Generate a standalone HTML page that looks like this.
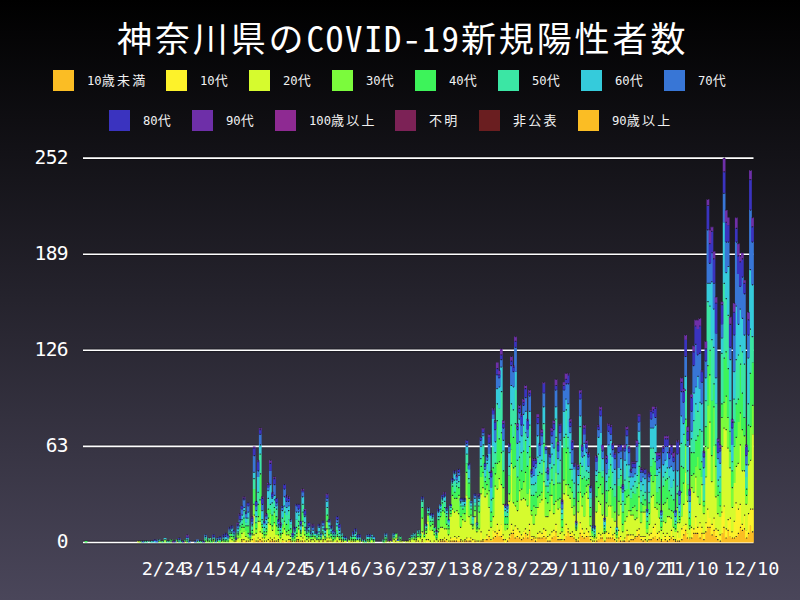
<!DOCTYPE html>
<html><head><meta charset="utf-8">
<style>
html,body{margin:0;padding:0}
body{width:800px;height:600px;overflow:hidden;position:relative;background:linear-gradient(to bottom,#000 0%,#4a465a 100%);color:#fff;font-family:"DejaVu Sans Mono","Noto Sans Mono CJK JP","Noto Sans CJK JP",monospace}
.t{position:absolute;white-space:nowrap;line-height:1}
#title{left:117px;top:19px;font-size:35px;font-family:"Noto Sans Mono CJK JP","Noto Sans CJK JP",monospace}
#title .c{letter-spacing:2.9px}
#title .l{letter-spacing:1.8px}
.lg{position:absolute;white-space:nowrap;line-height:1;font-size:12.2px;letter-spacing:0px;font-family:"DejaVu Sans Mono","Noto Sans Mono CJK JP",monospace;color:#f2f2f2}
.lg .c{letter-spacing:2.3px;font-size:13px;font-family:"Noto Sans Mono CJK JP","Noto Sans CJK JP",monospace}
.bx{position:absolute;width:21px;height:21px}
.yl{position:absolute;right:732px;font-size:19.5px;letter-spacing:-0.6px;line-height:1;font-family:"DejaVu Sans Mono",monospace;color:#fff}
.xl{position:absolute;top:560px;font-size:18.5px;transform:translateX(calc(-50% - 1px));line-height:1;font-family:"DejaVu Sans Mono",monospace;color:#fff;white-space:nowrap}
svg{position:absolute;left:0;top:0}
</style></head><body>
<div class="t" id="title"><span class="c">神奈川県の</span><span class="l">COVID-19</span><span class="c">新規陽性者数</span></div>

<div class="bx" style="left:53px;top:70px;background:#fbbd24"></div><div class="lg" style="left:87px;top:73px">10<span class="c">歳未満</span></div>
<div class="bx" style="left:166px;top:70px;background:#fdf22a"></div><div class="lg" style="left:200px;top:73px">10<span class="c">代</span></div>
<div class="bx" style="left:249px;top:70px;background:#d6fb2e"></div><div class="lg" style="left:283px;top:73px">20<span class="c">代</span></div>
<div class="bx" style="left:332px;top:70px;background:#7bfb3c"></div><div class="lg" style="left:366px;top:73px">30<span class="c">代</span></div>
<div class="bx" style="left:415px;top:70px;background:#3df35a"></div><div class="lg" style="left:449px;top:73px">40<span class="c">代</span></div>
<div class="bx" style="left:498px;top:70px;background:#3be6a4"></div><div class="lg" style="left:532px;top:73px">50<span class="c">代</span></div>
<div class="bx" style="left:581px;top:70px;background:#35cbdb"></div><div class="lg" style="left:615px;top:73px">60<span class="c">代</span></div>
<div class="bx" style="left:664px;top:70px;background:#3876d6"></div><div class="lg" style="left:698px;top:73px">70<span class="c">代</span></div>

<div class="bx" style="left:109px;top:110px;background:#3a33bf"></div><div class="lg" style="left:143px;top:113px">80<span class="c">代</span></div>
<div class="bx" style="left:192px;top:110px;background:#6e2fa8"></div><div class="lg" style="left:226px;top:113px">90<span class="c">代</span></div>
<div class="bx" style="left:275px;top:110px;background:#8e2a92"></div><div class="lg" style="left:309px;top:113px">100<span class="c">歳以上</span></div>
<div class="bx" style="left:395px;top:110px;background:#7c2256"></div><div class="lg" style="left:429px;top:113px"><span class="c">不明</span></div>
<div class="bx" style="left:479px;top:110px;background:#6a1e20"></div><div class="lg" style="left:513px;top:113px"><span class="c">非公表</span></div>
<div class="bx" style="left:578px;top:110px;background:#fbbd24"></div><div class="lg" style="left:612px;top:113px">90<span class="c">歳以上</span></div>

<div class="yl" style="top:148px">252</div>
<div class="yl" style="top:244px">189</div>
<div class="yl" style="top:340px">126</div>
<div class="yl" style="top:436px">63</div>
<div class="yl" style="top:532px">0</div>

<svg width="800" height="600" viewBox="0 0 800 600">
<g stroke="#000" stroke-width="3.8" opacity="0.28"><line x1="83" y1="158.1" x2="753.5" y2="158.1"/><line x1="83" y1="254.2" x2="753.5" y2="254.2"/><line x1="83" y1="350.3" x2="753.5" y2="350.3"/><line x1="83" y1="446.4" x2="753.5" y2="446.4"/><line x1="83" y1="542.5" x2="753.5" y2="542.5"/></g>
<g stroke="#fff" stroke-width="1.6"><line x1="83" y1="158.1" x2="753.5" y2="158.1"/><line x1="83" y1="254.2" x2="753.5" y2="254.2"/><line x1="83" y1="350.3" x2="753.5" y2="350.3"/><line x1="83" y1="446.4" x2="753.5" y2="446.4"/><line x1="83" y1="542.5" x2="753.5" y2="542.5"/></g>
<!--BARS-->
<path fill="#fbbd24" d="M240.65 540.97h2.73v1.53h-2.73zM244.70 540.97h2.73v1.53h-2.73zM252.81 537.92h2.73v4.58h-2.73zM256.86 540.97h2.73v1.53h-2.73zM258.88 539.45h2.73v3.05h-2.73zM260.91 540.97h2.73v1.53h-2.73zM269.01 540.97h2.73v1.53h-2.73zM271.04 540.97h2.73v1.53h-2.73zM273.06 540.97h2.73v1.53h-2.73zM277.12 540.97h2.73v1.53h-2.73zM281.17 540.97h2.73v1.53h-2.73zM287.24 540.97h2.73v1.53h-2.73zM289.27 540.97h2.73v1.53h-2.73zM295.35 540.97h2.73v1.53h-2.73zM297.37 540.97h2.73v1.53h-2.73zM301.42 540.97h2.73v1.53h-2.73zM317.63 540.97h2.73v1.53h-2.73zM321.68 540.97h2.73v1.53h-2.73zM325.73 540.97h2.73v1.53h-2.73zM335.86 540.97h2.73v1.53h-2.73zM339.91 540.97h2.73v1.53h-2.73zM420.94 540.97h2.73v1.53h-2.73zM439.17 540.97h2.73v1.53h-2.73zM441.20 540.97h2.73v1.53h-2.73zM443.22 540.97h2.73v1.53h-2.73zM445.25 540.97h2.73v1.53h-2.73zM449.30 540.97h2.73v1.53h-2.73zM451.32 540.97h2.73v1.53h-2.73zM453.35 540.97h2.73v1.53h-2.73zM455.38 540.97h2.73v1.53h-2.73zM457.40 540.97h2.73v1.53h-2.73zM459.43 540.97h2.73v1.53h-2.73zM463.48 540.97h2.73v1.53h-2.73zM465.50 540.97h2.73v1.53h-2.73zM467.53 540.97h2.73v1.53h-2.73zM469.55 540.97h2.73v1.53h-2.73zM473.61 540.97h2.73v1.53h-2.73zM479.68 540.97h2.73v1.53h-2.73zM481.71 540.97h2.73v1.53h-2.73zM483.73 539.45h2.73v3.05h-2.73zM485.76 539.45h2.73v3.05h-2.73zM487.79 536.40h2.73v6.10h-2.73zM489.81 540.97h2.73v1.53h-2.73zM491.84 537.92h2.73v4.58h-2.73zM493.86 536.40h2.73v6.10h-2.73zM495.89 533.35h2.73v9.15h-2.73zM497.91 536.40h2.73v6.10h-2.73zM499.94 536.40h2.73v6.10h-2.73zM501.97 539.45h2.73v3.05h-2.73zM506.02 540.97h2.73v1.53h-2.73zM508.04 537.92h2.73v4.58h-2.73zM510.07 533.35h2.73v9.15h-2.73zM512.09 533.35h2.73v9.15h-2.73zM514.12 537.92h2.73v4.58h-2.73zM516.15 536.40h2.73v6.10h-2.73zM518.17 537.92h2.73v4.58h-2.73zM520.20 539.45h2.73v3.05h-2.73zM522.22 537.92h2.73v4.58h-2.73zM524.25 533.35h2.73v9.15h-2.73zM526.27 537.92h2.73v4.58h-2.73zM528.30 530.30h2.73v12.20h-2.73zM530.33 539.45h2.73v3.05h-2.73zM532.35 537.92h2.73v4.58h-2.73zM534.38 540.97h2.73v1.53h-2.73zM536.40 537.92h2.73v4.58h-2.73zM538.43 537.92h2.73v4.58h-2.73zM540.45 537.92h2.73v4.58h-2.73zM542.48 536.40h2.73v6.10h-2.73zM544.50 537.92h2.73v4.58h-2.73zM546.53 540.97h2.73v1.53h-2.73zM548.56 540.97h2.73v1.53h-2.73zM550.58 537.92h2.73v4.58h-2.73zM552.61 536.40h2.73v6.10h-2.73zM554.63 531.82h2.73v10.68h-2.73zM556.66 539.45h2.73v3.05h-2.73zM558.68 539.45h2.73v3.05h-2.73zM560.71 540.97h2.73v1.53h-2.73zM562.74 539.45h2.73v3.05h-2.73zM564.76 536.40h2.73v6.10h-2.73zM566.79 531.82h2.73v10.68h-2.73zM568.81 536.40h2.73v6.10h-2.73zM570.84 536.40h2.73v6.10h-2.73zM572.86 537.92h2.73v4.58h-2.73zM574.89 540.97h2.73v1.53h-2.73zM576.92 540.97h2.73v1.53h-2.73zM578.94 533.35h2.73v9.15h-2.73zM580.97 536.40h2.73v6.10h-2.73zM582.99 537.92h2.73v4.58h-2.73zM585.02 536.40h2.73v6.10h-2.73zM587.04 536.40h2.73v6.10h-2.73zM589.07 539.45h2.73v3.05h-2.73zM595.15 540.97h2.73v1.53h-2.73zM597.17 539.45h2.73v3.05h-2.73zM599.20 537.92h2.73v4.58h-2.73zM601.22 537.92h2.73v4.58h-2.73zM603.25 540.97h2.73v1.53h-2.73zM605.28 537.92h2.73v4.58h-2.73zM607.30 537.92h2.73v4.58h-2.73zM609.33 537.92h2.73v4.58h-2.73zM611.35 537.92h2.73v4.58h-2.73zM613.38 539.45h2.73v3.05h-2.73zM617.43 537.92h2.73v4.58h-2.73zM619.46 540.97h2.73v1.53h-2.73zM621.48 540.97h2.73v1.53h-2.73zM623.51 540.97h2.73v1.53h-2.73zM625.53 534.87h2.73v7.63h-2.73zM627.56 540.97h2.73v1.53h-2.73zM629.58 539.45h2.73v3.05h-2.73zM631.61 539.45h2.73v3.05h-2.73zM633.63 537.92h2.73v4.58h-2.73zM635.66 536.40h2.73v6.10h-2.73zM637.69 534.87h2.73v7.63h-2.73zM639.71 539.45h2.73v3.05h-2.73zM641.74 540.97h2.73v1.53h-2.73zM643.76 539.45h2.73v3.05h-2.73zM647.81 539.45h2.73v3.05h-2.73zM649.84 539.45h2.73v3.05h-2.73zM651.87 537.92h2.73v4.58h-2.73zM653.89 536.40h2.73v6.10h-2.73zM655.92 539.45h2.73v3.05h-2.73zM657.94 537.92h2.73v4.58h-2.73zM659.97 540.97h2.73v1.53h-2.73zM661.99 540.97h2.73v1.53h-2.73zM664.02 539.45h2.73v3.05h-2.73zM666.05 540.97h2.73v1.53h-2.73zM668.07 539.45h2.73v3.05h-2.73zM670.10 537.92h2.73v4.58h-2.73zM672.12 539.45h2.73v3.05h-2.73zM674.15 540.97h2.73v1.53h-2.73zM676.17 540.97h2.73v1.53h-2.73zM678.20 540.97h2.73v1.53h-2.73zM680.23 539.45h2.73v3.05h-2.73zM682.25 534.87h2.73v7.63h-2.73zM684.28 530.30h2.73v12.20h-2.73zM686.30 537.92h2.73v4.58h-2.73zM688.33 539.45h2.73v3.05h-2.73zM690.35 537.92h2.73v4.58h-2.73zM692.38 533.35h2.73v9.15h-2.73zM694.41 533.35h2.73v9.15h-2.73zM696.43 533.35h2.73v9.15h-2.73zM698.46 537.92h2.73v4.58h-2.73zM700.48 533.35h2.73v9.15h-2.73zM702.51 539.45h2.73v3.05h-2.73zM704.53 531.82h2.73v10.68h-2.73zM706.56 527.25h2.73v15.25h-2.73zM708.59 527.25h2.73v15.25h-2.73zM710.61 534.87h2.73v7.63h-2.73zM712.64 530.30h2.73v12.20h-2.73zM714.66 536.40h2.73v6.10h-2.73zM716.69 539.45h2.73v3.05h-2.73zM718.71 540.97h2.73v1.53h-2.73zM720.74 533.35h2.73v9.15h-2.73zM722.76 527.25h2.73v15.25h-2.73zM724.79 537.92h2.73v4.58h-2.73zM726.82 530.30h2.73v12.20h-2.73zM728.84 536.40h2.73v6.10h-2.73zM730.87 537.92h2.73v4.58h-2.73zM732.89 537.92h2.73v4.58h-2.73zM734.92 536.40h2.73v6.10h-2.73zM736.94 533.35h2.73v9.15h-2.73zM738.97 527.25h2.73v15.25h-2.73zM741.00 530.30h2.73v12.20h-2.73zM743.02 528.77h2.73v13.73h-2.73zM745.05 537.92h2.73v4.58h-2.73zM747.07 533.35h2.73v9.15h-2.73zM749.10 525.72h2.73v16.78h-2.73zM751.12 531.82h2.73v10.68h-2.73z"/>
<path fill="#fdf22a" d="M183.93 540.97h2.73v1.53h-2.73zM234.58 540.97h2.73v1.53h-2.73zM236.60 540.97h2.73v1.53h-2.73zM240.65 539.45h2.73v1.53h-2.73zM242.68 539.45h2.73v3.05h-2.73zM246.73 540.97h2.73v1.53h-2.73zM248.76 540.97h2.73v1.53h-2.73zM250.78 539.45h2.73v3.05h-2.73zM252.81 534.87h2.73v3.05h-2.73zM254.83 540.97h2.73v1.53h-2.73zM256.86 537.92h2.73v3.05h-2.73zM258.88 531.82h2.73v7.63h-2.73zM260.91 537.92h2.73v3.05h-2.73zM262.94 540.97h2.73v1.53h-2.73zM264.96 540.97h2.73v1.53h-2.73zM266.99 539.45h2.73v3.05h-2.73zM269.01 537.92h2.73v3.05h-2.73zM271.04 539.45h2.73v1.53h-2.73zM273.06 537.92h2.73v3.05h-2.73zM275.09 540.97h2.73v1.53h-2.73zM277.12 539.45h2.73v1.53h-2.73zM281.17 539.45h2.73v1.53h-2.73zM283.19 540.97h2.73v1.53h-2.73zM285.22 540.97h2.73v1.53h-2.73zM287.24 539.45h2.73v1.53h-2.73zM289.27 539.45h2.73v1.53h-2.73zM295.35 539.45h2.73v1.53h-2.73zM297.37 539.45h2.73v1.53h-2.73zM299.40 540.97h2.73v1.53h-2.73zM301.42 537.92h2.73v3.05h-2.73zM303.45 540.97h2.73v1.53h-2.73zM307.50 540.97h2.73v1.53h-2.73zM309.53 540.97h2.73v1.53h-2.73zM313.58 540.97h2.73v1.53h-2.73zM321.68 539.45h2.73v1.53h-2.73zM325.73 537.92h2.73v3.05h-2.73zM327.76 540.97h2.73v1.53h-2.73zM329.78 540.97h2.73v1.53h-2.73zM350.04 540.97h2.73v1.53h-2.73zM394.60 540.97h2.73v1.53h-2.73zM408.78 540.97h2.73v1.53h-2.73zM414.86 540.97h2.73v1.53h-2.73zM416.89 540.97h2.73v1.53h-2.73zM420.94 539.45h2.73v1.53h-2.73zM424.99 539.45h2.73v3.05h-2.73zM427.02 539.45h2.73v3.05h-2.73zM429.04 540.97h2.73v1.53h-2.73zM433.09 540.97h2.73v1.53h-2.73zM437.14 540.97h2.73v1.53h-2.73zM439.17 539.45h2.73v1.53h-2.73zM441.20 539.45h2.73v1.53h-2.73zM443.22 537.92h2.73v3.05h-2.73zM445.25 539.45h2.73v1.53h-2.73zM447.27 540.97h2.73v1.53h-2.73zM449.30 537.92h2.73v3.05h-2.73zM451.32 537.92h2.73v3.05h-2.73zM453.35 536.40h2.73v4.58h-2.73zM455.38 537.92h2.73v3.05h-2.73zM457.40 536.40h2.73v4.58h-2.73zM459.43 539.45h2.73v1.53h-2.73zM461.45 540.97h2.73v1.53h-2.73zM463.48 539.45h2.73v1.53h-2.73zM465.50 537.92h2.73v3.05h-2.73zM467.53 537.92h2.73v3.05h-2.73zM469.55 537.92h2.73v3.05h-2.73zM471.58 539.45h2.73v3.05h-2.73zM473.61 539.45h2.73v1.53h-2.73zM475.63 540.97h2.73v1.53h-2.73zM477.66 540.97h2.73v1.53h-2.73zM479.68 531.82h2.73v9.15h-2.73zM481.71 539.45h2.73v1.53h-2.73zM483.73 537.92h2.73v1.53h-2.73zM485.76 534.87h2.73v4.58h-2.73zM487.79 530.30h2.73v6.10h-2.73zM489.81 539.45h2.73v1.53h-2.73zM491.84 530.30h2.73v7.63h-2.73zM493.86 531.82h2.73v4.58h-2.73zM495.89 524.20h2.73v9.15h-2.73zM497.91 530.30h2.73v6.10h-2.73zM499.94 524.20h2.73v12.20h-2.73zM501.97 534.87h2.73v4.58h-2.73zM503.99 539.45h2.73v3.05h-2.73zM506.02 537.92h2.73v3.05h-2.73zM508.04 534.87h2.73v3.05h-2.73zM510.07 524.20h2.73v9.15h-2.73zM512.09 530.30h2.73v3.05h-2.73zM514.12 525.72h2.73v12.20h-2.73zM516.15 528.77h2.73v7.63h-2.73zM518.17 531.82h2.73v6.10h-2.73zM520.20 534.87h2.73v4.58h-2.73zM522.22 531.82h2.73v6.10h-2.73zM524.25 528.77h2.73v4.58h-2.73zM526.27 534.87h2.73v3.05h-2.73zM528.30 524.20h2.73v6.10h-2.73zM530.33 536.40h2.73v3.05h-2.73zM532.35 536.40h2.73v1.53h-2.73zM534.38 537.92h2.73v3.05h-2.73zM536.40 533.35h2.73v4.58h-2.73zM538.43 531.82h2.73v6.10h-2.73zM540.45 533.35h2.73v4.58h-2.73zM542.48 528.77h2.73v7.63h-2.73zM544.50 530.30h2.73v7.63h-2.73zM546.53 536.40h2.73v4.58h-2.73zM548.56 534.87h2.73v6.10h-2.73zM550.58 531.82h2.73v6.10h-2.73zM552.61 530.30h2.73v6.10h-2.73zM554.63 524.20h2.73v7.63h-2.73zM556.66 536.40h2.73v3.05h-2.73zM558.68 533.35h2.73v6.10h-2.73zM560.71 539.45h2.73v1.53h-2.73zM562.74 534.87h2.73v4.58h-2.73zM564.76 524.20h2.73v12.20h-2.73zM566.79 528.77h2.73v3.05h-2.73zM568.81 533.35h2.73v3.05h-2.73zM570.84 531.82h2.73v4.58h-2.73zM572.86 534.87h2.73v3.05h-2.73zM574.89 539.45h2.73v1.53h-2.73zM576.92 537.92h2.73v3.05h-2.73zM578.94 522.67h2.73v10.68h-2.73zM580.97 528.77h2.73v7.63h-2.73zM582.99 533.35h2.73v4.58h-2.73zM585.02 528.77h2.73v7.63h-2.73zM587.04 531.82h2.73v4.58h-2.73zM589.07 536.40h2.73v3.05h-2.73zM591.10 540.97h2.73v1.53h-2.73zM593.12 540.97h2.73v1.53h-2.73zM595.15 537.92h2.73v3.05h-2.73zM597.17 533.35h2.73v6.10h-2.73zM599.20 534.87h2.73v3.05h-2.73zM601.22 533.35h2.73v4.58h-2.73zM605.28 531.82h2.73v6.10h-2.73zM607.30 533.35h2.73v4.58h-2.73zM609.33 527.25h2.73v10.68h-2.73zM611.35 534.87h2.73v3.05h-2.73zM613.38 533.35h2.73v6.10h-2.73zM615.40 540.97h2.73v1.53h-2.73zM617.43 530.30h2.73v7.63h-2.73zM619.46 536.40h2.73v4.58h-2.73zM623.51 537.92h2.73v3.05h-2.73zM625.53 530.30h2.73v4.58h-2.73zM627.56 534.87h2.73v6.10h-2.73zM629.58 534.87h2.73v4.58h-2.73zM631.61 534.87h2.73v4.58h-2.73zM633.63 536.40h2.73v1.53h-2.73zM635.66 530.30h2.73v6.10h-2.73zM637.69 528.77h2.73v6.10h-2.73zM639.71 536.40h2.73v3.05h-2.73zM641.74 536.40h2.73v4.58h-2.73zM643.76 536.40h2.73v3.05h-2.73zM645.79 540.97h2.73v1.53h-2.73zM647.81 534.87h2.73v4.58h-2.73zM649.84 533.35h2.73v6.10h-2.73zM651.87 527.25h2.73v10.68h-2.73zM653.89 524.20h2.73v12.20h-2.73zM655.92 533.35h2.73v6.10h-2.73zM657.94 531.82h2.73v6.10h-2.73zM659.97 539.45h2.73v1.53h-2.73zM661.99 533.35h2.73v7.63h-2.73zM664.02 536.40h2.73v3.05h-2.73zM666.05 533.35h2.73v7.63h-2.73zM668.07 536.40h2.73v3.05h-2.73zM670.10 530.30h2.73v7.63h-2.73zM672.12 536.40h2.73v3.05h-2.73zM674.15 539.45h2.73v1.53h-2.73zM676.17 531.82h2.73v9.15h-2.73zM678.20 537.92h2.73v3.05h-2.73zM680.23 528.77h2.73v10.68h-2.73zM682.25 525.72h2.73v9.15h-2.73zM684.28 524.20h2.73v6.10h-2.73zM686.30 533.35h2.73v4.58h-2.73zM688.33 537.92h2.73v1.53h-2.73zM690.35 527.25h2.73v10.68h-2.73zM692.38 528.77h2.73v4.58h-2.73zM694.41 516.57h2.73v16.78h-2.73zM696.43 527.25h2.73v6.10h-2.73zM698.46 522.67h2.73v15.25h-2.73zM700.48 527.25h2.73v6.10h-2.73zM702.51 533.35h2.73v6.10h-2.73zM704.53 522.67h2.73v9.15h-2.73zM706.56 508.94h2.73v18.30h-2.73zM708.59 518.09h2.73v9.15h-2.73zM710.61 524.20h2.73v10.68h-2.73zM712.64 518.09h2.73v12.20h-2.73zM714.66 528.77h2.73v7.63h-2.73zM716.69 530.30h2.73v9.15h-2.73zM718.71 534.87h2.73v6.10h-2.73zM720.74 511.99h2.73v21.36h-2.73zM722.76 505.89h2.73v21.36h-2.73zM724.79 528.77h2.73v9.15h-2.73zM726.82 519.62h2.73v10.68h-2.73zM728.84 518.09h2.73v18.30h-2.73zM730.87 531.82h2.73v6.10h-2.73zM732.89 521.14h2.73v16.78h-2.73zM734.92 502.84h2.73v33.56h-2.73zM736.94 508.94h2.73v24.41h-2.73zM738.97 504.37h2.73v22.88h-2.73zM741.00 524.20h2.73v6.10h-2.73zM743.02 515.04h2.73v13.73h-2.73zM745.05 530.30h2.73v7.63h-2.73zM747.07 513.52h2.73v19.83h-2.73zM749.10 508.94h2.73v16.78h-2.73zM751.12 508.94h2.73v22.88h-2.73z"/>
<path fill="#d6fb2e" d="M137.34 540.97h2.73v1.53h-2.73zM163.68 540.97h2.73v1.53h-2.73zM175.83 540.97h2.73v1.53h-2.73zM212.29 540.97h2.73v1.53h-2.73zM216.34 540.97h2.73v1.53h-2.73zM220.40 540.97h2.73v1.53h-2.73zM228.50 537.92h2.73v4.58h-2.73zM230.52 539.45h2.73v3.05h-2.73zM232.55 540.97h2.73v1.53h-2.73zM234.58 539.45h2.73v1.53h-2.73zM236.60 537.92h2.73v3.05h-2.73zM238.63 537.92h2.73v4.58h-2.73zM240.65 533.35h2.73v6.10h-2.73zM242.68 531.82h2.73v7.63h-2.73zM244.70 536.40h2.73v4.58h-2.73zM246.73 537.92h2.73v3.05h-2.73zM248.76 539.45h2.73v1.53h-2.73zM250.78 534.87h2.73v4.58h-2.73zM252.81 515.04h2.73v19.83h-2.73zM254.83 533.35h2.73v7.63h-2.73zM256.86 521.14h2.73v16.78h-2.73zM258.88 521.14h2.73v10.68h-2.73zM260.91 533.35h2.73v4.58h-2.73zM262.94 537.92h2.73v3.05h-2.73zM264.96 534.87h2.73v6.10h-2.73zM266.99 522.67h2.73v16.78h-2.73zM269.01 524.20h2.73v13.73h-2.73zM271.04 530.30h2.73v9.15h-2.73zM273.06 522.67h2.73v15.25h-2.73zM275.09 534.87h2.73v6.10h-2.73zM277.12 534.87h2.73v4.58h-2.73zM279.14 537.92h2.73v4.58h-2.73zM281.17 533.35h2.73v6.10h-2.73zM283.19 528.77h2.73v12.20h-2.73zM285.22 534.87h2.73v6.10h-2.73zM287.24 534.87h2.73v4.58h-2.73zM289.27 536.40h2.73v3.05h-2.73zM291.30 540.97h2.73v1.53h-2.73zM293.32 540.97h2.73v1.53h-2.73zM295.35 536.40h2.73v3.05h-2.73zM297.37 528.77h2.73v10.68h-2.73zM299.40 536.40h2.73v4.58h-2.73zM301.42 525.72h2.73v12.20h-2.73zM303.45 534.87h2.73v6.10h-2.73zM305.47 539.45h2.73v3.05h-2.73zM307.50 537.92h2.73v3.05h-2.73zM309.53 539.45h2.73v1.53h-2.73zM311.55 539.45h2.73v3.05h-2.73zM313.58 537.92h2.73v3.05h-2.73zM315.60 539.45h2.73v3.05h-2.73zM317.63 539.45h2.73v1.53h-2.73zM319.65 539.45h2.73v3.05h-2.73zM321.68 534.87h2.73v4.58h-2.73zM323.71 539.45h2.73v3.05h-2.73zM325.73 528.77h2.73v9.15h-2.73zM327.76 537.92h2.73v3.05h-2.73zM329.78 537.92h2.73v3.05h-2.73zM331.81 540.97h2.73v1.53h-2.73zM333.83 539.45h2.73v3.05h-2.73zM335.86 536.40h2.73v4.58h-2.73zM337.89 539.45h2.73v3.05h-2.73zM339.91 539.45h2.73v1.53h-2.73zM341.94 540.97h2.73v1.53h-2.73zM343.96 540.97h2.73v1.53h-2.73zM348.01 540.97h2.73v1.53h-2.73zM350.04 539.45h2.73v1.53h-2.73zM352.07 540.97h2.73v1.53h-2.73zM354.09 540.97h2.73v1.53h-2.73zM356.12 539.45h2.73v3.05h-2.73zM358.14 540.97h2.73v1.53h-2.73zM366.25 540.97h2.73v1.53h-2.73zM370.30 539.45h2.73v3.05h-2.73zM384.48 540.97h2.73v1.53h-2.73zM388.53 540.97h2.73v1.53h-2.73zM392.58 539.45h2.73v3.05h-2.73zM394.60 537.92h2.73v3.05h-2.73zM396.63 540.97h2.73v1.53h-2.73zM398.66 540.97h2.73v1.53h-2.73zM400.68 540.97h2.73v1.53h-2.73zM404.73 540.97h2.73v1.53h-2.73zM406.76 540.97h2.73v1.53h-2.73zM408.78 539.45h2.73v1.53h-2.73zM410.81 539.45h2.73v3.05h-2.73zM412.84 539.45h2.73v3.05h-2.73zM414.86 539.45h2.73v1.53h-2.73zM416.89 537.92h2.73v3.05h-2.73zM418.91 537.92h2.73v4.58h-2.73zM420.94 531.82h2.73v7.63h-2.73zM422.96 537.92h2.73v4.58h-2.73zM424.99 533.35h2.73v6.10h-2.73zM427.02 521.14h2.73v18.30h-2.73zM429.04 530.30h2.73v10.68h-2.73zM431.07 530.30h2.73v12.20h-2.73zM433.09 534.87h2.73v6.10h-2.73zM435.12 539.45h2.73v3.05h-2.73zM437.14 531.82h2.73v9.15h-2.73zM439.17 527.25h2.73v12.20h-2.73zM441.20 527.25h2.73v12.20h-2.73zM443.22 528.77h2.73v9.15h-2.73zM445.25 528.77h2.73v10.68h-2.73zM447.27 534.87h2.73v6.10h-2.73zM449.30 516.57h2.73v21.36h-2.73zM451.32 508.94h2.73v28.98h-2.73zM453.35 511.99h2.73v24.41h-2.73zM455.38 510.47h2.73v27.46h-2.73zM457.40 513.52h2.73v22.88h-2.73zM459.43 527.25h2.73v12.20h-2.73zM461.45 519.62h2.73v21.36h-2.73zM463.48 521.14h2.73v18.30h-2.73zM465.50 495.21h2.73v42.71h-2.73zM467.53 516.57h2.73v21.36h-2.73zM469.55 524.20h2.73v13.73h-2.73zM471.58 528.77h2.73v10.68h-2.73zM473.61 516.57h2.73v22.88h-2.73zM475.63 531.82h2.73v9.15h-2.73zM477.66 528.77h2.73v12.20h-2.73zM479.68 493.69h2.73v38.13h-2.73zM481.71 487.59h2.73v51.86h-2.73zM483.73 496.74h2.73v41.19h-2.73zM485.76 493.69h2.73v41.19h-2.73zM487.79 507.42h2.73v22.88h-2.73zM489.81 527.25h2.73v12.20h-2.73zM491.84 516.57h2.73v13.73h-2.73zM493.86 486.06h2.73v45.76h-2.73zM495.89 489.11h2.73v35.08h-2.73zM497.91 478.43h2.73v51.86h-2.73zM499.94 484.53h2.73v39.66h-2.73zM501.97 504.37h2.73v30.51h-2.73zM503.99 530.30h2.73v9.15h-2.73zM506.02 528.77h2.73v9.15h-2.73zM508.04 501.31h2.73v33.56h-2.73zM510.07 463.18h2.73v61.02h-2.73zM512.09 502.84h2.73v27.46h-2.73zM514.12 505.89h2.73v19.83h-2.73zM516.15 510.47h2.73v18.30h-2.73zM518.17 490.64h2.73v41.19h-2.73zM520.20 499.79h2.73v35.08h-2.73zM522.22 498.26h2.73v33.56h-2.73zM524.25 499.79h2.73v28.98h-2.73zM526.27 505.89h2.73v28.98h-2.73zM528.30 489.11h2.73v35.08h-2.73zM530.33 515.04h2.73v21.36h-2.73zM532.35 524.20h2.73v12.20h-2.73zM534.38 515.04h2.73v22.88h-2.73zM536.40 507.42h2.73v25.93h-2.73zM538.43 502.84h2.73v28.98h-2.73zM540.45 499.79h2.73v33.56h-2.73zM542.48 481.48h2.73v47.29h-2.73zM544.50 516.57h2.73v13.73h-2.73zM546.53 516.57h2.73v19.83h-2.73zM548.56 510.47h2.73v24.41h-2.73zM550.58 495.21h2.73v36.61h-2.73zM552.61 513.52h2.73v16.78h-2.73zM554.63 501.31h2.73v22.88h-2.73zM556.66 508.94h2.73v27.46h-2.73zM558.68 507.42h2.73v25.93h-2.73zM560.71 531.82h2.73v7.63h-2.73zM562.74 493.69h2.73v41.19h-2.73zM564.76 484.53h2.73v39.66h-2.73zM566.79 495.21h2.73v33.56h-2.73zM568.81 498.26h2.73v35.08h-2.73zM570.84 507.42h2.73v24.41h-2.73zM572.86 515.04h2.73v19.83h-2.73zM574.89 530.30h2.73v9.15h-2.73zM576.92 511.99h2.73v25.93h-2.73zM578.94 492.16h2.73v30.51h-2.73zM580.97 505.89h2.73v22.88h-2.73zM582.99 516.57h2.73v16.78h-2.73zM585.02 492.16h2.73v36.61h-2.73zM587.04 498.26h2.73v33.56h-2.73zM589.07 525.72h2.73v10.68h-2.73zM591.10 536.40h2.73v4.58h-2.73zM593.12 537.92h2.73v3.05h-2.73zM595.15 511.99h2.73v25.93h-2.73zM597.17 501.31h2.73v32.03h-2.73zM599.20 504.37h2.73v30.51h-2.73zM601.22 515.04h2.73v18.30h-2.73zM603.25 533.35h2.73v7.63h-2.73zM605.28 516.57h2.73v15.25h-2.73zM607.30 505.89h2.73v27.46h-2.73zM609.33 505.89h2.73v21.36h-2.73zM611.35 518.09h2.73v16.78h-2.73zM613.38 521.14h2.73v12.20h-2.73zM615.40 537.92h2.73v3.05h-2.73zM617.43 515.04h2.73v15.25h-2.73zM619.46 504.37h2.73v32.03h-2.73zM621.48 531.82h2.73v9.15h-2.73zM623.51 521.14h2.73v16.78h-2.73zM625.53 516.57h2.73v13.73h-2.73zM627.56 510.47h2.73v24.41h-2.73zM629.58 515.04h2.73v19.83h-2.73zM631.61 515.04h2.73v19.83h-2.73zM633.63 519.62h2.73v16.78h-2.73zM635.66 518.09h2.73v12.20h-2.73zM637.69 496.74h2.73v32.03h-2.73zM639.71 522.67h2.73v13.73h-2.73zM641.74 511.99h2.73v24.41h-2.73zM643.76 511.99h2.73v24.41h-2.73zM645.79 533.35h2.73v7.63h-2.73zM647.81 524.20h2.73v10.68h-2.73zM649.84 496.74h2.73v36.61h-2.73zM651.87 495.21h2.73v32.03h-2.73zM653.89 507.42h2.73v16.78h-2.73zM655.92 508.94h2.73v24.41h-2.73zM657.94 518.09h2.73v13.73h-2.73zM659.97 530.30h2.73v9.15h-2.73zM661.99 521.14h2.73v12.20h-2.73zM664.02 522.67h2.73v13.73h-2.73zM666.05 516.57h2.73v16.78h-2.73zM668.07 516.57h2.73v19.83h-2.73zM670.10 518.09h2.73v12.20h-2.73zM672.12 527.25h2.73v9.15h-2.73zM674.15 531.82h2.73v7.63h-2.73zM676.17 522.67h2.73v9.15h-2.73zM678.20 522.67h2.73v15.25h-2.73zM680.23 516.57h2.73v12.20h-2.73zM682.25 504.37h2.73v21.36h-2.73zM684.28 472.33h2.73v51.86h-2.73zM686.30 501.31h2.73v32.03h-2.73zM688.33 528.77h2.73v9.15h-2.73zM690.35 487.59h2.73v39.66h-2.73zM692.38 492.16h2.73v36.61h-2.73zM694.41 476.91h2.73v39.66h-2.73zM696.43 496.74h2.73v30.51h-2.73zM698.46 504.37h2.73v18.30h-2.73zM700.48 484.53h2.73v42.71h-2.73zM702.51 513.52h2.73v19.83h-2.73zM704.53 476.91h2.73v45.76h-2.73zM706.56 447.93h2.73v61.02h-2.73zM708.59 421.99h2.73v96.10h-2.73zM710.61 481.48h2.73v42.71h-2.73zM712.64 446.40h2.73v71.69h-2.73zM714.66 496.74h2.73v32.03h-2.73zM716.69 513.52h2.73v16.78h-2.73zM718.71 516.57h2.73v18.30h-2.73zM720.74 446.40h2.73v65.59h-2.73zM722.76 428.10h2.73v77.80h-2.73zM724.79 429.62h2.73v99.15h-2.73zM726.82 447.93h2.73v71.69h-2.73zM728.84 467.76h2.73v50.34h-2.73zM730.87 507.42h2.73v24.41h-2.73zM732.89 483.01h2.73v38.13h-2.73zM734.92 466.23h2.73v36.61h-2.73zM736.94 463.18h2.73v45.76h-2.73zM738.97 444.87h2.73v59.49h-2.73zM741.00 470.81h2.73v53.39h-2.73zM743.02 470.81h2.73v44.24h-2.73zM745.05 504.37h2.73v25.93h-2.73zM747.07 464.70h2.73v48.81h-2.73zM749.10 460.13h2.73v48.81h-2.73zM751.12 434.20h2.73v74.74h-2.73z"/>
<path fill="#7bfb3c" d="M139.37 540.97h2.73v1.53h-2.73zM157.60 540.97h2.73v1.53h-2.73zM159.63 540.97h2.73v1.53h-2.73zM163.68 539.45h2.73v1.53h-2.73zM169.75 540.97h2.73v1.53h-2.73zM196.09 540.97h2.73v1.53h-2.73zM204.19 540.97h2.73v1.53h-2.73zM206.22 540.97h2.73v1.53h-2.73zM208.24 540.97h2.73v1.53h-2.73zM212.29 539.45h2.73v1.53h-2.73zM222.42 540.97h2.73v1.53h-2.73zM224.45 540.97h2.73v1.53h-2.73zM226.47 540.97h2.73v1.53h-2.73zM228.50 536.40h2.73v1.53h-2.73zM230.52 536.40h2.73v3.05h-2.73zM232.55 537.92h2.73v3.05h-2.73zM236.60 534.87h2.73v3.05h-2.73zM238.63 530.30h2.73v7.63h-2.73zM240.65 527.25h2.73v6.10h-2.73zM242.68 527.25h2.73v4.58h-2.73zM244.70 530.30h2.73v6.10h-2.73zM246.73 533.35h2.73v4.58h-2.73zM248.76 537.92h2.73v1.53h-2.73zM250.78 533.35h2.73v1.53h-2.73zM252.81 504.37h2.73v10.68h-2.73zM254.83 528.77h2.73v4.58h-2.73zM256.86 516.57h2.73v4.58h-2.73zM258.88 499.79h2.73v21.36h-2.73zM260.91 527.25h2.73v6.10h-2.73zM262.94 534.87h2.73v3.05h-2.73zM264.96 531.82h2.73v3.05h-2.73zM266.99 518.09h2.73v4.58h-2.73zM269.01 513.52h2.73v10.68h-2.73zM271.04 525.72h2.73v4.58h-2.73zM273.06 511.99h2.73v10.68h-2.73zM275.09 525.72h2.73v9.15h-2.73zM277.12 530.30h2.73v4.58h-2.73zM279.14 534.87h2.73v3.05h-2.73zM281.17 527.25h2.73v6.10h-2.73zM283.19 521.14h2.73v7.63h-2.73zM285.22 531.82h2.73v3.05h-2.73zM287.24 530.30h2.73v4.58h-2.73zM289.27 533.35h2.73v3.05h-2.73zM291.30 539.45h2.73v1.53h-2.73zM293.32 537.92h2.73v3.05h-2.73zM295.35 533.35h2.73v3.05h-2.73zM297.37 525.72h2.73v3.05h-2.73zM299.40 533.35h2.73v3.05h-2.73zM301.42 521.14h2.73v4.58h-2.73zM303.45 530.30h2.73v4.58h-2.73zM305.47 536.40h2.73v3.05h-2.73zM307.50 536.40h2.73v1.53h-2.73zM309.53 537.92h2.73v1.53h-2.73zM311.55 536.40h2.73v3.05h-2.73zM313.58 536.40h2.73v1.53h-2.73zM317.63 536.40h2.73v3.05h-2.73zM321.68 533.35h2.73v1.53h-2.73zM323.71 537.92h2.73v1.53h-2.73zM325.73 521.14h2.73v7.63h-2.73zM327.76 534.87h2.73v3.05h-2.73zM329.78 536.40h2.73v1.53h-2.73zM331.81 539.45h2.73v1.53h-2.73zM333.83 537.92h2.73v1.53h-2.73zM335.86 534.87h2.73v1.53h-2.73zM337.89 537.92h2.73v1.53h-2.73zM339.91 537.92h2.73v1.53h-2.73zM341.94 539.45h2.73v1.53h-2.73zM348.01 539.45h2.73v1.53h-2.73zM352.07 539.45h2.73v1.53h-2.73zM354.09 539.45h2.73v1.53h-2.73zM358.14 539.45h2.73v1.53h-2.73zM362.19 540.97h2.73v1.53h-2.73zM366.25 539.45h2.73v1.53h-2.73zM368.27 540.97h2.73v1.53h-2.73zM372.32 540.97h2.73v1.53h-2.73zM384.48 539.45h2.73v1.53h-2.73zM392.58 537.92h2.73v1.53h-2.73zM394.60 534.87h2.73v3.05h-2.73zM398.66 539.45h2.73v1.53h-2.73zM410.81 537.92h2.73v1.53h-2.73zM412.84 537.92h2.73v1.53h-2.73zM414.86 537.92h2.73v1.53h-2.73zM416.89 536.40h2.73v1.53h-2.73zM418.91 536.40h2.73v1.53h-2.73zM420.94 518.09h2.73v13.73h-2.73zM422.96 536.40h2.73v1.53h-2.73zM424.99 530.30h2.73v3.05h-2.73zM427.02 515.04h2.73v6.10h-2.73zM429.04 525.72h2.73v4.58h-2.73zM431.07 524.20h2.73v6.10h-2.73zM433.09 531.82h2.73v3.05h-2.73zM435.12 537.92h2.73v1.53h-2.73zM437.14 528.77h2.73v3.05h-2.73zM439.17 516.57h2.73v10.68h-2.73zM441.20 510.47h2.73v16.78h-2.73zM443.22 511.99h2.73v16.78h-2.73zM445.25 524.20h2.73v4.58h-2.73zM447.27 528.77h2.73v6.10h-2.73zM449.30 513.52h2.73v3.05h-2.73zM451.32 495.21h2.73v13.73h-2.73zM453.35 498.26h2.73v13.73h-2.73zM455.38 498.26h2.73v12.20h-2.73zM457.40 495.21h2.73v18.30h-2.73zM459.43 516.57h2.73v10.68h-2.73zM461.45 513.52h2.73v6.10h-2.73zM463.48 513.52h2.73v7.63h-2.73zM465.50 472.33h2.73v22.88h-2.73zM467.53 498.26h2.73v18.30h-2.73zM469.55 515.04h2.73v9.15h-2.73zM471.58 525.72h2.73v3.05h-2.73zM473.61 510.47h2.73v6.10h-2.73zM475.63 528.77h2.73v3.05h-2.73zM477.66 511.99h2.73v16.78h-2.73zM479.68 476.91h2.73v16.78h-2.73zM481.71 472.33h2.73v15.25h-2.73zM483.73 489.11h2.73v7.63h-2.73zM485.76 484.53h2.73v9.15h-2.73zM487.79 490.64h2.73v16.78h-2.73zM489.81 521.14h2.73v6.10h-2.73zM491.84 498.26h2.73v18.30h-2.73zM493.86 473.86h2.73v12.20h-2.73zM495.89 463.18h2.73v25.93h-2.73zM497.91 461.65h2.73v16.78h-2.73zM499.94 452.50h2.73v32.03h-2.73zM501.97 487.59h2.73v16.78h-2.73zM503.99 524.20h2.73v6.10h-2.73zM506.02 524.20h2.73v4.58h-2.73zM508.04 493.69h2.73v7.63h-2.73zM510.07 449.45h2.73v13.73h-2.73zM512.09 467.76h2.73v35.08h-2.73zM514.12 466.23h2.73v39.66h-2.73zM516.15 501.31h2.73v9.15h-2.73zM518.17 479.96h2.73v10.68h-2.73zM520.20 489.11h2.73v10.68h-2.73zM522.22 481.48h2.73v16.78h-2.73zM524.25 472.33h2.73v27.46h-2.73zM526.27 493.69h2.73v12.20h-2.73zM528.30 457.08h2.73v32.03h-2.73zM530.33 510.47h2.73v4.58h-2.73zM532.35 505.89h2.73v18.30h-2.73zM534.38 507.42h2.73v7.63h-2.73zM536.40 496.74h2.73v10.68h-2.73zM538.43 495.21h2.73v7.63h-2.73zM540.45 492.16h2.73v7.63h-2.73zM542.48 461.65h2.73v19.83h-2.73zM544.50 498.26h2.73v18.30h-2.73zM546.53 502.84h2.73v13.73h-2.73zM548.56 495.21h2.73v15.25h-2.73zM550.58 479.96h2.73v15.25h-2.73zM552.61 504.37h2.73v9.15h-2.73zM554.63 472.33h2.73v28.98h-2.73zM556.66 499.79h2.73v9.15h-2.73zM558.68 498.26h2.73v9.15h-2.73zM560.71 527.25h2.73v4.58h-2.73zM562.74 479.96h2.73v13.73h-2.73zM564.76 452.50h2.73v32.03h-2.73zM566.79 484.53h2.73v10.68h-2.73zM568.81 487.59h2.73v10.68h-2.73zM570.84 492.16h2.73v15.25h-2.73zM572.86 505.89h2.73v9.15h-2.73zM574.89 528.77h2.73v1.53h-2.73zM576.92 501.31h2.73v10.68h-2.73zM578.94 475.38h2.73v16.78h-2.73zM580.97 496.74h2.73v9.15h-2.73zM582.99 493.69h2.73v22.88h-2.73zM585.02 486.06h2.73v6.10h-2.73zM587.04 484.53h2.73v13.73h-2.73zM589.07 516.57h2.73v9.15h-2.73zM591.10 533.35h2.73v3.05h-2.73zM593.12 536.40h2.73v1.53h-2.73zM595.15 496.74h2.73v15.25h-2.73zM597.17 487.59h2.73v13.73h-2.73zM599.20 484.53h2.73v19.83h-2.73zM601.22 493.69h2.73v21.36h-2.73zM603.25 531.82h2.73v1.53h-2.73zM605.28 502.84h2.73v13.73h-2.73zM607.30 490.64h2.73v15.25h-2.73zM609.33 487.59h2.73v18.30h-2.73zM611.35 505.89h2.73v12.20h-2.73zM613.38 511.99h2.73v9.15h-2.73zM615.40 534.87h2.73v3.05h-2.73zM617.43 501.31h2.73v13.73h-2.73zM619.46 487.59h2.73v16.78h-2.73zM621.48 524.20h2.73v7.63h-2.73zM623.51 504.37h2.73v16.78h-2.73zM625.53 496.74h2.73v19.83h-2.73zM627.56 495.21h2.73v15.25h-2.73zM629.58 510.47h2.73v4.58h-2.73zM631.61 507.42h2.73v7.63h-2.73zM633.63 505.89h2.73v13.73h-2.73zM635.66 510.47h2.73v7.63h-2.73zM637.69 483.01h2.73v13.73h-2.73zM639.71 511.99h2.73v10.68h-2.73zM641.74 504.37h2.73v7.63h-2.73zM643.76 505.89h2.73v6.10h-2.73zM645.79 528.77h2.73v4.58h-2.73zM647.81 513.52h2.73v10.68h-2.73zM649.84 475.38h2.73v21.36h-2.73zM651.87 481.48h2.73v13.73h-2.73zM653.89 475.38h2.73v32.03h-2.73zM655.92 502.84h2.73v6.10h-2.73zM657.94 504.37h2.73v13.73h-2.73zM659.97 527.25h2.73v3.05h-2.73zM661.99 504.37h2.73v16.78h-2.73zM664.02 502.84h2.73v19.83h-2.73zM666.05 498.26h2.73v18.30h-2.73zM668.07 508.94h2.73v7.63h-2.73zM670.10 510.47h2.73v7.63h-2.73zM672.12 511.99h2.73v15.25h-2.73zM674.15 528.77h2.73v3.05h-2.73zM676.17 507.42h2.73v15.25h-2.73zM678.20 519.62h2.73v3.05h-2.73zM680.23 492.16h2.73v24.41h-2.73zM682.25 483.01h2.73v21.36h-2.73zM684.28 444.87h2.73v27.46h-2.73zM686.30 495.21h2.73v6.10h-2.73zM688.33 525.72h2.73v3.05h-2.73zM690.35 475.38h2.73v12.20h-2.73zM692.38 473.86h2.73v18.30h-2.73zM694.41 466.23h2.73v10.68h-2.73zM696.43 457.08h2.73v39.66h-2.73zM698.46 469.28h2.73v35.08h-2.73zM700.48 476.91h2.73v7.63h-2.73zM702.51 505.89h2.73v7.63h-2.73zM704.53 446.40h2.73v30.51h-2.73zM706.56 405.21h2.73v42.71h-2.73zM708.59 374.71h2.73v47.29h-2.73zM710.61 455.55h2.73v25.93h-2.73zM712.64 406.74h2.73v39.66h-2.73zM714.66 466.23h2.73v30.51h-2.73zM716.69 495.21h2.73v18.30h-2.73zM718.71 505.89h2.73v10.68h-2.73zM720.74 417.42h2.73v28.98h-2.73zM722.76 402.16h2.73v25.93h-2.73zM724.79 396.06h2.73v33.56h-2.73zM726.82 417.42h2.73v30.51h-2.73zM728.84 450.98h2.73v16.78h-2.73zM730.87 487.59h2.73v19.83h-2.73zM732.89 446.40h2.73v36.61h-2.73zM734.92 437.25h2.73v28.98h-2.73zM736.94 421.99h2.73v41.19h-2.73zM738.97 412.84h2.73v32.03h-2.73zM741.00 429.62h2.73v41.19h-2.73zM743.02 435.72h2.73v35.08h-2.73zM745.05 495.21h2.73v9.15h-2.73zM747.07 450.98h2.73v13.73h-2.73zM749.10 426.57h2.73v33.56h-2.73zM751.12 405.21h2.73v28.98h-2.73z"/>
<path fill="#3df35a" d="M84.68 540.97h2.73v1.53h-2.73zM169.75 539.45h2.73v1.53h-2.73zM175.83 539.45h2.73v1.53h-2.73zM179.88 540.97h2.73v1.53h-2.73zM183.93 539.45h2.73v1.53h-2.73zM185.96 540.97h2.73v1.53h-2.73zM200.14 540.97h2.73v1.53h-2.73zM204.19 539.45h2.73v1.53h-2.73zM208.24 539.45h2.73v1.53h-2.73zM210.27 540.97h2.73v1.53h-2.73zM218.37 540.97h2.73v1.53h-2.73zM222.42 539.45h2.73v1.53h-2.73zM224.45 539.45h2.73v1.53h-2.73zM226.47 539.45h2.73v1.53h-2.73zM228.50 533.35h2.73v3.05h-2.73zM230.52 533.35h2.73v3.05h-2.73zM232.55 536.40h2.73v1.53h-2.73zM236.60 533.35h2.73v1.53h-2.73zM238.63 525.72h2.73v4.58h-2.73zM240.65 524.20h2.73v3.05h-2.73zM242.68 518.09h2.73v9.15h-2.73zM244.70 525.72h2.73v4.58h-2.73zM246.73 525.72h2.73v7.63h-2.73zM248.76 536.40h2.73v1.53h-2.73zM250.78 530.30h2.73v3.05h-2.73zM252.81 489.11h2.73v15.25h-2.73zM254.83 522.67h2.73v6.10h-2.73zM256.86 504.37h2.73v12.20h-2.73zM258.88 473.86h2.73v25.93h-2.73zM260.91 524.20h2.73v3.05h-2.73zM262.94 531.82h2.73v3.05h-2.73zM264.96 528.77h2.73v3.05h-2.73zM266.99 508.94h2.73v9.15h-2.73zM269.01 508.94h2.73v4.58h-2.73zM271.04 515.04h2.73v10.68h-2.73zM273.06 507.42h2.73v4.58h-2.73zM275.09 516.57h2.73v9.15h-2.73zM277.12 527.25h2.73v3.05h-2.73zM279.14 533.35h2.73v1.53h-2.73zM281.17 524.20h2.73v3.05h-2.73zM283.19 511.99h2.73v9.15h-2.73zM285.22 524.20h2.73v7.63h-2.73zM287.24 519.62h2.73v10.68h-2.73zM289.27 528.77h2.73v4.58h-2.73zM291.30 537.92h2.73v1.53h-2.73zM293.32 534.87h2.73v3.05h-2.73zM295.35 527.25h2.73v6.10h-2.73zM297.37 521.14h2.73v4.58h-2.73zM299.40 531.82h2.73v1.53h-2.73zM301.42 511.99h2.73v9.15h-2.73zM303.45 527.25h2.73v3.05h-2.73zM305.47 533.35h2.73v3.05h-2.73zM307.50 531.82h2.73v4.58h-2.73zM309.53 536.40h2.73v1.53h-2.73zM311.55 534.87h2.73v1.53h-2.73zM313.58 534.87h2.73v1.53h-2.73zM315.60 537.92h2.73v1.53h-2.73zM317.63 534.87h2.73v1.53h-2.73zM319.65 537.92h2.73v1.53h-2.73zM321.68 531.82h2.73v1.53h-2.73zM323.71 536.40h2.73v1.53h-2.73zM325.73 515.04h2.73v6.10h-2.73zM327.76 528.77h2.73v6.10h-2.73zM329.78 533.35h2.73v3.05h-2.73zM331.81 536.40h2.73v3.05h-2.73zM333.83 536.40h2.73v1.53h-2.73zM335.86 530.30h2.73v4.58h-2.73zM337.89 536.40h2.73v1.53h-2.73zM339.91 536.40h2.73v1.53h-2.73zM343.96 539.45h2.73v1.53h-2.73zM350.04 537.92h2.73v1.53h-2.73zM352.07 537.92h2.73v1.53h-2.73zM354.09 536.40h2.73v3.05h-2.73zM368.27 539.45h2.73v1.53h-2.73zM370.30 537.92h2.73v1.53h-2.73zM372.32 539.45h2.73v1.53h-2.73zM382.45 540.97h2.73v1.53h-2.73zM384.48 537.92h2.73v1.53h-2.73zM394.60 533.35h2.73v1.53h-2.73zM398.66 537.92h2.73v1.53h-2.73zM408.78 537.92h2.73v1.53h-2.73zM412.84 536.40h2.73v1.53h-2.73zM416.89 533.35h2.73v3.05h-2.73zM418.91 534.87h2.73v1.53h-2.73zM420.94 507.42h2.73v10.68h-2.73zM422.96 534.87h2.73v1.53h-2.73zM424.99 528.77h2.73v1.53h-2.73zM427.02 513.52h2.73v1.53h-2.73zM429.04 521.14h2.73v4.58h-2.73zM431.07 521.14h2.73v3.05h-2.73zM433.09 528.77h2.73v3.05h-2.73zM435.12 534.87h2.73v3.05h-2.73zM437.14 519.62h2.73v9.15h-2.73zM439.17 511.99h2.73v4.58h-2.73zM441.20 502.84h2.73v7.63h-2.73zM443.22 507.42h2.73v4.58h-2.73zM445.25 516.57h2.73v7.63h-2.73zM447.27 525.72h2.73v3.05h-2.73zM449.30 510.47h2.73v3.05h-2.73zM451.32 486.06h2.73v9.15h-2.73zM453.35 492.16h2.73v6.10h-2.73zM455.38 486.06h2.73v12.20h-2.73zM457.40 487.59h2.73v7.63h-2.73zM459.43 505.89h2.73v10.68h-2.73zM461.45 508.94h2.73v4.58h-2.73zM463.48 505.89h2.73v7.63h-2.73zM465.50 463.18h2.73v9.15h-2.73zM467.53 483.01h2.73v15.25h-2.73zM469.55 508.94h2.73v6.10h-2.73zM471.58 524.20h2.73v1.53h-2.73zM473.61 505.89h2.73v4.58h-2.73zM475.63 527.25h2.73v1.53h-2.73zM477.66 505.89h2.73v6.10h-2.73zM479.68 466.23h2.73v10.68h-2.73zM481.71 455.55h2.73v16.78h-2.73zM483.73 481.48h2.73v7.63h-2.73zM485.76 470.81h2.73v13.73h-2.73zM487.79 478.43h2.73v12.20h-2.73zM489.81 511.99h2.73v9.15h-2.73zM491.84 467.76h2.73v30.51h-2.73zM493.86 463.18h2.73v10.68h-2.73zM495.89 420.47h2.73v42.71h-2.73zM497.91 438.77h2.73v22.88h-2.73zM499.94 432.67h2.73v19.83h-2.73zM501.97 470.81h2.73v16.78h-2.73zM503.99 516.57h2.73v7.63h-2.73zM506.02 516.57h2.73v7.63h-2.73zM508.04 475.38h2.73v18.30h-2.73zM510.07 425.04h2.73v24.41h-2.73zM512.09 437.25h2.73v30.51h-2.73zM514.12 423.52h2.73v42.71h-2.73zM516.15 476.91h2.73v24.41h-2.73zM518.17 457.08h2.73v22.88h-2.73zM520.20 470.81h2.73v18.30h-2.73zM522.22 450.98h2.73v30.51h-2.73zM524.25 440.30h2.73v32.03h-2.73zM526.27 466.23h2.73v27.46h-2.73zM528.30 446.40h2.73v10.68h-2.73zM530.33 495.21h2.73v15.25h-2.73zM532.35 495.21h2.73v10.68h-2.73zM534.38 492.16h2.73v15.25h-2.73zM536.40 475.38h2.73v21.36h-2.73zM538.43 472.33h2.73v22.88h-2.73zM540.45 473.86h2.73v18.30h-2.73zM542.48 443.35h2.73v18.30h-2.73zM544.50 486.06h2.73v12.20h-2.73zM546.53 492.16h2.73v10.68h-2.73zM548.56 483.01h2.73v12.20h-2.73zM550.58 467.76h2.73v12.20h-2.73zM552.61 484.53h2.73v19.83h-2.73zM554.63 437.25h2.73v35.08h-2.73zM556.66 483.01h2.73v16.78h-2.73zM558.68 483.01h2.73v15.25h-2.73zM560.71 519.62h2.73v7.63h-2.73zM562.74 447.93h2.73v32.03h-2.73zM564.76 434.20h2.73v18.30h-2.73zM566.79 447.93h2.73v36.61h-2.73zM568.81 469.28h2.73v18.30h-2.73zM570.84 479.96h2.73v12.20h-2.73zM572.86 498.26h2.73v7.63h-2.73zM574.89 527.25h2.73v1.53h-2.73zM576.92 492.16h2.73v9.15h-2.73zM578.94 463.18h2.73v12.20h-2.73zM580.97 478.43h2.73v18.30h-2.73zM582.99 476.91h2.73v16.78h-2.73zM585.02 479.96h2.73v6.10h-2.73zM587.04 478.43h2.73v6.10h-2.73zM589.07 507.42h2.73v9.15h-2.73zM591.10 530.30h2.73v3.05h-2.73zM593.12 534.87h2.73v1.53h-2.73zM595.15 481.48h2.73v15.25h-2.73zM597.17 472.33h2.73v15.25h-2.73zM599.20 472.33h2.73v12.20h-2.73zM601.22 476.91h2.73v16.78h-2.73zM603.25 528.77h2.73v3.05h-2.73zM605.28 490.64h2.73v12.20h-2.73zM607.30 476.91h2.73v13.73h-2.73zM609.33 464.70h2.73v22.88h-2.73zM611.35 489.11h2.73v16.78h-2.73zM613.38 496.74h2.73v15.25h-2.73zM615.40 531.82h2.73v3.05h-2.73zM617.43 486.06h2.73v15.25h-2.73zM619.46 475.38h2.73v12.20h-2.73zM621.48 511.99h2.73v12.20h-2.73zM623.51 490.64h2.73v13.73h-2.73zM625.53 489.11h2.73v7.63h-2.73zM627.56 481.48h2.73v13.73h-2.73zM629.58 498.26h2.73v12.20h-2.73zM631.61 492.16h2.73v15.25h-2.73zM633.63 493.69h2.73v12.20h-2.73zM635.66 487.59h2.73v22.88h-2.73zM637.69 466.23h2.73v16.78h-2.73zM639.71 502.84h2.73v9.15h-2.73zM641.74 495.21h2.73v9.15h-2.73zM643.76 499.79h2.73v6.10h-2.73zM645.79 521.14h2.73v7.63h-2.73zM647.81 502.84h2.73v10.68h-2.73zM649.84 466.23h2.73v9.15h-2.73zM651.87 458.60h2.73v22.88h-2.73zM653.89 461.65h2.73v13.73h-2.73zM655.92 492.16h2.73v10.68h-2.73zM657.94 487.59h2.73v16.78h-2.73zM659.97 521.14h2.73v6.10h-2.73zM661.99 486.06h2.73v18.30h-2.73zM664.02 479.96h2.73v22.88h-2.73zM666.05 478.43h2.73v19.83h-2.73zM668.07 490.64h2.73v18.30h-2.73zM670.10 495.21h2.73v15.25h-2.73zM672.12 499.79h2.73v12.20h-2.73zM674.15 524.20h2.73v4.58h-2.73zM676.17 493.69h2.73v13.73h-2.73zM678.20 516.57h2.73v3.05h-2.73zM680.23 466.23h2.73v25.93h-2.73zM682.25 467.76h2.73v15.25h-2.73zM684.28 418.94h2.73v25.93h-2.73zM686.30 484.53h2.73v10.68h-2.73zM688.33 518.09h2.73v7.63h-2.73zM690.35 452.50h2.73v22.88h-2.73zM692.38 452.50h2.73v21.36h-2.73zM694.41 440.30h2.73v25.93h-2.73zM696.43 435.72h2.73v21.36h-2.73zM698.46 429.62h2.73v39.66h-2.73zM700.48 461.65h2.73v15.25h-2.73zM702.51 501.31h2.73v4.58h-2.73zM704.53 426.57h2.73v19.83h-2.73zM706.56 365.55h2.73v39.66h-2.73zM708.59 350.30h2.73v24.41h-2.73zM710.61 400.64h2.73v54.91h-2.73zM712.64 383.86h2.73v22.88h-2.73zM714.66 444.87h2.73v21.36h-2.73zM716.69 486.06h2.73v9.15h-2.73zM718.71 492.16h2.73v13.73h-2.73zM720.74 403.69h2.73v13.73h-2.73zM722.76 357.93h2.73v44.24h-2.73zM724.79 351.83h2.73v44.24h-2.73zM726.82 368.60h2.73v48.81h-2.73zM728.84 431.15h2.73v19.83h-2.73zM730.87 470.81h2.73v16.78h-2.73zM732.89 421.99h2.73v24.41h-2.73zM734.92 403.69h2.73v33.56h-2.73zM736.94 399.11h2.73v22.88h-2.73zM738.97 364.03h2.73v48.81h-2.73zM741.00 393.01h2.73v36.61h-2.73zM743.02 417.42h2.73v18.30h-2.73zM745.05 489.11h2.73v6.10h-2.73zM747.07 425.04h2.73v25.93h-2.73zM749.10 373.18h2.73v53.39h-2.73zM751.12 362.50h2.73v42.71h-2.73z"/>
<path fill="#3be6a4" d="M143.42 540.97h2.73v1.53h-2.73zM145.45 540.97h2.73v1.53h-2.73zM149.50 540.97h2.73v1.53h-2.73zM161.65 540.97h2.73v1.53h-2.73zM165.70 540.97h2.73v1.53h-2.73zM167.73 540.97h2.73v1.53h-2.73zM177.86 540.97h2.73v1.53h-2.73zM185.96 539.45h2.73v1.53h-2.73zM198.11 540.97h2.73v1.53h-2.73zM204.19 537.92h2.73v1.53h-2.73zM208.24 537.92h2.73v1.53h-2.73zM212.29 537.92h2.73v1.53h-2.73zM218.37 539.45h2.73v1.53h-2.73zM222.42 537.92h2.73v1.53h-2.73zM228.50 531.82h2.73v1.53h-2.73zM230.52 531.82h2.73v1.53h-2.73zM232.55 534.87h2.73v1.53h-2.73zM236.60 531.82h2.73v1.53h-2.73zM238.63 522.67h2.73v3.05h-2.73zM240.65 519.62h2.73v4.58h-2.73zM242.68 510.47h2.73v7.63h-2.73zM244.70 522.67h2.73v3.05h-2.73zM246.73 518.09h2.73v7.63h-2.73zM250.78 525.72h2.73v4.58h-2.73zM252.81 478.43h2.73v10.68h-2.73zM254.83 516.57h2.73v6.10h-2.73zM256.86 492.16h2.73v12.20h-2.73zM258.88 454.03h2.73v19.83h-2.73zM260.91 519.62h2.73v4.58h-2.73zM262.94 527.25h2.73v4.58h-2.73zM264.96 524.20h2.73v4.58h-2.73zM266.99 498.26h2.73v10.68h-2.73zM269.01 504.37h2.73v4.58h-2.73zM271.04 502.84h2.73v12.20h-2.73zM273.06 499.79h2.73v7.63h-2.73zM275.09 508.94h2.73v7.63h-2.73zM277.12 525.72h2.73v1.53h-2.73zM279.14 530.30h2.73v3.05h-2.73zM281.17 518.09h2.73v6.10h-2.73zM283.19 505.89h2.73v6.10h-2.73zM285.22 515.04h2.73v9.15h-2.73zM287.24 510.47h2.73v9.15h-2.73zM289.27 524.20h2.73v4.58h-2.73zM291.30 536.40h2.73v1.53h-2.73zM293.32 531.82h2.73v3.05h-2.73zM295.35 519.62h2.73v7.63h-2.73zM297.37 515.04h2.73v6.10h-2.73zM299.40 530.30h2.73v1.53h-2.73zM301.42 504.37h2.73v7.63h-2.73zM303.45 522.67h2.73v4.58h-2.73zM305.47 531.82h2.73v1.53h-2.73zM307.50 530.30h2.73v1.53h-2.73zM309.53 534.87h2.73v1.53h-2.73zM311.55 533.35h2.73v1.53h-2.73zM315.60 534.87h2.73v3.05h-2.73zM317.63 531.82h2.73v3.05h-2.73zM319.65 536.40h2.73v1.53h-2.73zM321.68 528.77h2.73v3.05h-2.73zM323.71 533.35h2.73v3.05h-2.73zM325.73 507.42h2.73v7.63h-2.73zM327.76 525.72h2.73v3.05h-2.73zM329.78 531.82h2.73v1.53h-2.73zM331.81 534.87h2.73v1.53h-2.73zM333.83 534.87h2.73v1.53h-2.73zM335.86 525.72h2.73v4.58h-2.73zM337.89 533.35h2.73v3.05h-2.73zM339.91 534.87h2.73v1.53h-2.73zM341.94 537.92h2.73v1.53h-2.73zM350.04 536.40h2.73v1.53h-2.73zM352.07 536.40h2.73v1.53h-2.73zM354.09 533.35h2.73v3.05h-2.73zM358.14 537.92h2.73v1.53h-2.73zM364.22 540.97h2.73v1.53h-2.73zM366.25 537.92h2.73v1.53h-2.73zM368.27 537.92h2.73v1.53h-2.73zM370.30 536.40h2.73v1.53h-2.73zM382.45 539.45h2.73v1.53h-2.73zM384.48 536.40h2.73v1.53h-2.73zM392.58 536.40h2.73v1.53h-2.73zM398.66 536.40h2.73v1.53h-2.73zM410.81 536.40h2.73v1.53h-2.73zM412.84 534.87h2.73v1.53h-2.73zM416.89 531.82h2.73v1.53h-2.73zM418.91 533.35h2.73v1.53h-2.73zM420.94 501.31h2.73v6.10h-2.73zM424.99 525.72h2.73v3.05h-2.73zM427.02 510.47h2.73v3.05h-2.73zM429.04 518.09h2.73v3.05h-2.73zM431.07 518.09h2.73v3.05h-2.73zM433.09 527.25h2.73v1.53h-2.73zM435.12 533.35h2.73v1.53h-2.73zM437.14 516.57h2.73v3.05h-2.73zM439.17 508.94h2.73v3.05h-2.73zM441.20 499.79h2.73v3.05h-2.73zM443.22 501.31h2.73v6.10h-2.73zM445.25 513.52h2.73v3.05h-2.73zM447.27 522.67h2.73v3.05h-2.73zM449.30 507.42h2.73v3.05h-2.73zM451.32 483.01h2.73v3.05h-2.73zM453.35 479.96h2.73v12.20h-2.73zM455.38 483.01h2.73v3.05h-2.73zM457.40 481.48h2.73v6.10h-2.73zM459.43 502.84h2.73v3.05h-2.73zM461.45 505.89h2.73v3.05h-2.73zM463.48 504.37h2.73v1.53h-2.73zM465.50 454.03h2.73v9.15h-2.73zM467.53 478.43h2.73v4.58h-2.73zM469.55 505.89h2.73v3.05h-2.73zM471.58 519.62h2.73v4.58h-2.73zM473.61 502.84h2.73v3.05h-2.73zM475.63 525.72h2.73v1.53h-2.73zM477.66 501.31h2.73v4.58h-2.73zM479.68 458.60h2.73v7.63h-2.73zM481.71 444.87h2.73v10.68h-2.73zM483.73 476.91h2.73v4.58h-2.73zM485.76 463.18h2.73v7.63h-2.73zM487.79 472.33h2.73v6.10h-2.73zM489.81 499.79h2.73v12.20h-2.73zM491.84 446.40h2.73v21.36h-2.73zM493.86 452.50h2.73v10.68h-2.73zM495.89 403.69h2.73v16.78h-2.73zM497.91 408.27h2.73v30.51h-2.73zM499.94 391.49h2.73v41.19h-2.73zM501.97 450.98h2.73v19.83h-2.73zM503.99 510.47h2.73v6.10h-2.73zM506.02 511.99h2.73v4.58h-2.73zM508.04 466.23h2.73v9.15h-2.73zM510.07 403.69h2.73v21.36h-2.73zM512.09 409.79h2.73v27.46h-2.73zM514.12 389.96h2.73v33.56h-2.73zM516.15 460.13h2.73v16.78h-2.73zM518.17 441.82h2.73v15.25h-2.73zM520.20 452.50h2.73v18.30h-2.73zM522.22 425.04h2.73v25.93h-2.73zM524.25 432.67h2.73v7.63h-2.73zM526.27 452.50h2.73v13.73h-2.73zM528.30 425.04h2.73v21.36h-2.73zM530.33 484.53h2.73v10.68h-2.73zM532.35 484.53h2.73v10.68h-2.73zM534.38 483.01h2.73v9.15h-2.73zM536.40 457.08h2.73v18.30h-2.73zM538.43 463.18h2.73v9.15h-2.73zM540.45 460.13h2.73v13.73h-2.73zM542.48 423.52h2.73v19.83h-2.73zM544.50 472.33h2.73v13.73h-2.73zM546.53 486.06h2.73v6.10h-2.73zM548.56 469.28h2.73v13.73h-2.73zM550.58 454.03h2.73v13.73h-2.73zM552.61 464.70h2.73v19.83h-2.73zM554.63 418.94h2.73v18.30h-2.73zM556.66 473.86h2.73v9.15h-2.73zM558.68 460.13h2.73v22.88h-2.73zM560.71 513.52h2.73v6.10h-2.73zM562.74 437.25h2.73v10.68h-2.73zM564.76 409.79h2.73v24.41h-2.73zM566.79 437.25h2.73v10.68h-2.73zM568.81 452.50h2.73v16.78h-2.73zM570.84 469.28h2.73v10.68h-2.73zM572.86 483.01h2.73v15.25h-2.73zM574.89 525.72h2.73v1.53h-2.73zM576.92 484.53h2.73v7.63h-2.73zM578.94 426.57h2.73v36.61h-2.73zM580.97 466.23h2.73v12.20h-2.73zM582.99 455.55h2.73v21.36h-2.73zM585.02 470.81h2.73v9.15h-2.73zM587.04 472.33h2.73v6.10h-2.73zM589.07 498.26h2.73v9.15h-2.73zM591.10 528.77h2.73v1.53h-2.73zM593.12 531.82h2.73v3.05h-2.73zM595.15 475.38h2.73v6.10h-2.73zM597.17 454.03h2.73v18.30h-2.73zM599.20 447.93h2.73v24.41h-2.73zM601.22 470.81h2.73v6.10h-2.73zM603.25 525.72h2.73v3.05h-2.73zM605.28 481.48h2.73v9.15h-2.73zM607.30 469.28h2.73v7.63h-2.73zM609.33 454.03h2.73v10.68h-2.73zM611.35 472.33h2.73v16.78h-2.73zM613.38 484.53h2.73v12.20h-2.73zM615.40 530.30h2.73v1.53h-2.73zM617.43 478.43h2.73v7.63h-2.73zM619.46 469.28h2.73v6.10h-2.73zM621.48 501.31h2.73v10.68h-2.73zM623.51 479.96h2.73v10.68h-2.73zM625.53 464.70h2.73v24.41h-2.73zM627.56 476.91h2.73v4.58h-2.73zM629.58 489.11h2.73v9.15h-2.73zM631.61 486.06h2.73v6.10h-2.73zM633.63 481.48h2.73v12.20h-2.73zM635.66 475.38h2.73v12.20h-2.73zM637.69 443.35h2.73v22.88h-2.73zM639.71 490.64h2.73v12.20h-2.73zM641.74 484.53h2.73v10.68h-2.73zM643.76 492.16h2.73v7.63h-2.73zM645.79 516.57h2.73v4.58h-2.73zM647.81 492.16h2.73v10.68h-2.73zM649.84 447.93h2.73v18.30h-2.73zM651.87 447.93h2.73v10.68h-2.73zM653.89 452.50h2.73v9.15h-2.73zM655.92 475.38h2.73v16.78h-2.73zM657.94 472.33h2.73v15.25h-2.73zM659.97 518.09h2.73v3.05h-2.73zM661.99 476.91h2.73v9.15h-2.73zM664.02 472.33h2.73v7.63h-2.73zM666.05 467.76h2.73v10.68h-2.73zM668.07 476.91h2.73v13.73h-2.73zM670.10 487.59h2.73v7.63h-2.73zM672.12 479.96h2.73v19.83h-2.73zM674.15 521.14h2.73v3.05h-2.73zM676.17 486.06h2.73v7.63h-2.73zM678.20 511.99h2.73v4.58h-2.73zM680.23 443.35h2.73v22.88h-2.73zM682.25 434.20h2.73v33.56h-2.73zM684.28 389.96h2.73v28.98h-2.73zM686.30 470.81h2.73v13.73h-2.73zM688.33 511.99h2.73v6.10h-2.73zM690.35 438.77h2.73v13.73h-2.73zM692.38 420.47h2.73v32.03h-2.73zM694.41 403.69h2.73v36.61h-2.73zM696.43 411.32h2.73v24.41h-2.73zM698.46 402.16h2.73v27.46h-2.73zM700.48 431.15h2.73v30.51h-2.73zM702.51 484.53h2.73v16.78h-2.73zM704.53 400.64h2.73v25.93h-2.73zM706.56 301.49h2.73v64.07h-2.73zM708.59 306.06h2.73v44.24h-2.73zM710.61 339.62h2.73v61.02h-2.73zM712.64 347.25h2.73v36.61h-2.73zM714.66 403.69h2.73v41.19h-2.73zM716.69 479.96h2.73v6.10h-2.73zM718.71 476.91h2.73v15.25h-2.73zM720.74 353.35h2.73v50.34h-2.73zM722.76 283.18h2.73v74.74h-2.73zM724.79 298.44h2.73v53.39h-2.73zM726.82 315.22h2.73v53.39h-2.73zM728.84 400.64h2.73v30.51h-2.73zM730.87 461.65h2.73v9.15h-2.73zM732.89 399.11h2.73v22.88h-2.73zM734.92 359.45h2.73v44.24h-2.73zM736.94 354.88h2.73v44.24h-2.73zM738.97 345.72h2.73v18.30h-2.73zM741.00 351.83h2.73v41.19h-2.73zM743.02 364.03h2.73v53.39h-2.73zM745.05 476.91h2.73v12.20h-2.73zM747.07 403.69h2.73v21.36h-2.73zM749.10 328.94h2.73v44.24h-2.73zM751.12 336.57h2.73v25.93h-2.73z"/>
<path fill="#35cbdb" d="M151.52 540.97h2.73v1.53h-2.73zM153.55 540.97h2.73v1.53h-2.73zM157.60 539.45h2.73v1.53h-2.73zM163.68 537.92h2.73v1.53h-2.73zM177.86 539.45h2.73v1.53h-2.73zM185.96 537.92h2.73v1.53h-2.73zM204.19 536.40h2.73v1.53h-2.73zM214.32 540.97h2.73v1.53h-2.73zM216.34 539.45h2.73v1.53h-2.73zM224.45 536.40h2.73v3.05h-2.73zM226.47 537.92h2.73v1.53h-2.73zM228.50 530.30h2.73v1.53h-2.73zM230.52 528.77h2.73v3.05h-2.73zM232.55 533.35h2.73v1.53h-2.73zM236.60 528.77h2.73v3.05h-2.73zM238.63 521.14h2.73v1.53h-2.73zM240.65 515.04h2.73v4.58h-2.73zM242.68 507.42h2.73v3.05h-2.73zM244.70 518.09h2.73v4.58h-2.73zM246.73 511.99h2.73v6.10h-2.73zM248.76 534.87h2.73v1.53h-2.73zM250.78 524.20h2.73v1.53h-2.73zM252.81 472.33h2.73v6.10h-2.73zM254.83 510.47h2.73v6.10h-2.73zM256.86 476.91h2.73v15.25h-2.73zM258.88 444.87h2.73v9.15h-2.73zM260.91 510.47h2.73v9.15h-2.73zM262.94 524.20h2.73v3.05h-2.73zM264.96 519.62h2.73v4.58h-2.73zM266.99 490.64h2.73v7.63h-2.73zM269.01 484.53h2.73v19.83h-2.73zM271.04 498.26h2.73v4.58h-2.73zM273.06 495.21h2.73v4.58h-2.73zM275.09 505.89h2.73v3.05h-2.73zM277.12 524.20h2.73v1.53h-2.73zM279.14 527.25h2.73v3.05h-2.73zM281.17 510.47h2.73v7.63h-2.73zM283.19 496.74h2.73v9.15h-2.73zM285.22 507.42h2.73v7.63h-2.73zM287.24 505.89h2.73v4.58h-2.73zM289.27 521.14h2.73v3.05h-2.73zM293.32 530.30h2.73v1.53h-2.73zM295.35 511.99h2.73v7.63h-2.73zM297.37 511.99h2.73v3.05h-2.73zM299.40 525.72h2.73v4.58h-2.73zM301.42 496.74h2.73v7.63h-2.73zM303.45 516.57h2.73v6.10h-2.73zM305.47 530.30h2.73v1.53h-2.73zM307.50 527.25h2.73v3.05h-2.73zM309.53 533.35h2.73v1.53h-2.73zM311.55 530.30h2.73v3.05h-2.73zM313.58 533.35h2.73v1.53h-2.73zM315.60 533.35h2.73v1.53h-2.73zM317.63 527.25h2.73v4.58h-2.73zM319.65 534.87h2.73v1.53h-2.73zM321.68 525.72h2.73v3.05h-2.73zM323.71 530.30h2.73v3.05h-2.73zM325.73 501.31h2.73v6.10h-2.73zM327.76 522.67h2.73v3.05h-2.73zM329.78 528.77h2.73v3.05h-2.73zM331.81 533.35h2.73v1.53h-2.73zM333.83 533.35h2.73v1.53h-2.73zM335.86 522.67h2.73v3.05h-2.73zM337.89 530.30h2.73v3.05h-2.73zM339.91 533.35h2.73v1.53h-2.73zM341.94 536.40h2.73v1.53h-2.73zM343.96 537.92h2.73v1.53h-2.73zM352.07 534.87h2.73v1.53h-2.73zM354.09 531.82h2.73v1.53h-2.73zM356.12 537.92h2.73v1.53h-2.73zM362.19 539.45h2.73v1.53h-2.73zM366.25 536.40h2.73v1.53h-2.73zM368.27 536.40h2.73v1.53h-2.73zM370.30 534.87h2.73v1.53h-2.73zM372.32 537.92h2.73v1.53h-2.73zM384.48 534.87h2.73v1.53h-2.73zM392.58 534.87h2.73v1.53h-2.73zM410.81 534.87h2.73v1.53h-2.73zM412.84 533.35h2.73v1.53h-2.73zM416.89 530.30h2.73v1.53h-2.73zM420.94 499.79h2.73v1.53h-2.73zM427.02 508.94h2.73v1.53h-2.73zM429.04 515.04h2.73v3.05h-2.73zM431.07 516.57h2.73v1.53h-2.73zM435.12 531.82h2.73v1.53h-2.73zM437.14 511.99h2.73v4.58h-2.73zM439.17 505.89h2.73v3.05h-2.73zM441.20 498.26h2.73v1.53h-2.73zM443.22 496.74h2.73v4.58h-2.73zM445.25 510.47h2.73v3.05h-2.73zM447.27 521.14h2.73v1.53h-2.73zM449.30 505.89h2.73v1.53h-2.73zM451.32 481.48h2.73v1.53h-2.73zM453.35 473.86h2.73v6.10h-2.73zM455.38 479.96h2.73v3.05h-2.73zM457.40 475.38h2.73v6.10h-2.73zM459.43 501.31h2.73v1.53h-2.73zM461.45 501.31h2.73v4.58h-2.73zM463.48 501.31h2.73v3.05h-2.73zM465.50 446.40h2.73v7.63h-2.73zM467.53 469.28h2.73v9.15h-2.73zM469.55 502.84h2.73v3.05h-2.73zM471.58 516.57h2.73v3.05h-2.73zM473.61 498.26h2.73v4.58h-2.73zM475.63 524.20h2.73v1.53h-2.73zM477.66 498.26h2.73v3.05h-2.73zM479.68 446.40h2.73v12.20h-2.73zM481.71 435.72h2.73v9.15h-2.73zM483.73 469.28h2.73v7.63h-2.73zM485.76 460.13h2.73v3.05h-2.73zM487.79 454.03h2.73v18.30h-2.73zM489.81 487.59h2.73v12.20h-2.73zM491.84 418.94h2.73v27.46h-2.73zM493.86 441.82h2.73v10.68h-2.73zM495.89 388.43h2.73v15.25h-2.73zM497.91 386.91h2.73v21.36h-2.73zM499.94 367.08h2.73v24.41h-2.73zM501.97 440.30h2.73v10.68h-2.73zM503.99 507.42h2.73v3.05h-2.73zM506.02 508.94h2.73v3.05h-2.73zM508.04 452.50h2.73v13.73h-2.73zM510.07 385.38h2.73v18.30h-2.73zM512.09 386.91h2.73v22.88h-2.73zM514.12 371.66h2.73v18.30h-2.73zM516.15 443.35h2.73v16.78h-2.73zM518.17 418.94h2.73v22.88h-2.73zM520.20 435.72h2.73v16.78h-2.73zM522.22 414.37h2.73v10.68h-2.73zM524.25 411.32h2.73v21.36h-2.73zM526.27 437.25h2.73v15.25h-2.73zM528.30 411.32h2.73v13.73h-2.73zM530.33 476.91h2.73v7.63h-2.73zM532.35 475.38h2.73v9.15h-2.73zM534.38 467.76h2.73v15.25h-2.73zM536.40 435.72h2.73v21.36h-2.73zM538.43 455.55h2.73v7.63h-2.73zM540.45 444.87h2.73v15.25h-2.73zM542.48 406.74h2.73v16.78h-2.73zM544.50 454.03h2.73v18.30h-2.73zM546.53 479.96h2.73v6.10h-2.73zM548.56 463.18h2.73v6.10h-2.73zM550.58 443.35h2.73v10.68h-2.73zM552.61 447.93h2.73v16.78h-2.73zM554.63 406.74h2.73v12.20h-2.73zM556.66 458.60h2.73v15.25h-2.73zM558.68 440.30h2.73v19.83h-2.73zM560.71 508.94h2.73v4.58h-2.73zM562.74 411.32h2.73v25.93h-2.73zM564.76 399.11h2.73v10.68h-2.73zM566.79 403.69h2.73v33.56h-2.73zM568.81 432.67h2.73v19.83h-2.73zM570.84 463.18h2.73v6.10h-2.73zM572.86 469.28h2.73v13.73h-2.73zM574.89 524.20h2.73v1.53h-2.73zM576.92 475.38h2.73v9.15h-2.73zM578.94 415.89h2.73v10.68h-2.73zM580.97 457.08h2.73v9.15h-2.73zM582.99 443.35h2.73v12.20h-2.73zM585.02 452.50h2.73v18.30h-2.73zM587.04 466.23h2.73v6.10h-2.73zM589.07 492.16h2.73v6.10h-2.73zM591.10 527.25h2.73v1.53h-2.73zM593.12 528.77h2.73v3.05h-2.73zM595.15 470.81h2.73v4.58h-2.73zM597.17 437.25h2.73v16.78h-2.73zM599.20 432.67h2.73v15.25h-2.73zM601.22 458.60h2.73v12.20h-2.73zM603.25 521.14h2.73v4.58h-2.73zM605.28 473.86h2.73v7.63h-2.73zM607.30 444.87h2.73v24.41h-2.73zM609.33 440.30h2.73v13.73h-2.73zM611.35 457.08h2.73v15.25h-2.73zM613.38 469.28h2.73v15.25h-2.73zM615.40 527.25h2.73v3.05h-2.73zM617.43 467.76h2.73v10.68h-2.73zM619.46 458.60h2.73v10.68h-2.73zM621.48 492.16h2.73v9.15h-2.73zM623.51 460.13h2.73v19.83h-2.73zM625.53 444.87h2.73v19.83h-2.73zM627.56 464.70h2.73v12.20h-2.73zM629.58 476.91h2.73v12.20h-2.73zM631.61 476.91h2.73v9.15h-2.73zM633.63 473.86h2.73v7.63h-2.73zM635.66 461.65h2.73v13.73h-2.73zM637.69 431.15h2.73v12.20h-2.73zM639.71 481.48h2.73v9.15h-2.73zM641.74 476.91h2.73v7.63h-2.73zM643.76 478.43h2.73v13.73h-2.73zM645.79 511.99h2.73v4.58h-2.73zM647.81 481.48h2.73v10.68h-2.73zM649.84 428.10h2.73v19.83h-2.73zM651.87 428.10h2.73v19.83h-2.73zM653.89 425.04h2.73v27.46h-2.73zM655.92 469.28h2.73v6.10h-2.73zM657.94 467.76h2.73v4.58h-2.73zM659.97 515.04h2.73v3.05h-2.73zM661.99 464.70h2.73v12.20h-2.73zM664.02 460.13h2.73v12.20h-2.73zM666.05 452.50h2.73v15.25h-2.73zM668.07 467.76h2.73v9.15h-2.73zM670.10 466.23h2.73v21.36h-2.73zM672.12 470.81h2.73v9.15h-2.73zM674.15 516.57h2.73v4.58h-2.73zM676.17 470.81h2.73v15.25h-2.73zM678.20 504.37h2.73v7.63h-2.73zM680.23 415.89h2.73v27.46h-2.73zM682.25 423.52h2.73v10.68h-2.73zM684.28 376.23h2.73v13.73h-2.73zM686.30 446.40h2.73v24.41h-2.73zM688.33 501.31h2.73v10.68h-2.73zM690.35 431.15h2.73v7.63h-2.73zM692.38 393.01h2.73v27.46h-2.73zM694.41 386.91h2.73v16.78h-2.73zM696.43 376.23h2.73v35.08h-2.73zM698.46 388.43h2.73v13.73h-2.73zM700.48 403.69h2.73v27.46h-2.73zM702.51 467.76h2.73v16.78h-2.73zM704.53 377.76h2.73v22.88h-2.73zM706.56 283.18h2.73v18.30h-2.73zM708.59 283.18h2.73v22.88h-2.73zM710.61 281.66h2.73v57.97h-2.73zM712.64 309.11h2.73v38.13h-2.73zM714.66 377.76h2.73v25.93h-2.73zM716.69 458.60h2.73v21.36h-2.73zM718.71 463.18h2.73v13.73h-2.73zM720.74 338.10h2.73v15.25h-2.73zM722.76 222.17h2.73v61.02h-2.73zM724.79 272.50h2.73v25.93h-2.73zM726.82 266.40h2.73v48.81h-2.73zM728.84 359.45h2.73v41.19h-2.73zM730.87 444.87h2.73v16.78h-2.73zM732.89 371.66h2.73v27.46h-2.73zM734.92 306.06h2.73v53.39h-2.73zM736.94 324.37h2.73v30.51h-2.73zM738.97 309.11h2.73v36.61h-2.73zM741.00 318.27h2.73v33.56h-2.73zM743.02 335.05h2.73v28.98h-2.73zM745.05 464.70h2.73v12.20h-2.73zM747.07 357.93h2.73v45.76h-2.73zM749.10 269.45h2.73v59.49h-2.73zM751.12 284.71h2.73v51.86h-2.73z"/>
<path fill="#3876d6" d="M141.39 540.97h2.73v1.53h-2.73zM155.57 540.97h2.73v1.53h-2.73zM173.81 540.97h2.73v1.53h-2.73zM187.99 540.97h2.73v1.53h-2.73zM194.06 540.97h2.73v1.53h-2.73zM196.09 539.45h2.73v1.53h-2.73zM204.19 534.87h2.73v1.53h-2.73zM212.29 536.40h2.73v1.53h-2.73zM216.34 537.92h2.73v1.53h-2.73zM218.37 537.92h2.73v1.53h-2.73zM222.42 536.40h2.73v1.53h-2.73zM224.45 534.87h2.73v1.53h-2.73zM226.47 536.40h2.73v1.53h-2.73zM228.50 528.77h2.73v1.53h-2.73zM230.52 527.25h2.73v1.53h-2.73zM232.55 531.82h2.73v1.53h-2.73zM236.60 525.72h2.73v3.05h-2.73zM238.63 519.62h2.73v1.53h-2.73zM240.65 508.94h2.73v6.10h-2.73zM242.68 499.79h2.73v7.63h-2.73zM244.70 513.52h2.73v4.58h-2.73zM246.73 505.89h2.73v6.10h-2.73zM248.76 533.35h2.73v1.53h-2.73zM250.78 521.14h2.73v3.05h-2.73zM252.81 455.55h2.73v16.78h-2.73zM254.83 505.89h2.73v4.58h-2.73zM256.86 470.81h2.73v6.10h-2.73zM258.88 434.20h2.73v10.68h-2.73zM260.91 504.37h2.73v6.10h-2.73zM262.94 522.67h2.73v1.53h-2.73zM264.96 516.57h2.73v3.05h-2.73zM266.99 487.59h2.73v3.05h-2.73zM269.01 470.81h2.73v13.73h-2.73zM271.04 496.74h2.73v1.53h-2.73zM273.06 484.53h2.73v10.68h-2.73zM275.09 502.84h2.73v3.05h-2.73zM277.12 521.14h2.73v3.05h-2.73zM279.14 525.72h2.73v1.53h-2.73zM281.17 507.42h2.73v3.05h-2.73zM283.19 489.11h2.73v7.63h-2.73zM285.22 501.31h2.73v6.10h-2.73zM287.24 501.31h2.73v4.58h-2.73zM289.27 519.62h2.73v1.53h-2.73zM291.30 534.87h2.73v1.53h-2.73zM293.32 528.77h2.73v1.53h-2.73zM295.35 505.89h2.73v6.10h-2.73zM297.37 508.94h2.73v3.05h-2.73zM299.40 524.20h2.73v1.53h-2.73zM301.42 492.16h2.73v4.58h-2.73zM303.45 515.04h2.73v1.53h-2.73zM305.47 528.77h2.73v1.53h-2.73zM307.50 525.72h2.73v1.53h-2.73zM309.53 531.82h2.73v1.53h-2.73zM311.55 527.25h2.73v3.05h-2.73zM317.63 525.72h2.73v1.53h-2.73zM319.65 533.35h2.73v1.53h-2.73zM321.68 522.67h2.73v3.05h-2.73zM325.73 498.26h2.73v3.05h-2.73zM327.76 521.14h2.73v1.53h-2.73zM329.78 527.25h2.73v1.53h-2.73zM331.81 531.82h2.73v1.53h-2.73zM333.83 531.82h2.73v1.53h-2.73zM335.86 519.62h2.73v3.05h-2.73zM337.89 527.25h2.73v3.05h-2.73zM352.07 533.35h2.73v1.53h-2.73zM354.09 530.30h2.73v1.53h-2.73zM356.12 536.40h2.73v1.53h-2.73zM358.14 536.40h2.73v1.53h-2.73zM366.25 534.87h2.73v1.53h-2.73zM372.32 536.40h2.73v1.53h-2.73zM384.48 533.35h2.73v1.53h-2.73zM392.58 533.35h2.73v1.53h-2.73zM396.63 539.45h2.73v1.53h-2.73zM420.94 498.26h2.73v1.53h-2.73zM424.99 524.20h2.73v1.53h-2.73zM427.02 507.42h2.73v1.53h-2.73zM431.07 515.04h2.73v1.53h-2.73zM437.14 510.47h2.73v1.53h-2.73zM439.17 504.37h2.73v1.53h-2.73zM441.20 496.74h2.73v1.53h-2.73zM443.22 495.21h2.73v1.53h-2.73zM445.25 508.94h2.73v1.53h-2.73zM447.27 519.62h2.73v1.53h-2.73zM451.32 479.96h2.73v1.53h-2.73zM453.35 472.33h2.73v1.53h-2.73zM455.38 476.91h2.73v3.05h-2.73zM457.40 472.33h2.73v3.05h-2.73zM459.43 499.79h2.73v1.53h-2.73zM461.45 499.79h2.73v1.53h-2.73zM463.48 499.79h2.73v1.53h-2.73zM465.50 443.35h2.73v3.05h-2.73zM467.53 464.70h2.73v4.58h-2.73zM469.55 501.31h2.73v1.53h-2.73zM473.61 495.21h2.73v3.05h-2.73zM475.63 522.67h2.73v1.53h-2.73zM477.66 496.74h2.73v1.53h-2.73zM479.68 440.30h2.73v6.10h-2.73zM481.71 432.67h2.73v3.05h-2.73zM483.73 466.23h2.73v3.05h-2.73zM485.76 457.08h2.73v3.05h-2.73zM487.79 443.35h2.73v10.68h-2.73zM489.81 476.91h2.73v10.68h-2.73zM491.84 414.37h2.73v4.58h-2.73zM493.86 429.62h2.73v12.20h-2.73zM495.89 374.71h2.73v13.73h-2.73zM497.91 377.76h2.73v9.15h-2.73zM499.94 359.45h2.73v7.63h-2.73zM501.97 428.10h2.73v12.20h-2.73zM503.99 505.89h2.73v1.53h-2.73zM506.02 505.89h2.73v3.05h-2.73zM508.04 446.40h2.73v6.10h-2.73zM510.07 365.55h2.73v19.83h-2.73zM512.09 371.66h2.73v15.25h-2.73zM514.12 347.25h2.73v24.41h-2.73zM516.15 429.62h2.73v13.73h-2.73zM518.17 412.84h2.73v6.10h-2.73zM520.20 425.04h2.73v10.68h-2.73zM522.22 405.21h2.73v9.15h-2.73zM524.25 397.59h2.73v13.73h-2.73zM526.27 429.62h2.73v7.63h-2.73zM528.30 396.06h2.73v15.25h-2.73zM530.33 473.86h2.73v3.05h-2.73zM532.35 466.23h2.73v9.15h-2.73zM534.38 463.18h2.73v4.58h-2.73zM536.40 423.52h2.73v12.20h-2.73zM538.43 446.40h2.73v9.15h-2.73zM540.45 435.72h2.73v9.15h-2.73zM542.48 393.01h2.73v13.73h-2.73zM544.50 449.45h2.73v4.58h-2.73zM546.53 473.86h2.73v6.10h-2.73zM548.56 457.08h2.73v6.10h-2.73zM550.58 435.72h2.73v7.63h-2.73zM552.61 429.62h2.73v18.30h-2.73zM554.63 389.96h2.73v16.78h-2.73zM556.66 450.98h2.73v7.63h-2.73zM558.68 432.67h2.73v7.63h-2.73zM560.71 504.37h2.73v4.58h-2.73zM562.74 389.96h2.73v21.36h-2.73zM564.76 383.86h2.73v15.25h-2.73zM566.79 383.86h2.73v19.83h-2.73zM568.81 426.57h2.73v6.10h-2.73zM570.84 449.45h2.73v13.73h-2.73zM572.86 466.23h2.73v3.05h-2.73zM574.89 522.67h2.73v1.53h-2.73zM576.92 469.28h2.73v6.10h-2.73zM578.94 399.11h2.73v16.78h-2.73zM580.97 450.98h2.73v6.10h-2.73zM582.99 434.20h2.73v9.15h-2.73zM585.02 447.93h2.73v4.58h-2.73zM587.04 457.08h2.73v9.15h-2.73zM589.07 487.59h2.73v4.58h-2.73zM591.10 525.72h2.73v1.53h-2.73zM593.12 527.25h2.73v1.53h-2.73zM595.15 461.65h2.73v9.15h-2.73zM597.17 429.62h2.73v7.63h-2.73zM599.20 415.89h2.73v16.78h-2.73zM601.22 450.98h2.73v7.63h-2.73zM603.25 519.62h2.73v1.53h-2.73zM605.28 463.18h2.73v10.68h-2.73zM607.30 431.15h2.73v13.73h-2.73zM609.33 434.20h2.73v6.10h-2.73zM611.35 449.45h2.73v7.63h-2.73zM613.38 458.60h2.73v10.68h-2.73zM617.43 452.50h2.73v15.25h-2.73zM619.46 450.98h2.73v7.63h-2.73zM621.48 489.11h2.73v3.05h-2.73zM623.51 450.98h2.73v9.15h-2.73zM625.53 435.72h2.73v9.15h-2.73zM627.56 452.50h2.73v12.20h-2.73zM629.58 472.33h2.73v4.58h-2.73zM631.61 467.76h2.73v9.15h-2.73zM633.63 467.76h2.73v6.10h-2.73zM635.66 446.40h2.73v15.25h-2.73zM637.69 421.99h2.73v9.15h-2.73zM639.71 472.33h2.73v9.15h-2.73zM641.74 472.33h2.73v4.58h-2.73zM643.76 473.86h2.73v4.58h-2.73zM645.79 510.47h2.73v1.53h-2.73zM647.81 476.91h2.73v4.58h-2.73zM649.84 418.94h2.73v9.15h-2.73zM651.87 412.84h2.73v15.25h-2.73zM653.89 417.42h2.73v7.63h-2.73zM655.92 460.13h2.73v9.15h-2.73zM657.94 458.60h2.73v9.15h-2.73zM659.97 511.99h2.73v3.05h-2.73zM661.99 452.50h2.73v12.20h-2.73zM664.02 446.40h2.73v13.73h-2.73zM666.05 446.40h2.73v6.10h-2.73zM668.07 458.60h2.73v9.15h-2.73zM670.10 454.03h2.73v12.20h-2.73zM672.12 461.65h2.73v9.15h-2.73zM674.15 511.99h2.73v4.58h-2.73zM676.17 454.03h2.73v16.78h-2.73zM678.20 495.21h2.73v9.15h-2.73zM680.23 391.49h2.73v24.41h-2.73zM682.25 402.16h2.73v21.36h-2.73zM684.28 356.40h2.73v19.83h-2.73zM686.30 440.30h2.73v6.10h-2.73zM688.33 495.21h2.73v6.10h-2.73zM690.35 411.32h2.73v19.83h-2.73zM692.38 365.55h2.73v27.46h-2.73zM694.41 344.20h2.73v42.71h-2.73zM696.43 354.88h2.73v21.36h-2.73zM698.46 353.35h2.73v35.08h-2.73zM700.48 382.33h2.73v21.36h-2.73zM702.51 457.08h2.73v10.68h-2.73zM704.53 360.98h2.73v16.78h-2.73zM706.56 229.79h2.73v53.39h-2.73zM708.59 263.35h2.73v19.83h-2.73zM710.61 252.67h2.73v28.98h-2.73zM712.64 283.18h2.73v25.93h-2.73zM714.66 333.52h2.73v44.24h-2.73zM716.69 452.50h2.73v6.10h-2.73zM718.71 450.98h2.73v12.20h-2.73zM720.74 324.37h2.73v13.73h-2.73zM722.76 193.18h2.73v28.98h-2.73zM724.79 242.00h2.73v30.51h-2.73zM726.82 242.00h2.73v24.41h-2.73zM728.84 347.25h2.73v12.20h-2.73zM730.87 428.10h2.73v16.78h-2.73zM732.89 335.05h2.73v36.61h-2.73zM734.92 242.00h2.73v64.07h-2.73zM736.94 274.03h2.73v50.34h-2.73zM738.97 286.23h2.73v22.88h-2.73zM741.00 277.08h2.73v41.19h-2.73zM743.02 293.86h2.73v41.19h-2.73zM745.05 455.55h2.73v9.15h-2.73zM747.07 335.05h2.73v22.88h-2.73zM749.10 209.96h2.73v59.49h-2.73zM751.12 242.00h2.73v42.71h-2.73z"/>
<path fill="#3a33bf" d="M153.55 539.45h2.73v1.53h-2.73zM177.86 537.92h2.73v1.53h-2.73zM181.91 540.97h2.73v1.53h-2.73zM185.96 536.40h2.73v1.53h-2.73zM202.17 540.97h2.73v1.53h-2.73zM212.29 534.87h2.73v1.53h-2.73zM218.37 536.40h2.73v1.53h-2.73zM222.42 534.87h2.73v1.53h-2.73zM224.45 533.35h2.73v1.53h-2.73zM226.47 534.87h2.73v1.53h-2.73zM228.50 527.25h2.73v1.53h-2.73zM230.52 525.72h2.73v1.53h-2.73zM232.55 530.30h2.73v1.53h-2.73zM234.58 537.92h2.73v1.53h-2.73zM236.60 524.20h2.73v1.53h-2.73zM238.63 515.04h2.73v4.58h-2.73zM240.65 505.89h2.73v3.05h-2.73zM242.68 498.26h2.73v1.53h-2.73zM244.70 511.99h2.73v1.53h-2.73zM246.73 502.84h2.73v3.05h-2.73zM250.78 518.09h2.73v3.05h-2.73zM252.81 447.93h2.73v7.63h-2.73zM254.83 501.31h2.73v4.58h-2.73zM256.86 461.65h2.73v9.15h-2.73zM258.88 429.62h2.73v4.58h-2.73zM260.91 498.26h2.73v6.10h-2.73zM262.94 521.14h2.73v1.53h-2.73zM264.96 515.04h2.73v1.53h-2.73zM266.99 484.53h2.73v3.05h-2.73zM269.01 463.18h2.73v7.63h-2.73zM271.04 493.69h2.73v3.05h-2.73zM273.06 478.43h2.73v6.10h-2.73zM275.09 498.26h2.73v4.58h-2.73zM277.12 519.62h2.73v1.53h-2.73zM279.14 524.20h2.73v1.53h-2.73zM281.17 505.89h2.73v1.53h-2.73zM283.19 484.53h2.73v4.58h-2.73zM285.22 496.74h2.73v4.58h-2.73zM287.24 498.26h2.73v3.05h-2.73zM291.30 533.35h2.73v1.53h-2.73zM293.32 527.25h2.73v1.53h-2.73zM295.35 504.37h2.73v1.53h-2.73zM297.37 504.37h2.73v4.58h-2.73zM299.40 521.14h2.73v3.05h-2.73zM301.42 490.64h2.73v1.53h-2.73zM303.45 510.47h2.73v4.58h-2.73zM305.47 527.25h2.73v1.53h-2.73zM307.50 522.67h2.73v3.05h-2.73zM311.55 525.72h2.73v1.53h-2.73zM315.60 531.82h2.73v1.53h-2.73zM317.63 524.20h2.73v1.53h-2.73zM321.68 521.14h2.73v1.53h-2.73zM323.71 528.77h2.73v1.53h-2.73zM325.73 495.21h2.73v3.05h-2.73zM327.76 519.62h2.73v1.53h-2.73zM329.78 525.72h2.73v1.53h-2.73zM331.81 530.30h2.73v1.53h-2.73zM335.86 516.57h2.73v3.05h-2.73zM337.89 524.20h2.73v3.05h-2.73zM343.96 536.40h2.73v1.53h-2.73zM352.07 531.82h2.73v1.53h-2.73zM354.09 528.77h2.73v1.53h-2.73zM356.12 534.87h2.73v1.53h-2.73zM358.14 534.87h2.73v1.53h-2.73zM368.27 534.87h2.73v1.53h-2.73zM420.94 496.74h2.73v1.53h-2.73zM429.04 513.52h2.73v1.53h-2.73zM431.07 513.52h2.73v1.53h-2.73zM437.14 508.94h2.73v1.53h-2.73zM441.20 495.21h2.73v1.53h-2.73zM443.22 493.69h2.73v1.53h-2.73zM445.25 507.42h2.73v1.53h-2.73zM449.30 504.37h2.73v1.53h-2.73zM451.32 478.43h2.73v1.53h-2.73zM453.35 470.81h2.73v1.53h-2.73zM457.40 469.28h2.73v3.05h-2.73zM459.43 498.26h2.73v1.53h-2.73zM461.45 498.26h2.73v1.53h-2.73zM463.48 498.26h2.73v1.53h-2.73zM465.50 440.30h2.73v3.05h-2.73zM467.53 463.18h2.73v1.53h-2.73zM473.61 493.69h2.73v1.53h-2.73zM477.66 495.21h2.73v1.53h-2.73zM479.68 437.25h2.73v3.05h-2.73zM481.71 429.62h2.73v3.05h-2.73zM483.73 463.18h2.73v3.05h-2.73zM485.76 455.55h2.73v1.53h-2.73zM487.79 437.25h2.73v6.10h-2.73zM489.81 472.33h2.73v4.58h-2.73zM491.84 409.79h2.73v4.58h-2.73zM493.86 421.99h2.73v7.63h-2.73zM495.89 368.60h2.73v6.10h-2.73zM497.91 374.71h2.73v3.05h-2.73zM499.94 354.88h2.73v4.58h-2.73zM501.97 423.52h2.73v4.58h-2.73zM506.02 504.37h2.73v1.53h-2.73zM508.04 444.87h2.73v1.53h-2.73zM510.07 360.98h2.73v4.58h-2.73zM512.09 367.08h2.73v4.58h-2.73zM514.12 341.15h2.73v6.10h-2.73zM516.15 426.57h2.73v3.05h-2.73zM518.17 408.27h2.73v4.58h-2.73zM520.20 415.89h2.73v9.15h-2.73zM522.22 402.16h2.73v3.05h-2.73zM524.25 388.43h2.73v9.15h-2.73zM526.27 420.47h2.73v9.15h-2.73zM528.30 393.01h2.73v3.05h-2.73zM530.33 470.81h2.73v3.05h-2.73zM532.35 460.13h2.73v6.10h-2.73zM534.38 460.13h2.73v3.05h-2.73zM536.40 417.42h2.73v6.10h-2.73zM538.43 444.87h2.73v1.53h-2.73zM540.45 432.67h2.73v3.05h-2.73zM542.48 383.86h2.73v9.15h-2.73zM544.50 446.40h2.73v3.05h-2.73zM546.53 470.81h2.73v3.05h-2.73zM548.56 454.03h2.73v3.05h-2.73zM550.58 431.15h2.73v4.58h-2.73zM552.61 423.52h2.73v6.10h-2.73zM554.63 385.38h2.73v4.58h-2.73zM556.66 444.87h2.73v6.10h-2.73zM558.68 425.04h2.73v7.63h-2.73zM560.71 501.31h2.73v3.05h-2.73zM562.74 385.38h2.73v4.58h-2.73zM564.76 379.28h2.73v4.58h-2.73zM566.79 374.71h2.73v9.15h-2.73zM568.81 421.99h2.73v4.58h-2.73zM570.84 441.82h2.73v7.63h-2.73zM572.86 464.70h2.73v1.53h-2.73zM576.92 466.23h2.73v3.05h-2.73zM578.94 393.01h2.73v6.10h-2.73zM580.97 446.40h2.73v4.58h-2.73zM582.99 428.10h2.73v6.10h-2.73zM585.02 443.35h2.73v4.58h-2.73zM587.04 454.03h2.73v3.05h-2.73zM589.07 486.06h2.73v1.53h-2.73zM593.12 525.72h2.73v1.53h-2.73zM595.15 457.08h2.73v4.58h-2.73zM597.17 426.57h2.73v3.05h-2.73zM599.20 409.79h2.73v6.10h-2.73zM601.22 449.45h2.73v1.53h-2.73zM603.25 518.09h2.73v1.53h-2.73zM605.28 458.60h2.73v4.58h-2.73zM607.30 425.04h2.73v6.10h-2.73zM609.33 426.57h2.73v7.63h-2.73zM611.35 444.87h2.73v4.58h-2.73zM613.38 454.03h2.73v4.58h-2.73zM617.43 446.40h2.73v6.10h-2.73zM619.46 444.87h2.73v6.10h-2.73zM621.48 486.06h2.73v3.05h-2.73zM623.51 447.93h2.73v3.05h-2.73zM625.53 429.62h2.73v6.10h-2.73zM627.56 447.93h2.73v4.58h-2.73zM629.58 470.81h2.73v1.53h-2.73zM631.61 463.18h2.73v4.58h-2.73zM633.63 463.18h2.73v4.58h-2.73zM635.66 443.35h2.73v3.05h-2.73zM637.69 415.89h2.73v6.10h-2.73zM639.71 469.28h2.73v3.05h-2.73zM641.74 470.81h2.73v1.53h-2.73zM643.76 469.28h2.73v4.58h-2.73zM645.79 508.94h2.73v1.53h-2.73zM647.81 473.86h2.73v3.05h-2.73zM649.84 411.32h2.73v7.63h-2.73zM651.87 409.79h2.73v3.05h-2.73zM653.89 408.27h2.73v9.15h-2.73zM655.92 455.55h2.73v4.58h-2.73zM657.94 455.55h2.73v3.05h-2.73zM659.97 510.47h2.73v1.53h-2.73zM661.99 447.93h2.73v4.58h-2.73zM664.02 438.77h2.73v7.63h-2.73zM666.05 438.77h2.73v7.63h-2.73zM668.07 452.50h2.73v6.10h-2.73zM670.10 446.40h2.73v7.63h-2.73zM672.12 457.08h2.73v4.58h-2.73zM674.15 510.47h2.73v1.53h-2.73zM676.17 441.82h2.73v12.20h-2.73zM678.20 490.64h2.73v4.58h-2.73zM680.23 382.33h2.73v9.15h-2.73zM682.25 391.49h2.73v10.68h-2.73zM684.28 339.62h2.73v16.78h-2.73zM686.30 431.15h2.73v9.15h-2.73zM688.33 490.64h2.73v4.58h-2.73zM690.35 397.59h2.73v13.73h-2.73zM692.38 351.83h2.73v13.73h-2.73zM694.41 325.89h2.73v18.30h-2.73zM696.43 328.94h2.73v25.93h-2.73zM698.46 325.89h2.73v27.46h-2.73zM700.48 371.66h2.73v10.68h-2.73zM702.51 452.50h2.73v4.58h-2.73zM704.53 348.77h2.73v12.20h-2.73zM706.56 205.39h2.73v24.41h-2.73zM708.59 243.52h2.73v19.83h-2.73zM710.61 231.32h2.73v21.36h-2.73zM712.64 258.78h2.73v24.41h-2.73zM714.66 303.01h2.73v30.51h-2.73zM716.69 441.82h2.73v10.68h-2.73zM718.71 447.93h2.73v3.05h-2.73zM720.74 304.54h2.73v19.83h-2.73zM722.76 171.83h2.73v21.36h-2.73zM724.79 222.17h2.73v19.83h-2.73zM726.82 225.22h2.73v16.78h-2.73zM728.84 324.37h2.73v22.88h-2.73zM730.87 421.99h2.73v6.10h-2.73zM732.89 312.17h2.73v22.88h-2.73zM734.92 228.27h2.73v13.73h-2.73zM736.94 255.73h2.73v18.30h-2.73zM738.97 261.83h2.73v24.41h-2.73zM741.00 258.78h2.73v18.30h-2.73zM743.02 283.18h2.73v10.68h-2.73zM745.05 446.40h2.73v9.15h-2.73zM747.07 319.79h2.73v15.25h-2.73zM749.10 179.46h2.73v30.51h-2.73zM751.12 226.74h2.73v15.25h-2.73z"/>
<path fill="#6e2fa8" d="M171.78 540.97h2.73v1.53h-2.73zM185.96 534.87h2.73v1.53h-2.73zM236.60 522.67h2.73v1.53h-2.73zM238.63 513.52h2.73v1.53h-2.73zM242.68 496.74h2.73v1.53h-2.73zM250.78 516.57h2.73v1.53h-2.73zM252.81 446.40h2.73v1.53h-2.73zM256.86 460.13h2.73v1.53h-2.73zM258.88 428.10h2.73v1.53h-2.73zM260.91 496.74h2.73v1.53h-2.73zM264.96 513.52h2.73v1.53h-2.73zM266.99 483.01h2.73v1.53h-2.73zM269.01 460.13h2.73v3.05h-2.73zM271.04 492.16h2.73v1.53h-2.73zM273.06 476.91h2.73v1.53h-2.73zM279.14 522.67h2.73v1.53h-2.73zM285.22 495.21h2.73v1.53h-2.73zM287.24 496.74h2.73v1.53h-2.73zM301.42 489.11h2.73v1.53h-2.73zM303.45 508.94h2.73v1.53h-2.73zM311.55 524.20h2.73v1.53h-2.73zM325.73 493.69h2.73v1.53h-2.73zM388.53 539.45h2.73v1.53h-2.73zM435.12 530.30h2.73v1.53h-2.73zM443.22 492.16h2.73v1.53h-2.73zM455.38 475.38h2.73v1.53h-2.73zM477.66 493.69h2.73v1.53h-2.73zM481.71 428.10h2.73v1.53h-2.73zM487.79 434.20h2.73v3.05h-2.73zM489.81 470.81h2.73v1.53h-2.73zM491.84 408.27h2.73v1.53h-2.73zM493.86 420.47h2.73v1.53h-2.73zM495.89 362.50h2.73v6.10h-2.73zM497.91 370.13h2.73v4.58h-2.73zM499.94 348.77h2.73v6.10h-2.73zM501.97 420.47h2.73v3.05h-2.73zM503.99 504.37h2.73v1.53h-2.73zM508.04 443.35h2.73v1.53h-2.73zM510.07 356.40h2.73v4.58h-2.73zM512.09 365.55h2.73v1.53h-2.73zM514.12 336.57h2.73v4.58h-2.73zM516.15 423.52h2.73v3.05h-2.73zM518.17 405.21h2.73v3.05h-2.73zM520.20 414.37h2.73v1.53h-2.73zM522.22 399.11h2.73v3.05h-2.73zM524.25 385.38h2.73v3.05h-2.73zM526.27 418.94h2.73v1.53h-2.73zM528.30 389.96h2.73v3.05h-2.73zM530.33 469.28h2.73v1.53h-2.73zM532.35 458.60h2.73v1.53h-2.73zM534.38 458.60h2.73v1.53h-2.73zM536.40 414.37h2.73v3.05h-2.73zM538.43 443.35h2.73v1.53h-2.73zM540.45 429.62h2.73v3.05h-2.73zM542.48 382.33h2.73v1.53h-2.73zM546.53 467.76h2.73v3.05h-2.73zM550.58 428.10h2.73v3.05h-2.73zM552.61 420.47h2.73v3.05h-2.73zM554.63 379.28h2.73v6.10h-2.73zM556.66 441.82h2.73v3.05h-2.73zM558.68 423.52h2.73v1.53h-2.73zM560.71 499.79h2.73v1.53h-2.73zM562.74 382.33h2.73v3.05h-2.73zM564.76 373.18h2.73v6.10h-2.73zM566.79 373.18h2.73v1.53h-2.73zM568.81 418.94h2.73v3.05h-2.73zM570.84 440.30h2.73v1.53h-2.73zM572.86 463.18h2.73v1.53h-2.73zM574.89 521.14h2.73v1.53h-2.73zM576.92 464.70h2.73v1.53h-2.73zM578.94 389.96h2.73v3.05h-2.73zM580.97 444.87h2.73v1.53h-2.73zM582.99 425.04h2.73v3.05h-2.73zM585.02 440.30h2.73v3.05h-2.73zM587.04 452.50h2.73v1.53h-2.73zM595.15 455.55h2.73v1.53h-2.73zM597.17 425.04h2.73v1.53h-2.73zM599.20 406.74h2.73v3.05h-2.73zM601.22 444.87h2.73v4.58h-2.73zM605.28 455.55h2.73v3.05h-2.73zM607.30 423.52h2.73v1.53h-2.73zM609.33 425.04h2.73v1.53h-2.73zM611.35 443.35h2.73v1.53h-2.73zM613.38 452.50h2.73v1.53h-2.73zM617.43 444.87h2.73v1.53h-2.73zM621.48 484.53h2.73v1.53h-2.73zM623.51 444.87h2.73v3.05h-2.73zM625.53 426.57h2.73v3.05h-2.73zM627.56 446.40h2.73v1.53h-2.73zM629.58 469.28h2.73v1.53h-2.73zM631.61 461.65h2.73v1.53h-2.73zM633.63 461.65h2.73v1.53h-2.73zM635.66 440.30h2.73v3.05h-2.73zM637.69 414.37h2.73v1.53h-2.73zM639.71 467.76h2.73v1.53h-2.73zM641.74 469.28h2.73v1.53h-2.73zM647.81 472.33h2.73v1.53h-2.73zM649.84 409.79h2.73v1.53h-2.73zM651.87 406.74h2.73v3.05h-2.73zM653.89 406.74h2.73v1.53h-2.73zM655.92 452.50h2.73v3.05h-2.73zM657.94 452.50h2.73v3.05h-2.73zM661.99 446.40h2.73v1.53h-2.73zM664.02 435.72h2.73v3.05h-2.73zM666.05 435.72h2.73v3.05h-2.73zM668.07 450.98h2.73v1.53h-2.73zM670.10 444.87h2.73v1.53h-2.73zM672.12 452.50h2.73v4.58h-2.73zM676.17 440.30h2.73v1.53h-2.73zM680.23 377.76h2.73v4.58h-2.73zM682.25 388.43h2.73v3.05h-2.73zM684.28 335.05h2.73v4.58h-2.73zM686.30 426.57h2.73v4.58h-2.73zM688.33 489.11h2.73v1.53h-2.73zM690.35 394.54h2.73v3.05h-2.73zM692.38 345.72h2.73v6.10h-2.73zM694.41 319.79h2.73v6.10h-2.73zM696.43 319.79h2.73v9.15h-2.73zM698.46 318.27h2.73v7.63h-2.73zM700.48 370.13h2.73v1.53h-2.73zM702.51 450.98h2.73v1.53h-2.73zM704.53 341.15h2.73v7.63h-2.73zM706.56 199.29h2.73v6.10h-2.73zM708.59 229.79h2.73v13.73h-2.73zM710.61 226.74h2.73v4.58h-2.73zM712.64 251.15h2.73v7.63h-2.73zM714.66 296.91h2.73v6.10h-2.73zM716.69 438.77h2.73v3.05h-2.73zM718.71 444.87h2.73v3.05h-2.73zM720.74 301.49h2.73v3.05h-2.73zM722.76 158.10h2.73v13.73h-2.73zM724.79 209.96h2.73v12.20h-2.73zM726.82 217.59h2.73v7.63h-2.73zM728.84 316.74h2.73v7.63h-2.73zM730.87 418.94h2.73v3.05h-2.73zM732.89 303.01h2.73v9.15h-2.73zM734.92 217.59h2.73v10.68h-2.73zM736.94 243.52h2.73v12.20h-2.73zM738.97 255.73h2.73v6.10h-2.73zM741.00 252.67h2.73v6.10h-2.73zM743.02 280.13h2.73v3.05h-2.73zM745.05 444.87h2.73v1.53h-2.73zM747.07 312.17h2.73v7.63h-2.73zM749.10 170.30h2.73v9.15h-2.73zM751.12 217.59h2.73v9.15h-2.73z"/>
<path fill="#1e1b26" opacity="0.9" d="M138.33 540.47h1.1v1.2h-1.1zM140.23 540.47h1.1v1.2h-1.1zM142.14 540.47h1.1v1.2h-1.1zM144.15 540.47h1.1v1.2h-1.1zM145.96 540.47h1.1v1.2h-1.1zM150.02 540.47h1.1v1.2h-1.1zM152.53 540.47h1.1v1.2h-1.1zM154.35 538.95h1.1v1.2h-1.1zM158.27 540.47h1.1v1.2h-1.1zM158.19 538.95h1.1v1.2h-1.1zM160.47 540.47h1.1v1.2h-1.1zM162.73 540.47h1.1v1.2h-1.1zM164.48 538.95h1.1v1.2h-1.1zM166.24 540.47h1.1v1.2h-1.1zM168.28 540.47h1.1v1.2h-1.1zM170.42 540.47h1.1v1.2h-1.1zM170.71 538.95h1.1v1.2h-1.1zM172.34 540.47h1.1v1.2h-1.1zM174.32 540.47h1.1v1.2h-1.1zM176.93 540.47h1.1v1.2h-1.1zM176.78 538.95h1.1v1.2h-1.1zM178.43 540.47h1.1v1.2h-1.1zM178.70 538.95h1.1v1.2h-1.1zM178.75 537.42h1.1v1.2h-1.1zM180.86 540.47h1.1v1.2h-1.1zM183.01 540.47h1.1v1.2h-1.1zM184.74 540.47h1.1v1.2h-1.1zM184.45 538.95h1.1v1.2h-1.1zM186.64 540.47h1.1v1.2h-1.1zM186.53 538.95h1.1v1.2h-1.1zM186.64 537.42h1.1v1.2h-1.1zM186.63 534.37h1.1v1.2h-1.1zM188.70 540.47h1.1v1.2h-1.1zM194.63 540.47h1.1v1.2h-1.1zM196.87 540.47h1.1v1.2h-1.1zM199.01 540.47h1.1v1.2h-1.1zM200.83 540.47h1.1v1.2h-1.1zM203.09 540.47h1.1v1.2h-1.1zM204.83 540.47h1.1v1.2h-1.1zM204.73 537.42h1.1v1.2h-1.1zM204.94 535.90h1.1v1.2h-1.1zM205.23 534.37h1.1v1.2h-1.1zM207.22 540.47h1.1v1.2h-1.1zM208.92 540.47h1.1v1.2h-1.1zM208.91 537.42h1.1v1.2h-1.1zM211.27 540.47h1.1v1.2h-1.1zM213.23 540.47h1.1v1.2h-1.1zM212.95 538.95h1.1v1.2h-1.1zM213.18 537.42h1.1v1.2h-1.1zM213.26 535.90h1.1v1.2h-1.1zM213.20 534.37h1.1v1.2h-1.1zM215.12 540.47h1.1v1.2h-1.1zM216.94 540.47h1.1v1.2h-1.1zM217.01 538.95h1.1v1.2h-1.1zM217.25 537.42h1.1v1.2h-1.1zM219.22 538.95h1.1v1.2h-1.1zM219.13 537.42h1.1v1.2h-1.1zM219.48 535.90h1.1v1.2h-1.1zM221.08 540.47h1.1v1.2h-1.1zM223.44 540.47h1.1v1.2h-1.1zM223.04 538.95h1.1v1.2h-1.1zM223.17 537.42h1.1v1.2h-1.1zM223.16 535.90h1.1v1.2h-1.1zM223.08 534.37h1.1v1.2h-1.1zM225.10 540.47h1.1v1.2h-1.1zM225.43 538.95h1.1v1.2h-1.1zM225.07 535.90h1.1v1.2h-1.1zM225.02 534.37h1.1v1.2h-1.1zM225.22 532.85h1.1v1.2h-1.1zM227.56 540.47h1.1v1.2h-1.1zM227.46 537.42h1.1v1.2h-1.1zM227.20 534.37h1.1v1.2h-1.1zM229.33 537.42h1.1v1.2h-1.1zM229.23 535.90h1.1v1.2h-1.1zM229.34 532.85h1.1v1.2h-1.1zM229.54 531.32h1.1v1.2h-1.1zM229.61 529.80h1.1v1.2h-1.1zM229.25 528.27h1.1v1.2h-1.1zM229.17 526.75h1.1v1.2h-1.1zM231.57 538.95h1.1v1.2h-1.1zM231.17 535.90h1.1v1.2h-1.1zM231.05 532.85h1.1v1.2h-1.1zM231.25 531.32h1.1v1.2h-1.1zM231.25 528.27h1.1v1.2h-1.1zM231.39 526.75h1.1v1.2h-1.1zM231.16 525.22h1.1v1.2h-1.1zM233.61 540.47h1.1v1.2h-1.1zM233.38 537.42h1.1v1.2h-1.1zM233.21 535.90h1.1v1.2h-1.1zM233.53 534.37h1.1v1.2h-1.1zM233.39 532.85h1.1v1.2h-1.1zM233.18 529.80h1.1v1.2h-1.1zM235.29 540.47h1.1v1.2h-1.1zM235.51 538.95h1.1v1.2h-1.1zM235.52 537.42h1.1v1.2h-1.1zM237.53 537.42h1.1v1.2h-1.1zM237.70 534.37h1.1v1.2h-1.1zM237.62 532.85h1.1v1.2h-1.1zM237.63 531.32h1.1v1.2h-1.1zM237.55 528.27h1.1v1.2h-1.1zM237.30 525.22h1.1v1.2h-1.1zM237.49 523.70h1.1v1.2h-1.1zM237.66 522.17h1.1v1.2h-1.1zM239.26 525.22h1.1v1.2h-1.1zM239.16 522.17h1.1v1.2h-1.1zM239.63 520.64h1.1v1.2h-1.1zM239.64 519.12h1.1v1.2h-1.1zM239.31 514.54h1.1v1.2h-1.1zM239.20 513.02h1.1v1.2h-1.1zM241.30 540.47h1.1v1.2h-1.1zM241.22 538.95h1.1v1.2h-1.1zM241.27 532.85h1.1v1.2h-1.1zM241.29 526.75h1.1v1.2h-1.1zM241.75 523.70h1.1v1.2h-1.1zM241.46 519.12h1.1v1.2h-1.1zM241.64 514.54h1.1v1.2h-1.1zM241.46 508.44h1.1v1.2h-1.1zM241.66 505.39h1.1v1.2h-1.1zM243.35 538.95h1.1v1.2h-1.1zM243.42 526.75h1.1v1.2h-1.1zM243.33 517.59h1.1v1.2h-1.1zM243.51 509.97h1.1v1.2h-1.1zM243.64 506.92h1.1v1.2h-1.1zM243.40 499.29h1.1v1.2h-1.1zM243.28 497.76h1.1v1.2h-1.1zM243.59 496.24h1.1v1.2h-1.1zM245.80 540.47h1.1v1.2h-1.1zM245.28 535.90h1.1v1.2h-1.1zM245.45 525.22h1.1v1.2h-1.1zM245.66 517.59h1.1v1.2h-1.1zM245.33 513.02h1.1v1.2h-1.1zM245.28 511.49h1.1v1.2h-1.1zM247.71 540.47h1.1v1.2h-1.1zM247.75 537.42h1.1v1.2h-1.1zM247.63 532.85h1.1v1.2h-1.1zM247.43 525.22h1.1v1.2h-1.1zM247.30 517.59h1.1v1.2h-1.1zM247.71 511.49h1.1v1.2h-1.1zM247.62 505.39h1.1v1.2h-1.1zM247.50 502.34h1.1v1.2h-1.1zM249.58 540.47h1.1v1.2h-1.1zM249.77 538.95h1.1v1.2h-1.1zM249.51 537.42h1.1v1.2h-1.1zM249.68 534.37h1.1v1.2h-1.1zM249.73 532.85h1.1v1.2h-1.1zM251.76 538.95h1.1v1.2h-1.1zM251.67 534.37h1.1v1.2h-1.1zM251.63 532.85h1.1v1.2h-1.1zM251.87 529.80h1.1v1.2h-1.1zM251.68 525.22h1.1v1.2h-1.1zM251.78 523.70h1.1v1.2h-1.1zM251.47 520.64h1.1v1.2h-1.1zM251.37 517.59h1.1v1.2h-1.1zM251.51 516.07h1.1v1.2h-1.1zM253.40 534.37h1.1v1.2h-1.1zM253.70 514.54h1.1v1.2h-1.1zM253.33 503.87h1.1v1.2h-1.1zM253.47 477.93h1.1v1.2h-1.1zM253.41 471.83h1.1v1.2h-1.1zM253.79 455.05h1.1v1.2h-1.1zM253.41 447.43h1.1v1.2h-1.1zM255.63 540.47h1.1v1.2h-1.1zM255.64 532.85h1.1v1.2h-1.1zM255.67 528.27h1.1v1.2h-1.1zM255.35 522.17h1.1v1.2h-1.1zM255.63 516.07h1.1v1.2h-1.1zM255.74 509.97h1.1v1.2h-1.1zM255.57 505.39h1.1v1.2h-1.1zM255.92 500.81h1.1v1.2h-1.1zM257.50 540.47h1.1v1.2h-1.1zM257.62 537.42h1.1v1.2h-1.1zM257.87 520.64h1.1v1.2h-1.1zM257.87 516.07h1.1v1.2h-1.1zM257.67 503.87h1.1v1.2h-1.1zM257.68 491.66h1.1v1.2h-1.1zM257.85 470.31h1.1v1.2h-1.1zM257.56 461.15h1.1v1.2h-1.1zM257.72 459.63h1.1v1.2h-1.1zM259.52 538.95h1.1v1.2h-1.1zM259.67 531.32h1.1v1.2h-1.1zM259.46 520.64h1.1v1.2h-1.1zM259.42 499.29h1.1v1.2h-1.1zM259.95 473.36h1.1v1.2h-1.1zM259.62 453.53h1.1v1.2h-1.1zM259.87 444.37h1.1v1.2h-1.1zM259.55 433.70h1.1v1.2h-1.1zM259.65 429.12h1.1v1.2h-1.1zM259.66 427.60h1.1v1.2h-1.1zM261.43 540.47h1.1v1.2h-1.1zM261.83 537.42h1.1v1.2h-1.1zM262.00 532.85h1.1v1.2h-1.1zM261.94 526.75h1.1v1.2h-1.1zM261.43 523.70h1.1v1.2h-1.1zM261.57 519.12h1.1v1.2h-1.1zM261.54 509.97h1.1v1.2h-1.1zM261.89 503.87h1.1v1.2h-1.1zM261.94 497.76h1.1v1.2h-1.1zM261.47 496.24h1.1v1.2h-1.1zM263.85 540.47h1.1v1.2h-1.1zM263.93 537.42h1.1v1.2h-1.1zM263.84 534.37h1.1v1.2h-1.1zM263.70 531.32h1.1v1.2h-1.1zM263.92 526.75h1.1v1.2h-1.1zM263.79 522.17h1.1v1.2h-1.1zM263.48 520.64h1.1v1.2h-1.1zM265.96 540.47h1.1v1.2h-1.1zM265.50 534.37h1.1v1.2h-1.1zM265.96 531.32h1.1v1.2h-1.1zM265.82 528.27h1.1v1.2h-1.1zM265.98 523.70h1.1v1.2h-1.1zM265.88 519.12h1.1v1.2h-1.1zM265.53 514.54h1.1v1.2h-1.1zM265.95 513.02h1.1v1.2h-1.1zM267.85 538.95h1.1v1.2h-1.1zM267.62 522.17h1.1v1.2h-1.1zM267.92 517.59h1.1v1.2h-1.1zM267.84 508.44h1.1v1.2h-1.1zM267.81 497.76h1.1v1.2h-1.1zM267.53 490.14h1.1v1.2h-1.1zM267.56 484.03h1.1v1.2h-1.1zM267.97 482.51h1.1v1.2h-1.1zM269.58 540.47h1.1v1.2h-1.1zM269.86 537.42h1.1v1.2h-1.1zM269.80 523.70h1.1v1.2h-1.1zM269.88 503.87h1.1v1.2h-1.1zM269.60 484.03h1.1v1.2h-1.1zM269.86 462.68h1.1v1.2h-1.1zM270.10 459.63h1.1v1.2h-1.1zM272.11 540.47h1.1v1.2h-1.1zM271.73 538.95h1.1v1.2h-1.1zM272.01 529.80h1.1v1.2h-1.1zM271.75 525.22h1.1v1.2h-1.1zM271.63 514.54h1.1v1.2h-1.1zM271.65 502.34h1.1v1.2h-1.1zM271.64 497.76h1.1v1.2h-1.1zM271.56 496.24h1.1v1.2h-1.1zM271.67 493.19h1.1v1.2h-1.1zM272.11 491.66h1.1v1.2h-1.1zM274.10 540.47h1.1v1.2h-1.1zM273.82 537.42h1.1v1.2h-1.1zM273.74 522.17h1.1v1.2h-1.1zM273.78 511.49h1.1v1.2h-1.1zM273.87 506.92h1.1v1.2h-1.1zM274.12 499.29h1.1v1.2h-1.1zM274.16 494.71h1.1v1.2h-1.1zM274.11 484.03h1.1v1.2h-1.1zM273.70 477.93h1.1v1.2h-1.1zM273.75 476.41h1.1v1.2h-1.1zM275.86 540.47h1.1v1.2h-1.1zM275.95 525.22h1.1v1.2h-1.1zM275.71 516.07h1.1v1.2h-1.1zM276.03 508.44h1.1v1.2h-1.1zM275.65 505.39h1.1v1.2h-1.1zM275.97 502.34h1.1v1.2h-1.1zM275.77 497.76h1.1v1.2h-1.1zM277.74 540.47h1.1v1.2h-1.1zM277.85 538.95h1.1v1.2h-1.1zM277.85 534.37h1.1v1.2h-1.1zM277.63 529.80h1.1v1.2h-1.1zM277.90 526.75h1.1v1.2h-1.1zM277.70 525.22h1.1v1.2h-1.1zM278.12 523.70h1.1v1.2h-1.1zM277.82 520.64h1.1v1.2h-1.1zM277.86 519.12h1.1v1.2h-1.1zM280.00 537.42h1.1v1.2h-1.1zM280.08 534.37h1.1v1.2h-1.1zM280.18 532.85h1.1v1.2h-1.1zM279.68 529.80h1.1v1.2h-1.1zM279.95 526.75h1.1v1.2h-1.1zM279.82 525.22h1.1v1.2h-1.1zM279.90 523.70h1.1v1.2h-1.1zM280.01 522.17h1.1v1.2h-1.1zM282.19 538.95h1.1v1.2h-1.1zM281.99 532.85h1.1v1.2h-1.1zM281.93 517.59h1.1v1.2h-1.1zM281.90 509.97h1.1v1.2h-1.1zM281.72 506.92h1.1v1.2h-1.1zM281.98 505.39h1.1v1.2h-1.1zM283.89 528.27h1.1v1.2h-1.1zM283.78 520.64h1.1v1.2h-1.1zM284.28 511.49h1.1v1.2h-1.1zM283.87 505.39h1.1v1.2h-1.1zM284.03 496.24h1.1v1.2h-1.1zM283.78 488.61h1.1v1.2h-1.1zM283.88 484.03h1.1v1.2h-1.1zM285.74 540.47h1.1v1.2h-1.1zM286.25 534.37h1.1v1.2h-1.1zM286.06 531.32h1.1v1.2h-1.1zM285.90 523.70h1.1v1.2h-1.1zM286.19 506.92h1.1v1.2h-1.1zM285.77 500.81h1.1v1.2h-1.1zM285.99 496.24h1.1v1.2h-1.1zM285.96 494.71h1.1v1.2h-1.1zM288.28 538.95h1.1v1.2h-1.1zM288.22 534.37h1.1v1.2h-1.1zM288.06 529.80h1.1v1.2h-1.1zM288.01 509.97h1.1v1.2h-1.1zM288.28 505.39h1.1v1.2h-1.1zM287.98 500.81h1.1v1.2h-1.1zM288.03 497.76h1.1v1.2h-1.1zM287.93 496.24h1.1v1.2h-1.1zM290.33 540.47h1.1v1.2h-1.1zM289.81 538.95h1.1v1.2h-1.1zM290.08 535.90h1.1v1.2h-1.1zM290.11 528.27h1.1v1.2h-1.1zM290.09 520.64h1.1v1.2h-1.1zM290.02 519.12h1.1v1.2h-1.1zM292.00 540.47h1.1v1.2h-1.1zM292.12 537.42h1.1v1.2h-1.1zM292.34 535.90h1.1v1.2h-1.1zM292.30 534.37h1.1v1.2h-1.1zM294.19 540.47h1.1v1.2h-1.1zM293.95 537.42h1.1v1.2h-1.1zM294.17 534.37h1.1v1.2h-1.1zM294.22 531.32h1.1v1.2h-1.1zM294.43 529.80h1.1v1.2h-1.1zM294.08 528.27h1.1v1.2h-1.1zM293.93 526.75h1.1v1.2h-1.1zM296.09 540.47h1.1v1.2h-1.1zM296.39 538.95h1.1v1.2h-1.1zM296.43 535.90h1.1v1.2h-1.1zM296.23 532.85h1.1v1.2h-1.1zM295.89 526.75h1.1v1.2h-1.1zM296.05 511.49h1.1v1.2h-1.1zM296.35 505.39h1.1v1.2h-1.1zM296.22 503.87h1.1v1.2h-1.1zM298.13 540.47h1.1v1.2h-1.1zM297.96 538.95h1.1v1.2h-1.1zM298.10 528.27h1.1v1.2h-1.1zM298.00 525.22h1.1v1.2h-1.1zM298.03 520.64h1.1v1.2h-1.1zM298.28 514.54h1.1v1.2h-1.1zM297.98 511.49h1.1v1.2h-1.1zM297.94 508.44h1.1v1.2h-1.1zM298.39 503.87h1.1v1.2h-1.1zM300.28 540.47h1.1v1.2h-1.1zM300.43 535.90h1.1v1.2h-1.1zM300.22 532.85h1.1v1.2h-1.1zM300.07 531.32h1.1v1.2h-1.1zM300.14 529.80h1.1v1.2h-1.1zM300.25 525.22h1.1v1.2h-1.1zM300.14 523.70h1.1v1.2h-1.1zM300.02 520.64h1.1v1.2h-1.1zM301.95 540.47h1.1v1.2h-1.1zM302.33 537.42h1.1v1.2h-1.1zM302.18 525.22h1.1v1.2h-1.1zM302.36 520.64h1.1v1.2h-1.1zM302.44 511.49h1.1v1.2h-1.1zM302.31 503.87h1.1v1.2h-1.1zM302.01 496.24h1.1v1.2h-1.1zM302.36 490.14h1.1v1.2h-1.1zM301.96 488.61h1.1v1.2h-1.1zM304.33 540.47h1.1v1.2h-1.1zM304.11 534.37h1.1v1.2h-1.1zM304.44 529.80h1.1v1.2h-1.1zM304.51 526.75h1.1v1.2h-1.1zM304.01 522.17h1.1v1.2h-1.1zM304.20 516.07h1.1v1.2h-1.1zM304.46 514.54h1.1v1.2h-1.1zM304.02 509.97h1.1v1.2h-1.1zM306.31 538.95h1.1v1.2h-1.1zM306.02 535.90h1.1v1.2h-1.1zM306.23 532.85h1.1v1.2h-1.1zM306.17 531.32h1.1v1.2h-1.1zM306.41 529.80h1.1v1.2h-1.1zM306.13 528.27h1.1v1.2h-1.1zM306.30 526.75h1.1v1.2h-1.1zM308.05 540.47h1.1v1.2h-1.1zM308.13 537.42h1.1v1.2h-1.1zM308.28 535.90h1.1v1.2h-1.1zM308.21 531.32h1.1v1.2h-1.1zM308.23 529.80h1.1v1.2h-1.1zM308.06 526.75h1.1v1.2h-1.1zM308.61 525.22h1.1v1.2h-1.1zM308.06 522.17h1.1v1.2h-1.1zM310.15 540.47h1.1v1.2h-1.1zM310.55 538.95h1.1v1.2h-1.1zM310.51 535.90h1.1v1.2h-1.1zM310.48 534.37h1.1v1.2h-1.1zM310.15 532.85h1.1v1.2h-1.1zM310.23 531.32h1.1v1.2h-1.1zM312.65 538.95h1.1v1.2h-1.1zM312.09 535.90h1.1v1.2h-1.1zM312.18 534.37h1.1v1.2h-1.1zM312.07 532.85h1.1v1.2h-1.1zM312.58 529.80h1.1v1.2h-1.1zM312.32 526.75h1.1v1.2h-1.1zM312.46 525.22h1.1v1.2h-1.1zM312.32 523.70h1.1v1.2h-1.1zM314.13 540.47h1.1v1.2h-1.1zM314.46 537.42h1.1v1.2h-1.1zM314.43 535.90h1.1v1.2h-1.1zM314.48 532.85h1.1v1.2h-1.1zM316.27 538.95h1.1v1.2h-1.1zM316.43 537.42h1.1v1.2h-1.1zM316.41 534.37h1.1v1.2h-1.1zM316.25 532.85h1.1v1.2h-1.1zM316.18 531.32h1.1v1.2h-1.1zM318.61 540.47h1.1v1.2h-1.1zM318.28 538.95h1.1v1.2h-1.1zM318.15 535.90h1.1v1.2h-1.1zM318.27 534.37h1.1v1.2h-1.1zM318.57 531.32h1.1v1.2h-1.1zM318.67 526.75h1.1v1.2h-1.1zM318.66 525.22h1.1v1.2h-1.1zM318.69 523.70h1.1v1.2h-1.1zM320.28 538.95h1.1v1.2h-1.1zM320.67 537.42h1.1v1.2h-1.1zM320.24 535.90h1.1v1.2h-1.1zM320.23 534.37h1.1v1.2h-1.1zM320.28 532.85h1.1v1.2h-1.1zM322.48 540.47h1.1v1.2h-1.1zM322.70 538.95h1.1v1.2h-1.1zM322.72 534.37h1.1v1.2h-1.1zM322.24 532.85h1.1v1.2h-1.1zM322.32 531.32h1.1v1.2h-1.1zM322.55 528.27h1.1v1.2h-1.1zM322.29 525.22h1.1v1.2h-1.1zM322.47 522.17h1.1v1.2h-1.1zM322.43 520.64h1.1v1.2h-1.1zM324.74 538.95h1.1v1.2h-1.1zM324.60 537.42h1.1v1.2h-1.1zM324.44 535.90h1.1v1.2h-1.1zM324.70 532.85h1.1v1.2h-1.1zM324.78 529.80h1.1v1.2h-1.1zM324.40 528.27h1.1v1.2h-1.1zM326.59 540.47h1.1v1.2h-1.1zM326.35 537.42h1.1v1.2h-1.1zM326.43 528.27h1.1v1.2h-1.1zM326.68 520.64h1.1v1.2h-1.1zM326.81 514.54h1.1v1.2h-1.1zM326.80 506.92h1.1v1.2h-1.1zM326.29 500.81h1.1v1.2h-1.1zM326.59 497.76h1.1v1.2h-1.1zM326.71 493.19h1.1v1.2h-1.1zM328.32 540.47h1.1v1.2h-1.1zM328.80 537.42h1.1v1.2h-1.1zM328.35 534.37h1.1v1.2h-1.1zM328.59 528.27h1.1v1.2h-1.1zM328.65 525.22h1.1v1.2h-1.1zM328.47 520.64h1.1v1.2h-1.1zM328.66 519.12h1.1v1.2h-1.1zM330.39 540.47h1.1v1.2h-1.1zM330.76 537.42h1.1v1.2h-1.1zM330.78 535.90h1.1v1.2h-1.1zM330.62 532.85h1.1v1.2h-1.1zM330.63 531.32h1.1v1.2h-1.1zM330.66 528.27h1.1v1.2h-1.1zM330.74 526.75h1.1v1.2h-1.1zM330.72 525.22h1.1v1.2h-1.1zM332.36 540.47h1.1v1.2h-1.1zM332.65 538.95h1.1v1.2h-1.1zM332.89 535.90h1.1v1.2h-1.1zM332.41 534.37h1.1v1.2h-1.1zM332.76 532.85h1.1v1.2h-1.1zM332.34 529.80h1.1v1.2h-1.1zM334.48 537.42h1.1v1.2h-1.1zM334.50 535.90h1.1v1.2h-1.1zM334.49 534.37h1.1v1.2h-1.1zM334.80 532.85h1.1v1.2h-1.1zM334.53 531.32h1.1v1.2h-1.1zM336.59 540.47h1.1v1.2h-1.1zM336.89 535.90h1.1v1.2h-1.1zM336.89 534.37h1.1v1.2h-1.1zM336.39 525.22h1.1v1.2h-1.1zM336.96 522.17h1.1v1.2h-1.1zM336.92 519.12h1.1v1.2h-1.1zM336.81 516.07h1.1v1.2h-1.1zM338.93 538.95h1.1v1.2h-1.1zM338.69 537.42h1.1v1.2h-1.1zM338.66 535.90h1.1v1.2h-1.1zM338.81 532.85h1.1v1.2h-1.1zM338.84 529.80h1.1v1.2h-1.1zM338.47 526.75h1.1v1.2h-1.1zM338.70 523.70h1.1v1.2h-1.1zM341.01 540.47h1.1v1.2h-1.1zM340.85 538.95h1.1v1.2h-1.1zM340.62 537.42h1.1v1.2h-1.1zM341.01 535.90h1.1v1.2h-1.1zM340.66 534.37h1.1v1.2h-1.1zM340.51 532.85h1.1v1.2h-1.1zM342.90 540.47h1.1v1.2h-1.1zM342.76 538.95h1.1v1.2h-1.1zM343.05 537.42h1.1v1.2h-1.1zM342.83 535.90h1.1v1.2h-1.1zM344.79 538.95h1.1v1.2h-1.1zM344.96 537.42h1.1v1.2h-1.1zM344.58 535.90h1.1v1.2h-1.1zM348.80 538.95h1.1v1.2h-1.1zM350.61 540.47h1.1v1.2h-1.1zM351.07 538.95h1.1v1.2h-1.1zM350.81 537.42h1.1v1.2h-1.1zM350.92 535.90h1.1v1.2h-1.1zM352.81 540.47h1.1v1.2h-1.1zM352.88 538.95h1.1v1.2h-1.1zM352.59 535.90h1.1v1.2h-1.1zM352.86 534.37h1.1v1.2h-1.1zM353.08 532.85h1.1v1.2h-1.1zM352.86 531.32h1.1v1.2h-1.1zM354.64 540.47h1.1v1.2h-1.1zM355.03 538.95h1.1v1.2h-1.1zM354.64 535.90h1.1v1.2h-1.1zM354.85 532.85h1.1v1.2h-1.1zM355.20 531.32h1.1v1.2h-1.1zM355.13 529.80h1.1v1.2h-1.1zM354.80 528.27h1.1v1.2h-1.1zM356.91 538.95h1.1v1.2h-1.1zM356.98 537.42h1.1v1.2h-1.1zM357.11 535.90h1.1v1.2h-1.1zM357.18 534.37h1.1v1.2h-1.1zM359.17 540.47h1.1v1.2h-1.1zM359.01 538.95h1.1v1.2h-1.1zM359.21 537.42h1.1v1.2h-1.1zM359.14 535.90h1.1v1.2h-1.1zM359.06 534.37h1.1v1.2h-1.1zM362.88 540.47h1.1v1.2h-1.1zM363.06 538.95h1.1v1.2h-1.1zM365.23 540.47h1.1v1.2h-1.1zM367.31 540.47h1.1v1.2h-1.1zM367.12 538.95h1.1v1.2h-1.1zM367.32 535.90h1.1v1.2h-1.1zM366.79 534.37h1.1v1.2h-1.1zM369.01 540.47h1.1v1.2h-1.1zM368.88 538.95h1.1v1.2h-1.1zM369.35 537.42h1.1v1.2h-1.1zM369.29 535.90h1.1v1.2h-1.1zM369.07 534.37h1.1v1.2h-1.1zM371.38 538.95h1.1v1.2h-1.1zM371.28 537.42h1.1v1.2h-1.1zM371.22 535.90h1.1v1.2h-1.1zM371.26 534.37h1.1v1.2h-1.1zM373.04 540.47h1.1v1.2h-1.1zM373.11 538.95h1.1v1.2h-1.1zM373.40 535.90h1.1v1.2h-1.1zM383.08 540.47h1.1v1.2h-1.1zM383.47 538.95h1.1v1.2h-1.1zM385.57 540.47h1.1v1.2h-1.1zM385.56 538.95h1.1v1.2h-1.1zM385.57 537.42h1.1v1.2h-1.1zM385.14 535.90h1.1v1.2h-1.1zM385.13 534.37h1.1v1.2h-1.1zM385.26 532.85h1.1v1.2h-1.1zM389.05 540.47h1.1v1.2h-1.1zM389.53 538.95h1.1v1.2h-1.1zM393.67 538.95h1.1v1.2h-1.1zM393.23 537.42h1.1v1.2h-1.1zM393.46 535.90h1.1v1.2h-1.1zM393.33 534.37h1.1v1.2h-1.1zM393.67 532.85h1.1v1.2h-1.1zM395.16 540.47h1.1v1.2h-1.1zM395.38 537.42h1.1v1.2h-1.1zM395.51 532.85h1.1v1.2h-1.1zM397.23 538.95h1.1v1.2h-1.1zM399.51 540.47h1.1v1.2h-1.1zM399.65 538.95h1.1v1.2h-1.1zM399.25 537.42h1.1v1.2h-1.1zM399.70 535.90h1.1v1.2h-1.1zM401.32 540.47h1.1v1.2h-1.1zM405.74 540.47h1.1v1.2h-1.1zM407.48 540.47h1.1v1.2h-1.1zM409.77 540.47h1.1v1.2h-1.1zM409.39 538.95h1.1v1.2h-1.1zM409.75 537.42h1.1v1.2h-1.1zM411.54 537.42h1.1v1.2h-1.1zM411.37 535.90h1.1v1.2h-1.1zM411.52 534.37h1.1v1.2h-1.1zM413.67 538.95h1.1v1.2h-1.1zM413.82 537.42h1.1v1.2h-1.1zM413.65 535.90h1.1v1.2h-1.1zM413.39 534.37h1.1v1.2h-1.1zM413.78 532.85h1.1v1.2h-1.1zM415.54 540.47h1.1v1.2h-1.1zM415.82 538.95h1.1v1.2h-1.1zM415.64 537.42h1.1v1.2h-1.1zM417.78 540.47h1.1v1.2h-1.1zM417.43 535.90h1.1v1.2h-1.1zM417.61 532.85h1.1v1.2h-1.1zM417.88 531.32h1.1v1.2h-1.1zM417.46 529.80h1.1v1.2h-1.1zM419.87 537.42h1.1v1.2h-1.1zM419.91 535.90h1.1v1.2h-1.1zM419.51 534.37h1.1v1.2h-1.1zM419.55 532.85h1.1v1.2h-1.1zM421.53 540.47h1.1v1.2h-1.1zM421.73 538.95h1.1v1.2h-1.1zM421.83 531.32h1.1v1.2h-1.1zM421.72 517.59h1.1v1.2h-1.1zM421.89 506.92h1.1v1.2h-1.1zM421.73 500.81h1.1v1.2h-1.1zM421.86 499.29h1.1v1.2h-1.1zM421.60 497.76h1.1v1.2h-1.1zM421.87 496.24h1.1v1.2h-1.1zM423.88 535.90h1.1v1.2h-1.1zM425.80 538.95h1.1v1.2h-1.1zM425.86 532.85h1.1v1.2h-1.1zM425.55 529.80h1.1v1.2h-1.1zM425.83 528.27h1.1v1.2h-1.1zM425.74 525.22h1.1v1.2h-1.1zM425.95 523.70h1.1v1.2h-1.1zM427.89 538.95h1.1v1.2h-1.1zM427.53 514.54h1.1v1.2h-1.1zM427.60 513.02h1.1v1.2h-1.1zM427.89 509.97h1.1v1.2h-1.1zM427.80 508.44h1.1v1.2h-1.1zM427.90 506.92h1.1v1.2h-1.1zM429.82 540.47h1.1v1.2h-1.1zM430.11 525.22h1.1v1.2h-1.1zM430.06 520.64h1.1v1.2h-1.1zM429.72 514.54h1.1v1.2h-1.1zM429.80 513.02h1.1v1.2h-1.1zM432.14 529.80h1.1v1.2h-1.1zM432.13 523.70h1.1v1.2h-1.1zM432.16 520.64h1.1v1.2h-1.1zM431.71 517.59h1.1v1.2h-1.1zM432.12 516.07h1.1v1.2h-1.1zM431.74 514.54h1.1v1.2h-1.1zM432.17 513.02h1.1v1.2h-1.1zM433.61 540.47h1.1v1.2h-1.1zM433.69 534.37h1.1v1.2h-1.1zM433.90 531.32h1.1v1.2h-1.1zM433.77 526.75h1.1v1.2h-1.1zM436.17 538.95h1.1v1.2h-1.1zM436.03 537.42h1.1v1.2h-1.1zM436.03 534.37h1.1v1.2h-1.1zM435.72 532.85h1.1v1.2h-1.1zM436.22 531.32h1.1v1.2h-1.1zM436.02 529.80h1.1v1.2h-1.1zM437.77 540.47h1.1v1.2h-1.1zM437.89 531.32h1.1v1.2h-1.1zM438.04 528.27h1.1v1.2h-1.1zM438.18 519.12h1.1v1.2h-1.1zM438.05 516.07h1.1v1.2h-1.1zM437.80 511.49h1.1v1.2h-1.1zM437.92 509.97h1.1v1.2h-1.1zM437.93 508.44h1.1v1.2h-1.1zM440.25 540.47h1.1v1.2h-1.1zM439.83 538.95h1.1v1.2h-1.1zM440.20 526.75h1.1v1.2h-1.1zM439.73 516.07h1.1v1.2h-1.1zM440.24 511.49h1.1v1.2h-1.1zM440.12 508.44h1.1v1.2h-1.1zM439.95 505.39h1.1v1.2h-1.1zM439.81 503.87h1.1v1.2h-1.1zM442.22 540.47h1.1v1.2h-1.1zM442.25 538.95h1.1v1.2h-1.1zM441.84 526.75h1.1v1.2h-1.1zM442.25 509.97h1.1v1.2h-1.1zM441.84 502.34h1.1v1.2h-1.1zM441.97 499.29h1.1v1.2h-1.1zM441.82 497.76h1.1v1.2h-1.1zM442.06 496.24h1.1v1.2h-1.1zM444.14 540.47h1.1v1.2h-1.1zM443.96 537.42h1.1v1.2h-1.1zM444.23 528.27h1.1v1.2h-1.1zM444.10 511.49h1.1v1.2h-1.1zM444.01 506.92h1.1v1.2h-1.1zM444.16 500.81h1.1v1.2h-1.1zM443.88 496.24h1.1v1.2h-1.1zM444.31 494.71h1.1v1.2h-1.1zM443.82 493.19h1.1v1.2h-1.1zM444.08 491.66h1.1v1.2h-1.1zM446.01 538.95h1.1v1.2h-1.1zM446.27 528.27h1.1v1.2h-1.1zM446.15 523.70h1.1v1.2h-1.1zM445.83 516.07h1.1v1.2h-1.1zM446.15 513.02h1.1v1.2h-1.1zM446.24 509.97h1.1v1.2h-1.1zM446.34 508.44h1.1v1.2h-1.1zM445.81 506.92h1.1v1.2h-1.1zM448.36 540.47h1.1v1.2h-1.1zM447.92 534.37h1.1v1.2h-1.1zM448.36 528.27h1.1v1.2h-1.1zM448.03 525.22h1.1v1.2h-1.1zM448.23 519.12h1.1v1.2h-1.1zM450.22 540.47h1.1v1.2h-1.1zM450.03 537.42h1.1v1.2h-1.1zM450.31 513.02h1.1v1.2h-1.1zM450.19 509.97h1.1v1.2h-1.1zM450.39 506.92h1.1v1.2h-1.1zM450.27 505.39h1.1v1.2h-1.1zM449.96 503.87h1.1v1.2h-1.1zM452.40 540.47h1.1v1.2h-1.1zM452.04 508.44h1.1v1.2h-1.1zM452.03 494.71h1.1v1.2h-1.1zM452.12 485.56h1.1v1.2h-1.1zM451.87 482.51h1.1v1.2h-1.1zM451.93 480.98h1.1v1.2h-1.1zM452.21 479.46h1.1v1.2h-1.1zM451.99 477.93h1.1v1.2h-1.1zM454.00 540.47h1.1v1.2h-1.1zM454.26 535.90h1.1v1.2h-1.1zM453.95 511.49h1.1v1.2h-1.1zM454.21 497.76h1.1v1.2h-1.1zM454.24 491.66h1.1v1.2h-1.1zM454.02 479.46h1.1v1.2h-1.1zM454.18 473.36h1.1v1.2h-1.1zM453.88 471.83h1.1v1.2h-1.1zM453.99 470.31h1.1v1.2h-1.1zM455.94 540.47h1.1v1.2h-1.1zM456.20 537.42h1.1v1.2h-1.1zM456.45 509.97h1.1v1.2h-1.1zM456.16 497.76h1.1v1.2h-1.1zM455.96 485.56h1.1v1.2h-1.1zM456.20 482.51h1.1v1.2h-1.1zM456.32 479.46h1.1v1.2h-1.1zM456.35 476.41h1.1v1.2h-1.1zM455.93 474.88h1.1v1.2h-1.1zM458.19 535.90h1.1v1.2h-1.1zM458.09 513.02h1.1v1.2h-1.1zM458.36 494.71h1.1v1.2h-1.1zM458.18 487.09h1.1v1.2h-1.1zM458.15 480.98h1.1v1.2h-1.1zM458.49 474.88h1.1v1.2h-1.1zM458.09 471.83h1.1v1.2h-1.1zM457.99 468.78h1.1v1.2h-1.1zM460.11 540.47h1.1v1.2h-1.1zM460.37 538.95h1.1v1.2h-1.1zM460.02 526.75h1.1v1.2h-1.1zM460.51 516.07h1.1v1.2h-1.1zM460.43 505.39h1.1v1.2h-1.1zM460.09 502.34h1.1v1.2h-1.1zM460.22 500.81h1.1v1.2h-1.1zM460.45 497.76h1.1v1.2h-1.1zM462.19 540.47h1.1v1.2h-1.1zM462.10 519.12h1.1v1.2h-1.1zM462.35 508.44h1.1v1.2h-1.1zM462.42 505.39h1.1v1.2h-1.1zM462.52 500.81h1.1v1.2h-1.1zM462.56 499.29h1.1v1.2h-1.1zM462.42 497.76h1.1v1.2h-1.1zM464.26 540.47h1.1v1.2h-1.1zM464.46 538.95h1.1v1.2h-1.1zM464.51 520.64h1.1v1.2h-1.1zM464.19 513.02h1.1v1.2h-1.1zM464.05 505.39h1.1v1.2h-1.1zM464.01 503.87h1.1v1.2h-1.1zM464.13 500.81h1.1v1.2h-1.1zM464.03 499.29h1.1v1.2h-1.1zM464.11 497.76h1.1v1.2h-1.1zM466.14 540.47h1.1v1.2h-1.1zM466.23 537.42h1.1v1.2h-1.1zM466.09 471.83h1.1v1.2h-1.1zM466.37 453.53h1.1v1.2h-1.1zM466.45 445.90h1.1v1.2h-1.1zM466.07 442.85h1.1v1.2h-1.1zM466.51 439.80h1.1v1.2h-1.1zM468.62 540.47h1.1v1.2h-1.1zM468.52 516.07h1.1v1.2h-1.1zM468.59 497.76h1.1v1.2h-1.1zM468.50 482.51h1.1v1.2h-1.1zM468.26 477.93h1.1v1.2h-1.1zM468.06 464.20h1.1v1.2h-1.1zM468.58 462.68h1.1v1.2h-1.1zM470.22 540.47h1.1v1.2h-1.1zM470.17 537.42h1.1v1.2h-1.1zM470.61 523.70h1.1v1.2h-1.1zM470.42 514.54h1.1v1.2h-1.1zM470.52 508.44h1.1v1.2h-1.1zM470.49 505.39h1.1v1.2h-1.1zM470.57 502.34h1.1v1.2h-1.1zM472.14 538.95h1.1v1.2h-1.1zM472.28 528.27h1.1v1.2h-1.1zM472.20 525.22h1.1v1.2h-1.1zM472.36 523.70h1.1v1.2h-1.1zM472.66 516.07h1.1v1.2h-1.1zM474.50 540.47h1.1v1.2h-1.1zM474.38 516.07h1.1v1.2h-1.1zM474.45 509.97h1.1v1.2h-1.1zM474.56 505.39h1.1v1.2h-1.1zM474.34 497.76h1.1v1.2h-1.1zM474.59 494.71h1.1v1.2h-1.1zM474.53 493.19h1.1v1.2h-1.1zM476.51 540.47h1.1v1.2h-1.1zM476.30 531.32h1.1v1.2h-1.1zM476.38 528.27h1.1v1.2h-1.1zM476.69 526.75h1.1v1.2h-1.1zM476.31 525.22h1.1v1.2h-1.1zM476.64 523.70h1.1v1.2h-1.1zM476.56 522.17h1.1v1.2h-1.1zM478.23 540.47h1.1v1.2h-1.1zM478.62 528.27h1.1v1.2h-1.1zM478.76 511.49h1.1v1.2h-1.1zM478.20 505.39h1.1v1.2h-1.1zM478.18 500.81h1.1v1.2h-1.1zM478.55 497.76h1.1v1.2h-1.1zM478.27 496.24h1.1v1.2h-1.1zM478.54 494.71h1.1v1.2h-1.1zM478.75 493.19h1.1v1.2h-1.1zM480.47 540.47h1.1v1.2h-1.1zM480.56 531.32h1.1v1.2h-1.1zM480.43 493.19h1.1v1.2h-1.1zM480.74 465.73h1.1v1.2h-1.1zM480.28 458.10h1.1v1.2h-1.1zM480.43 445.90h1.1v1.2h-1.1zM480.20 439.80h1.1v1.2h-1.1zM480.67 436.75h1.1v1.2h-1.1zM482.41 540.47h1.1v1.2h-1.1zM482.38 538.95h1.1v1.2h-1.1zM482.32 487.09h1.1v1.2h-1.1zM482.51 471.83h1.1v1.2h-1.1zM482.78 455.05h1.1v1.2h-1.1zM482.78 444.37h1.1v1.2h-1.1zM482.31 435.22h1.1v1.2h-1.1zM482.57 432.17h1.1v1.2h-1.1zM482.48 427.60h1.1v1.2h-1.1zM484.59 496.24h1.1v1.2h-1.1zM484.70 488.61h1.1v1.2h-1.1zM484.77 480.98h1.1v1.2h-1.1zM484.82 476.41h1.1v1.2h-1.1zM484.32 468.78h1.1v1.2h-1.1zM484.33 465.73h1.1v1.2h-1.1zM484.28 462.68h1.1v1.2h-1.1zM486.36 538.95h1.1v1.2h-1.1zM486.35 534.37h1.1v1.2h-1.1zM486.57 493.19h1.1v1.2h-1.1zM486.37 484.03h1.1v1.2h-1.1zM486.74 462.68h1.1v1.2h-1.1zM486.82 459.63h1.1v1.2h-1.1zM486.82 456.58h1.1v1.2h-1.1zM486.86 455.05h1.1v1.2h-1.1zM488.58 535.90h1.1v1.2h-1.1zM488.46 529.80h1.1v1.2h-1.1zM488.63 506.92h1.1v1.2h-1.1zM488.65 490.14h1.1v1.2h-1.1zM488.83 477.93h1.1v1.2h-1.1zM488.87 471.83h1.1v1.2h-1.1zM488.65 442.85h1.1v1.2h-1.1zM488.63 433.70h1.1v1.2h-1.1zM490.33 538.95h1.1v1.2h-1.1zM490.45 526.75h1.1v1.2h-1.1zM490.40 520.64h1.1v1.2h-1.1zM490.73 511.49h1.1v1.2h-1.1zM490.88 499.29h1.1v1.2h-1.1zM490.75 476.41h1.1v1.2h-1.1zM490.35 471.83h1.1v1.2h-1.1zM490.91 470.31h1.1v1.2h-1.1zM492.85 537.42h1.1v1.2h-1.1zM492.80 516.07h1.1v1.2h-1.1zM492.44 497.76h1.1v1.2h-1.1zM492.75 467.26h1.1v1.2h-1.1zM492.74 409.29h1.1v1.2h-1.1zM492.79 407.77h1.1v1.2h-1.1zM494.87 535.90h1.1v1.2h-1.1zM494.43 531.32h1.1v1.2h-1.1zM494.61 485.56h1.1v1.2h-1.1zM494.83 473.36h1.1v1.2h-1.1zM494.78 462.68h1.1v1.2h-1.1zM494.65 452.00h1.1v1.2h-1.1zM494.93 441.32h1.1v1.2h-1.1zM494.48 429.12h1.1v1.2h-1.1zM494.43 421.49h1.1v1.2h-1.1zM494.43 419.97h1.1v1.2h-1.1zM496.60 532.85h1.1v1.2h-1.1zM496.85 523.70h1.1v1.2h-1.1zM496.71 488.61h1.1v1.2h-1.1zM496.80 462.68h1.1v1.2h-1.1zM496.80 419.97h1.1v1.2h-1.1zM496.94 403.19h1.1v1.2h-1.1zM496.54 387.93h1.1v1.2h-1.1zM496.52 374.21h1.1v1.2h-1.1zM496.81 368.10h1.1v1.2h-1.1zM498.71 529.80h1.1v1.2h-1.1zM498.72 477.93h1.1v1.2h-1.1zM498.84 461.15h1.1v1.2h-1.1zM498.77 438.27h1.1v1.2h-1.1zM498.86 386.41h1.1v1.2h-1.1zM498.49 377.26h1.1v1.2h-1.1zM498.46 374.21h1.1v1.2h-1.1zM498.86 369.63h1.1v1.2h-1.1zM500.98 535.90h1.1v1.2h-1.1zM501.00 484.03h1.1v1.2h-1.1zM500.97 452.00h1.1v1.2h-1.1zM501.03 432.17h1.1v1.2h-1.1zM501.02 390.99h1.1v1.2h-1.1zM500.57 366.58h1.1v1.2h-1.1zM500.74 358.95h1.1v1.2h-1.1zM500.68 354.38h1.1v1.2h-1.1zM500.81 348.27h1.1v1.2h-1.1zM502.77 538.95h1.1v1.2h-1.1zM502.61 534.37h1.1v1.2h-1.1zM502.69 503.87h1.1v1.2h-1.1zM502.69 487.09h1.1v1.2h-1.1zM502.92 470.31h1.1v1.2h-1.1zM502.62 450.48h1.1v1.2h-1.1zM502.87 439.80h1.1v1.2h-1.1zM502.86 427.60h1.1v1.2h-1.1zM502.64 423.02h1.1v1.2h-1.1zM502.69 419.97h1.1v1.2h-1.1zM504.69 538.95h1.1v1.2h-1.1zM504.60 523.70h1.1v1.2h-1.1zM505.06 516.07h1.1v1.2h-1.1zM504.70 509.97h1.1v1.2h-1.1zM505.04 506.92h1.1v1.2h-1.1zM504.62 505.39h1.1v1.2h-1.1zM504.73 503.87h1.1v1.2h-1.1zM507.04 540.47h1.1v1.2h-1.1zM506.88 528.27h1.1v1.2h-1.1zM506.72 523.70h1.1v1.2h-1.1zM506.73 516.07h1.1v1.2h-1.1zM506.89 511.49h1.1v1.2h-1.1zM506.60 508.44h1.1v1.2h-1.1zM506.72 505.39h1.1v1.2h-1.1zM506.75 503.87h1.1v1.2h-1.1zM508.88 537.42h1.1v1.2h-1.1zM509.04 534.37h1.1v1.2h-1.1zM508.71 500.81h1.1v1.2h-1.1zM508.82 493.19h1.1v1.2h-1.1zM508.83 465.73h1.1v1.2h-1.1zM508.56 452.00h1.1v1.2h-1.1zM508.61 445.90h1.1v1.2h-1.1zM508.82 444.37h1.1v1.2h-1.1zM508.73 442.85h1.1v1.2h-1.1zM510.78 532.85h1.1v1.2h-1.1zM511.09 523.70h1.1v1.2h-1.1zM510.83 462.68h1.1v1.2h-1.1zM510.82 424.54h1.1v1.2h-1.1zM510.98 403.19h1.1v1.2h-1.1zM510.85 384.88h1.1v1.2h-1.1zM510.72 365.05h1.1v1.2h-1.1zM510.86 360.48h1.1v1.2h-1.1zM510.81 355.90h1.1v1.2h-1.1zM512.90 532.85h1.1v1.2h-1.1zM512.69 529.80h1.1v1.2h-1.1zM513.01 502.34h1.1v1.2h-1.1zM512.98 467.26h1.1v1.2h-1.1zM512.95 436.75h1.1v1.2h-1.1zM512.87 409.29h1.1v1.2h-1.1zM512.95 386.41h1.1v1.2h-1.1zM512.83 371.16h1.1v1.2h-1.1zM513.19 366.58h1.1v1.2h-1.1zM513.00 365.05h1.1v1.2h-1.1zM514.65 537.42h1.1v1.2h-1.1zM514.67 525.22h1.1v1.2h-1.1zM515.01 505.39h1.1v1.2h-1.1zM514.73 465.73h1.1v1.2h-1.1zM514.80 423.02h1.1v1.2h-1.1zM515.23 346.75h1.1v1.2h-1.1zM515.11 340.65h1.1v1.2h-1.1zM515.19 336.07h1.1v1.2h-1.1zM516.79 535.90h1.1v1.2h-1.1zM517.23 528.27h1.1v1.2h-1.1zM516.96 509.97h1.1v1.2h-1.1zM516.67 500.81h1.1v1.2h-1.1zM517.11 476.41h1.1v1.2h-1.1zM516.87 459.63h1.1v1.2h-1.1zM516.87 442.85h1.1v1.2h-1.1zM517.05 429.12h1.1v1.2h-1.1zM516.97 426.07h1.1v1.2h-1.1zM517.21 423.02h1.1v1.2h-1.1zM519.06 537.42h1.1v1.2h-1.1zM519.15 531.32h1.1v1.2h-1.1zM519.20 490.14h1.1v1.2h-1.1zM519.09 479.46h1.1v1.2h-1.1zM518.95 456.58h1.1v1.2h-1.1zM519.26 441.32h1.1v1.2h-1.1zM518.74 418.44h1.1v1.2h-1.1zM518.99 412.34h1.1v1.2h-1.1zM518.82 407.77h1.1v1.2h-1.1zM518.92 404.71h1.1v1.2h-1.1zM521.05 538.95h1.1v1.2h-1.1zM520.93 534.37h1.1v1.2h-1.1zM520.75 499.29h1.1v1.2h-1.1zM521.12 488.61h1.1v1.2h-1.1zM521.04 470.31h1.1v1.2h-1.1zM520.77 452.00h1.1v1.2h-1.1zM521.23 435.22h1.1v1.2h-1.1zM520.86 424.54h1.1v1.2h-1.1zM520.86 415.39h1.1v1.2h-1.1zM521.00 413.87h1.1v1.2h-1.1zM522.78 537.42h1.1v1.2h-1.1zM523.00 497.76h1.1v1.2h-1.1zM523.20 480.98h1.1v1.2h-1.1zM523.02 450.48h1.1v1.2h-1.1zM522.98 424.54h1.1v1.2h-1.1zM522.98 413.87h1.1v1.2h-1.1zM523.07 404.71h1.1v1.2h-1.1zM523.08 401.66h1.1v1.2h-1.1zM523.07 398.61h1.1v1.2h-1.1zM525.12 532.85h1.1v1.2h-1.1zM524.84 528.27h1.1v1.2h-1.1zM524.93 499.29h1.1v1.2h-1.1zM524.94 471.83h1.1v1.2h-1.1zM525.25 439.80h1.1v1.2h-1.1zM525.20 432.17h1.1v1.2h-1.1zM525.32 410.82h1.1v1.2h-1.1zM525.20 397.09h1.1v1.2h-1.1zM524.87 387.93h1.1v1.2h-1.1zM525.06 384.88h1.1v1.2h-1.1zM527.24 537.42h1.1v1.2h-1.1zM526.88 534.37h1.1v1.2h-1.1zM527.04 505.39h1.1v1.2h-1.1zM526.93 465.73h1.1v1.2h-1.1zM527.04 452.00h1.1v1.2h-1.1zM527.05 436.75h1.1v1.2h-1.1zM527.14 419.97h1.1v1.2h-1.1zM526.82 418.44h1.1v1.2h-1.1zM528.84 529.80h1.1v1.2h-1.1zM528.87 523.70h1.1v1.2h-1.1zM529.17 456.58h1.1v1.2h-1.1zM528.87 445.90h1.1v1.2h-1.1zM529.23 424.54h1.1v1.2h-1.1zM529.24 410.82h1.1v1.2h-1.1zM529.11 395.56h1.1v1.2h-1.1zM529.07 392.51h1.1v1.2h-1.1zM529.16 389.46h1.1v1.2h-1.1zM531.21 538.95h1.1v1.2h-1.1zM531.44 535.90h1.1v1.2h-1.1zM531.32 514.54h1.1v1.2h-1.1zM530.89 509.97h1.1v1.2h-1.1zM530.94 494.71h1.1v1.2h-1.1zM531.21 484.03h1.1v1.2h-1.1zM531.12 476.41h1.1v1.2h-1.1zM530.90 473.36h1.1v1.2h-1.1zM530.90 470.31h1.1v1.2h-1.1zM531.23 468.78h1.1v1.2h-1.1zM533.31 537.42h1.1v1.2h-1.1zM533.43 535.90h1.1v1.2h-1.1zM533.39 523.70h1.1v1.2h-1.1zM533.34 505.39h1.1v1.2h-1.1zM533.05 494.71h1.1v1.2h-1.1zM533.34 484.03h1.1v1.2h-1.1zM533.37 474.88h1.1v1.2h-1.1zM532.97 465.73h1.1v1.2h-1.1zM533.20 459.63h1.1v1.2h-1.1zM533.07 458.10h1.1v1.2h-1.1zM534.95 540.47h1.1v1.2h-1.1zM535.24 537.42h1.1v1.2h-1.1zM535.04 514.54h1.1v1.2h-1.1zM535.47 506.92h1.1v1.2h-1.1zM535.48 491.66h1.1v1.2h-1.1zM534.96 482.51h1.1v1.2h-1.1zM534.90 467.26h1.1v1.2h-1.1zM535.38 462.68h1.1v1.2h-1.1zM535.22 459.63h1.1v1.2h-1.1zM534.98 458.10h1.1v1.2h-1.1zM537.48 537.42h1.1v1.2h-1.1zM537.18 532.85h1.1v1.2h-1.1zM537.37 506.92h1.1v1.2h-1.1zM536.98 496.24h1.1v1.2h-1.1zM537.40 474.88h1.1v1.2h-1.1zM537.33 456.58h1.1v1.2h-1.1zM536.99 435.22h1.1v1.2h-1.1zM537.21 423.02h1.1v1.2h-1.1zM537.48 416.92h1.1v1.2h-1.1zM539.24 537.42h1.1v1.2h-1.1zM539.30 531.32h1.1v1.2h-1.1zM539.14 494.71h1.1v1.2h-1.1zM539.00 471.83h1.1v1.2h-1.1zM539.19 462.68h1.1v1.2h-1.1zM539.36 455.05h1.1v1.2h-1.1zM539.29 444.37h1.1v1.2h-1.1zM538.95 442.85h1.1v1.2h-1.1zM541.52 537.42h1.1v1.2h-1.1zM541.50 532.85h1.1v1.2h-1.1zM541.31 499.29h1.1v1.2h-1.1zM541.14 491.66h1.1v1.2h-1.1zM541.34 473.36h1.1v1.2h-1.1zM541.29 459.63h1.1v1.2h-1.1zM541.51 435.22h1.1v1.2h-1.1zM541.56 432.17h1.1v1.2h-1.1zM541.24 429.12h1.1v1.2h-1.1zM543.31 535.90h1.1v1.2h-1.1zM543.19 528.27h1.1v1.2h-1.1zM543.56 480.98h1.1v1.2h-1.1zM543.56 461.15h1.1v1.2h-1.1zM543.30 442.85h1.1v1.2h-1.1zM543.20 423.02h1.1v1.2h-1.1zM543.10 406.24h1.1v1.2h-1.1zM543.46 392.51h1.1v1.2h-1.1zM543.15 381.83h1.1v1.2h-1.1zM545.58 537.42h1.1v1.2h-1.1zM545.16 529.80h1.1v1.2h-1.1zM545.54 516.07h1.1v1.2h-1.1zM545.08 497.76h1.1v1.2h-1.1zM545.48 485.56h1.1v1.2h-1.1zM545.52 471.83h1.1v1.2h-1.1zM545.52 448.95h1.1v1.2h-1.1zM547.32 540.47h1.1v1.2h-1.1zM547.14 535.90h1.1v1.2h-1.1zM547.25 516.07h1.1v1.2h-1.1zM547.14 502.34h1.1v1.2h-1.1zM547.50 491.66h1.1v1.2h-1.1zM547.44 485.56h1.1v1.2h-1.1zM547.19 479.46h1.1v1.2h-1.1zM547.57 473.36h1.1v1.2h-1.1zM547.31 470.31h1.1v1.2h-1.1zM547.25 467.26h1.1v1.2h-1.1zM549.41 540.47h1.1v1.2h-1.1zM549.22 534.37h1.1v1.2h-1.1zM549.13 509.97h1.1v1.2h-1.1zM549.53 494.71h1.1v1.2h-1.1zM549.33 482.51h1.1v1.2h-1.1zM549.30 462.68h1.1v1.2h-1.1zM549.60 456.58h1.1v1.2h-1.1zM549.14 453.53h1.1v1.2h-1.1zM551.60 537.42h1.1v1.2h-1.1zM551.32 531.32h1.1v1.2h-1.1zM551.22 494.71h1.1v1.2h-1.1zM551.38 479.46h1.1v1.2h-1.1zM551.21 467.26h1.1v1.2h-1.1zM551.53 453.53h1.1v1.2h-1.1zM551.68 442.85h1.1v1.2h-1.1zM551.32 435.22h1.1v1.2h-1.1zM551.44 430.65h1.1v1.2h-1.1zM551.66 427.60h1.1v1.2h-1.1zM553.24 529.80h1.1v1.2h-1.1zM553.22 513.02h1.1v1.2h-1.1zM553.59 503.87h1.1v1.2h-1.1zM553.26 484.03h1.1v1.2h-1.1zM553.39 464.20h1.1v1.2h-1.1zM553.44 447.43h1.1v1.2h-1.1zM553.16 429.12h1.1v1.2h-1.1zM553.53 423.02h1.1v1.2h-1.1zM553.67 419.97h1.1v1.2h-1.1zM555.50 531.32h1.1v1.2h-1.1zM555.38 523.70h1.1v1.2h-1.1zM555.26 500.81h1.1v1.2h-1.1zM555.47 436.75h1.1v1.2h-1.1zM555.21 418.44h1.1v1.2h-1.1zM555.28 406.24h1.1v1.2h-1.1zM555.15 389.46h1.1v1.2h-1.1zM555.67 384.88h1.1v1.2h-1.1zM555.58 378.78h1.1v1.2h-1.1zM557.50 538.95h1.1v1.2h-1.1zM557.47 535.90h1.1v1.2h-1.1zM557.63 508.44h1.1v1.2h-1.1zM557.45 499.29h1.1v1.2h-1.1zM557.33 482.51h1.1v1.2h-1.1zM557.63 473.36h1.1v1.2h-1.1zM557.44 458.10h1.1v1.2h-1.1zM557.57 450.48h1.1v1.2h-1.1zM557.49 444.37h1.1v1.2h-1.1zM557.61 441.32h1.1v1.2h-1.1zM559.53 538.95h1.1v1.2h-1.1zM559.77 532.85h1.1v1.2h-1.1zM559.40 497.76h1.1v1.2h-1.1zM559.32 482.51h1.1v1.2h-1.1zM559.74 459.63h1.1v1.2h-1.1zM559.70 439.80h1.1v1.2h-1.1zM559.21 432.17h1.1v1.2h-1.1zM559.36 424.54h1.1v1.2h-1.1zM559.27 423.02h1.1v1.2h-1.1zM561.24 538.95h1.1v1.2h-1.1zM561.37 531.32h1.1v1.2h-1.1zM561.72 526.75h1.1v1.2h-1.1zM561.52 519.12h1.1v1.2h-1.1zM561.34 513.02h1.1v1.2h-1.1zM561.48 508.44h1.1v1.2h-1.1zM561.65 500.81h1.1v1.2h-1.1zM561.39 499.29h1.1v1.2h-1.1zM563.81 538.95h1.1v1.2h-1.1zM563.76 534.37h1.1v1.2h-1.1zM563.70 493.19h1.1v1.2h-1.1zM563.31 479.46h1.1v1.2h-1.1zM563.72 436.75h1.1v1.2h-1.1zM563.44 410.82h1.1v1.2h-1.1zM563.50 389.46h1.1v1.2h-1.1zM563.27 384.88h1.1v1.2h-1.1zM565.63 523.70h1.1v1.2h-1.1zM565.44 484.03h1.1v1.2h-1.1zM565.83 452.00h1.1v1.2h-1.1zM565.30 433.70h1.1v1.2h-1.1zM565.87 409.29h1.1v1.2h-1.1zM565.40 398.61h1.1v1.2h-1.1zM565.81 383.36h1.1v1.2h-1.1zM565.62 378.78h1.1v1.2h-1.1zM565.52 372.68h1.1v1.2h-1.1zM567.58 531.32h1.1v1.2h-1.1zM567.64 528.27h1.1v1.2h-1.1zM567.61 494.71h1.1v1.2h-1.1zM567.89 484.03h1.1v1.2h-1.1zM567.31 447.43h1.1v1.2h-1.1zM567.49 436.75h1.1v1.2h-1.1zM567.55 403.19h1.1v1.2h-1.1zM567.85 383.36h1.1v1.2h-1.1zM567.83 374.21h1.1v1.2h-1.1zM567.74 372.68h1.1v1.2h-1.1zM569.88 535.90h1.1v1.2h-1.1zM569.72 532.85h1.1v1.2h-1.1zM569.62 497.76h1.1v1.2h-1.1zM569.67 487.09h1.1v1.2h-1.1zM569.58 468.78h1.1v1.2h-1.1zM569.59 452.00h1.1v1.2h-1.1zM569.54 432.17h1.1v1.2h-1.1zM569.58 426.07h1.1v1.2h-1.1zM569.91 421.49h1.1v1.2h-1.1zM569.34 418.44h1.1v1.2h-1.1zM571.49 535.90h1.1v1.2h-1.1zM571.87 531.32h1.1v1.2h-1.1zM571.42 506.92h1.1v1.2h-1.1zM571.94 491.66h1.1v1.2h-1.1zM571.63 479.46h1.1v1.2h-1.1zM571.39 468.78h1.1v1.2h-1.1zM571.39 462.68h1.1v1.2h-1.1zM571.75 448.95h1.1v1.2h-1.1zM571.89 441.32h1.1v1.2h-1.1zM573.44 537.42h1.1v1.2h-1.1zM573.75 534.37h1.1v1.2h-1.1zM573.58 514.54h1.1v1.2h-1.1zM573.45 505.39h1.1v1.2h-1.1zM573.48 497.76h1.1v1.2h-1.1zM573.75 482.51h1.1v1.2h-1.1zM573.53 465.73h1.1v1.2h-1.1zM573.54 464.20h1.1v1.2h-1.1zM573.47 462.68h1.1v1.2h-1.1zM575.63 540.47h1.1v1.2h-1.1zM575.48 538.95h1.1v1.2h-1.1zM575.62 529.80h1.1v1.2h-1.1zM575.68 528.27h1.1v1.2h-1.1zM575.53 526.75h1.1v1.2h-1.1zM575.60 525.22h1.1v1.2h-1.1zM575.73 523.70h1.1v1.2h-1.1zM575.83 522.17h1.1v1.2h-1.1zM575.44 520.64h1.1v1.2h-1.1zM577.69 540.47h1.1v1.2h-1.1zM578.02 537.42h1.1v1.2h-1.1zM577.63 511.49h1.1v1.2h-1.1zM578.02 500.81h1.1v1.2h-1.1zM577.94 491.66h1.1v1.2h-1.1zM577.82 484.03h1.1v1.2h-1.1zM577.96 474.88h1.1v1.2h-1.1zM577.49 468.78h1.1v1.2h-1.1zM577.91 465.73h1.1v1.2h-1.1zM579.60 532.85h1.1v1.2h-1.1zM579.74 522.17h1.1v1.2h-1.1zM579.89 491.66h1.1v1.2h-1.1zM579.74 474.88h1.1v1.2h-1.1zM579.95 462.68h1.1v1.2h-1.1zM579.65 426.07h1.1v1.2h-1.1zM579.82 415.39h1.1v1.2h-1.1zM579.53 398.61h1.1v1.2h-1.1zM579.97 392.51h1.1v1.2h-1.1zM579.52 389.46h1.1v1.2h-1.1zM581.80 535.90h1.1v1.2h-1.1zM581.82 528.27h1.1v1.2h-1.1zM581.63 505.39h1.1v1.2h-1.1zM582.01 496.24h1.1v1.2h-1.1zM581.72 477.93h1.1v1.2h-1.1zM581.54 465.73h1.1v1.2h-1.1zM581.96 456.58h1.1v1.2h-1.1zM582.01 450.48h1.1v1.2h-1.1zM581.57 445.90h1.1v1.2h-1.1zM581.90 444.37h1.1v1.2h-1.1zM583.69 537.42h1.1v1.2h-1.1zM583.62 532.85h1.1v1.2h-1.1zM583.99 493.19h1.1v1.2h-1.1zM583.84 476.41h1.1v1.2h-1.1zM583.75 455.05h1.1v1.2h-1.1zM583.56 442.85h1.1v1.2h-1.1zM583.59 427.60h1.1v1.2h-1.1zM583.89 424.54h1.1v1.2h-1.1zM585.97 535.90h1.1v1.2h-1.1zM586.01 528.27h1.1v1.2h-1.1zM586.06 491.66h1.1v1.2h-1.1zM585.80 485.56h1.1v1.2h-1.1zM586.01 479.46h1.1v1.2h-1.1zM586.11 470.31h1.1v1.2h-1.1zM586.07 452.00h1.1v1.2h-1.1zM585.83 447.43h1.1v1.2h-1.1zM585.62 442.85h1.1v1.2h-1.1zM585.96 439.80h1.1v1.2h-1.1zM588.05 531.32h1.1v1.2h-1.1zM587.63 497.76h1.1v1.2h-1.1zM587.63 484.03h1.1v1.2h-1.1zM588.15 477.93h1.1v1.2h-1.1zM588.13 471.83h1.1v1.2h-1.1zM587.69 465.73h1.1v1.2h-1.1zM587.72 456.58h1.1v1.2h-1.1zM587.87 453.53h1.1v1.2h-1.1zM587.96 452.00h1.1v1.2h-1.1zM590.17 538.95h1.1v1.2h-1.1zM589.59 535.90h1.1v1.2h-1.1zM589.79 525.22h1.1v1.2h-1.1zM589.65 516.07h1.1v1.2h-1.1zM589.79 506.92h1.1v1.2h-1.1zM589.77 491.66h1.1v1.2h-1.1zM590.16 487.09h1.1v1.2h-1.1zM590.08 485.56h1.1v1.2h-1.1zM592.10 540.47h1.1v1.2h-1.1zM591.86 535.90h1.1v1.2h-1.1zM591.83 529.80h1.1v1.2h-1.1zM591.75 528.27h1.1v1.2h-1.1zM592.00 526.75h1.1v1.2h-1.1zM592.16 525.22h1.1v1.2h-1.1zM593.75 540.47h1.1v1.2h-1.1zM593.65 537.42h1.1v1.2h-1.1zM593.98 535.90h1.1v1.2h-1.1zM594.19 534.37h1.1v1.2h-1.1zM593.75 531.32h1.1v1.2h-1.1zM593.99 528.27h1.1v1.2h-1.1zM593.64 526.75h1.1v1.2h-1.1zM594.06 525.22h1.1v1.2h-1.1zM596.25 540.47h1.1v1.2h-1.1zM595.85 537.42h1.1v1.2h-1.1zM595.76 511.49h1.1v1.2h-1.1zM596.08 496.24h1.1v1.2h-1.1zM596.14 480.98h1.1v1.2h-1.1zM595.72 474.88h1.1v1.2h-1.1zM595.93 470.31h1.1v1.2h-1.1zM596.11 456.58h1.1v1.2h-1.1zM595.88 455.05h1.1v1.2h-1.1zM598.25 532.85h1.1v1.2h-1.1zM598.08 500.81h1.1v1.2h-1.1zM597.81 487.09h1.1v1.2h-1.1zM598.28 471.83h1.1v1.2h-1.1zM597.87 453.53h1.1v1.2h-1.1zM598.13 436.75h1.1v1.2h-1.1zM598.24 429.12h1.1v1.2h-1.1zM597.69 426.07h1.1v1.2h-1.1zM597.71 424.54h1.1v1.2h-1.1zM600.20 537.42h1.1v1.2h-1.1zM600.18 534.37h1.1v1.2h-1.1zM600.03 503.87h1.1v1.2h-1.1zM599.97 484.03h1.1v1.2h-1.1zM600.13 415.39h1.1v1.2h-1.1zM599.73 409.29h1.1v1.2h-1.1zM600.12 406.24h1.1v1.2h-1.1zM601.79 537.42h1.1v1.2h-1.1zM602.23 532.85h1.1v1.2h-1.1zM601.88 514.54h1.1v1.2h-1.1zM601.81 493.19h1.1v1.2h-1.1zM601.74 476.41h1.1v1.2h-1.1zM602.20 458.10h1.1v1.2h-1.1zM602.09 450.48h1.1v1.2h-1.1zM602.29 444.37h1.1v1.2h-1.1zM604.27 540.47h1.1v1.2h-1.1zM604.11 532.85h1.1v1.2h-1.1zM604.10 531.32h1.1v1.2h-1.1zM603.82 528.27h1.1v1.2h-1.1zM603.84 525.22h1.1v1.2h-1.1zM604.19 520.64h1.1v1.2h-1.1zM604.13 519.12h1.1v1.2h-1.1zM604.20 517.59h1.1v1.2h-1.1zM606.26 537.42h1.1v1.2h-1.1zM605.79 531.32h1.1v1.2h-1.1zM605.86 502.34h1.1v1.2h-1.1zM605.92 490.14h1.1v1.2h-1.1zM605.87 480.98h1.1v1.2h-1.1zM606.08 473.36h1.1v1.2h-1.1zM605.94 462.68h1.1v1.2h-1.1zM605.91 458.10h1.1v1.2h-1.1zM605.94 455.05h1.1v1.2h-1.1zM608.18 537.42h1.1v1.2h-1.1zM608.19 532.85h1.1v1.2h-1.1zM608.04 505.39h1.1v1.2h-1.1zM607.82 490.14h1.1v1.2h-1.1zM608.33 476.41h1.1v1.2h-1.1zM608.28 444.37h1.1v1.2h-1.1zM608.02 430.65h1.1v1.2h-1.1zM608.33 424.54h1.1v1.2h-1.1zM608.31 423.02h1.1v1.2h-1.1zM609.93 537.42h1.1v1.2h-1.1zM610.05 526.75h1.1v1.2h-1.1zM610.23 505.39h1.1v1.2h-1.1zM609.97 487.09h1.1v1.2h-1.1zM610.16 464.20h1.1v1.2h-1.1zM609.90 453.53h1.1v1.2h-1.1zM610.20 439.80h1.1v1.2h-1.1zM610.30 433.70h1.1v1.2h-1.1zM610.19 426.07h1.1v1.2h-1.1zM610.04 424.54h1.1v1.2h-1.1zM612.12 537.42h1.1v1.2h-1.1zM612.30 534.37h1.1v1.2h-1.1zM612.02 488.61h1.1v1.2h-1.1zM612.16 471.83h1.1v1.2h-1.1zM612.08 448.95h1.1v1.2h-1.1zM612.15 444.37h1.1v1.2h-1.1zM612.05 442.85h1.1v1.2h-1.1zM614.01 538.95h1.1v1.2h-1.1zM614.13 532.85h1.1v1.2h-1.1zM614.47 520.64h1.1v1.2h-1.1zM614.24 511.49h1.1v1.2h-1.1zM614.25 484.03h1.1v1.2h-1.1zM614.09 468.78h1.1v1.2h-1.1zM614.47 458.10h1.1v1.2h-1.1zM614.24 453.53h1.1v1.2h-1.1zM614.34 452.00h1.1v1.2h-1.1zM616.13 540.47h1.1v1.2h-1.1zM616.20 537.42h1.1v1.2h-1.1zM616.20 534.37h1.1v1.2h-1.1zM616.01 531.32h1.1v1.2h-1.1zM615.95 529.80h1.1v1.2h-1.1zM616.44 526.75h1.1v1.2h-1.1zM618.22 537.42h1.1v1.2h-1.1zM618.03 529.80h1.1v1.2h-1.1zM618.26 514.54h1.1v1.2h-1.1zM618.44 500.81h1.1v1.2h-1.1zM618.18 452.00h1.1v1.2h-1.1zM618.10 445.90h1.1v1.2h-1.1zM618.49 444.37h1.1v1.2h-1.1zM620.00 540.47h1.1v1.2h-1.1zM620.01 535.90h1.1v1.2h-1.1zM620.55 503.87h1.1v1.2h-1.1zM620.40 487.09h1.1v1.2h-1.1zM620.28 474.88h1.1v1.2h-1.1zM620.03 468.78h1.1v1.2h-1.1zM620.24 458.10h1.1v1.2h-1.1zM620.47 450.48h1.1v1.2h-1.1zM620.04 444.37h1.1v1.2h-1.1zM622.58 540.47h1.1v1.2h-1.1zM622.15 531.32h1.1v1.2h-1.1zM622.06 523.70h1.1v1.2h-1.1zM622.53 511.49h1.1v1.2h-1.1zM622.36 500.81h1.1v1.2h-1.1zM622.36 491.66h1.1v1.2h-1.1zM622.46 488.61h1.1v1.2h-1.1zM622.06 485.56h1.1v1.2h-1.1zM622.39 484.03h1.1v1.2h-1.1zM624.03 540.47h1.1v1.2h-1.1zM624.21 537.42h1.1v1.2h-1.1zM624.51 520.64h1.1v1.2h-1.1zM624.40 503.87h1.1v1.2h-1.1zM624.17 490.14h1.1v1.2h-1.1zM624.34 479.46h1.1v1.2h-1.1zM624.48 459.63h1.1v1.2h-1.1zM624.23 450.48h1.1v1.2h-1.1zM624.52 447.43h1.1v1.2h-1.1zM626.60 534.37h1.1v1.2h-1.1zM626.60 529.80h1.1v1.2h-1.1zM626.36 516.07h1.1v1.2h-1.1zM626.32 496.24h1.1v1.2h-1.1zM626.05 464.20h1.1v1.2h-1.1zM626.16 444.37h1.1v1.2h-1.1zM626.35 435.22h1.1v1.2h-1.1zM626.60 429.12h1.1v1.2h-1.1zM626.10 426.07h1.1v1.2h-1.1zM628.56 540.47h1.1v1.2h-1.1zM628.16 534.37h1.1v1.2h-1.1zM628.49 509.97h1.1v1.2h-1.1zM628.11 494.71h1.1v1.2h-1.1zM628.64 480.98h1.1v1.2h-1.1zM628.60 476.41h1.1v1.2h-1.1zM628.42 464.20h1.1v1.2h-1.1zM628.27 452.00h1.1v1.2h-1.1zM628.35 447.43h1.1v1.2h-1.1zM628.46 445.90h1.1v1.2h-1.1zM630.53 538.95h1.1v1.2h-1.1zM630.19 534.37h1.1v1.2h-1.1zM630.49 514.54h1.1v1.2h-1.1zM630.26 509.97h1.1v1.2h-1.1zM630.56 488.61h1.1v1.2h-1.1zM630.15 476.41h1.1v1.2h-1.1zM630.62 471.83h1.1v1.2h-1.1zM630.13 470.31h1.1v1.2h-1.1zM630.47 468.78h1.1v1.2h-1.1zM632.64 538.95h1.1v1.2h-1.1zM632.60 534.37h1.1v1.2h-1.1zM632.49 514.54h1.1v1.2h-1.1zM632.28 506.92h1.1v1.2h-1.1zM632.45 491.66h1.1v1.2h-1.1zM632.63 485.56h1.1v1.2h-1.1zM632.37 476.41h1.1v1.2h-1.1zM632.17 467.26h1.1v1.2h-1.1zM632.53 462.68h1.1v1.2h-1.1zM632.45 461.15h1.1v1.2h-1.1zM634.37 537.42h1.1v1.2h-1.1zM634.71 535.90h1.1v1.2h-1.1zM634.65 519.12h1.1v1.2h-1.1zM634.19 505.39h1.1v1.2h-1.1zM634.38 480.98h1.1v1.2h-1.1zM634.51 473.36h1.1v1.2h-1.1zM634.67 467.26h1.1v1.2h-1.1zM634.34 462.68h1.1v1.2h-1.1zM634.61 461.15h1.1v1.2h-1.1zM636.67 535.90h1.1v1.2h-1.1zM636.55 529.80h1.1v1.2h-1.1zM636.28 517.59h1.1v1.2h-1.1zM636.37 509.97h1.1v1.2h-1.1zM636.64 487.09h1.1v1.2h-1.1zM636.77 474.88h1.1v1.2h-1.1zM636.21 461.15h1.1v1.2h-1.1zM636.22 445.90h1.1v1.2h-1.1zM636.41 439.80h1.1v1.2h-1.1zM638.36 534.37h1.1v1.2h-1.1zM638.65 528.27h1.1v1.2h-1.1zM638.45 496.24h1.1v1.2h-1.1zM638.51 482.51h1.1v1.2h-1.1zM638.77 465.73h1.1v1.2h-1.1zM638.28 442.85h1.1v1.2h-1.1zM638.41 430.65h1.1v1.2h-1.1zM638.22 421.49h1.1v1.2h-1.1zM638.42 415.39h1.1v1.2h-1.1zM640.77 538.95h1.1v1.2h-1.1zM640.37 535.90h1.1v1.2h-1.1zM640.31 522.17h1.1v1.2h-1.1zM640.57 511.49h1.1v1.2h-1.1zM640.71 502.34h1.1v1.2h-1.1zM640.48 490.14h1.1v1.2h-1.1zM640.62 480.98h1.1v1.2h-1.1zM640.28 471.83h1.1v1.2h-1.1zM640.79 468.78h1.1v1.2h-1.1zM640.61 467.26h1.1v1.2h-1.1zM642.62 540.47h1.1v1.2h-1.1zM642.51 535.90h1.1v1.2h-1.1zM642.58 511.49h1.1v1.2h-1.1zM642.32 503.87h1.1v1.2h-1.1zM642.60 494.71h1.1v1.2h-1.1zM642.43 484.03h1.1v1.2h-1.1zM642.42 476.41h1.1v1.2h-1.1zM642.38 471.83h1.1v1.2h-1.1zM642.58 470.31h1.1v1.2h-1.1zM642.30 468.78h1.1v1.2h-1.1zM644.81 538.95h1.1v1.2h-1.1zM644.48 535.90h1.1v1.2h-1.1zM644.39 511.49h1.1v1.2h-1.1zM644.50 499.29h1.1v1.2h-1.1zM644.61 491.66h1.1v1.2h-1.1zM644.30 477.93h1.1v1.2h-1.1zM644.37 473.36h1.1v1.2h-1.1zM644.29 468.78h1.1v1.2h-1.1zM646.72 540.47h1.1v1.2h-1.1zM646.73 532.85h1.1v1.2h-1.1zM646.71 520.64h1.1v1.2h-1.1zM646.84 516.07h1.1v1.2h-1.1zM646.76 511.49h1.1v1.2h-1.1zM646.46 509.97h1.1v1.2h-1.1zM648.41 538.95h1.1v1.2h-1.1zM648.73 534.37h1.1v1.2h-1.1zM648.69 523.70h1.1v1.2h-1.1zM648.90 513.02h1.1v1.2h-1.1zM648.65 502.34h1.1v1.2h-1.1zM648.57 491.66h1.1v1.2h-1.1zM648.39 480.98h1.1v1.2h-1.1zM648.88 476.41h1.1v1.2h-1.1zM648.65 473.36h1.1v1.2h-1.1zM648.39 471.83h1.1v1.2h-1.1zM650.57 538.95h1.1v1.2h-1.1zM650.65 532.85h1.1v1.2h-1.1zM650.93 496.24h1.1v1.2h-1.1zM650.68 474.88h1.1v1.2h-1.1zM650.39 447.43h1.1v1.2h-1.1zM650.44 427.60h1.1v1.2h-1.1zM650.66 418.44h1.1v1.2h-1.1zM650.52 410.82h1.1v1.2h-1.1zM650.46 409.29h1.1v1.2h-1.1zM652.55 537.42h1.1v1.2h-1.1zM652.90 526.75h1.1v1.2h-1.1zM652.83 494.71h1.1v1.2h-1.1zM652.55 480.98h1.1v1.2h-1.1zM652.60 458.10h1.1v1.2h-1.1zM652.70 447.43h1.1v1.2h-1.1zM652.48 427.60h1.1v1.2h-1.1zM652.48 412.34h1.1v1.2h-1.1zM652.89 409.29h1.1v1.2h-1.1zM654.74 523.70h1.1v1.2h-1.1zM654.51 506.92h1.1v1.2h-1.1zM654.54 474.88h1.1v1.2h-1.1zM654.77 461.15h1.1v1.2h-1.1zM654.87 452.00h1.1v1.2h-1.1zM654.90 424.54h1.1v1.2h-1.1zM654.91 416.92h1.1v1.2h-1.1zM654.78 407.77h1.1v1.2h-1.1zM654.82 406.24h1.1v1.2h-1.1zM656.97 538.95h1.1v1.2h-1.1zM656.96 532.85h1.1v1.2h-1.1zM656.59 508.44h1.1v1.2h-1.1zM656.44 502.34h1.1v1.2h-1.1zM656.50 474.88h1.1v1.2h-1.1zM656.73 468.78h1.1v1.2h-1.1zM656.60 459.63h1.1v1.2h-1.1zM656.47 452.00h1.1v1.2h-1.1zM658.76 537.42h1.1v1.2h-1.1zM658.61 531.32h1.1v1.2h-1.1zM658.96 517.59h1.1v1.2h-1.1zM658.87 503.87h1.1v1.2h-1.1zM658.80 487.09h1.1v1.2h-1.1zM658.46 471.83h1.1v1.2h-1.1zM659.04 467.26h1.1v1.2h-1.1zM658.74 458.10h1.1v1.2h-1.1zM658.61 455.05h1.1v1.2h-1.1zM658.48 452.00h1.1v1.2h-1.1zM660.80 540.47h1.1v1.2h-1.1zM660.98 538.95h1.1v1.2h-1.1zM660.83 529.80h1.1v1.2h-1.1zM660.69 526.75h1.1v1.2h-1.1zM660.68 520.64h1.1v1.2h-1.1zM660.82 517.59h1.1v1.2h-1.1zM660.63 514.54h1.1v1.2h-1.1zM660.49 511.49h1.1v1.2h-1.1zM660.75 509.97h1.1v1.2h-1.1zM662.81 532.85h1.1v1.2h-1.1zM662.57 520.64h1.1v1.2h-1.1zM662.98 503.87h1.1v1.2h-1.1zM662.91 485.56h1.1v1.2h-1.1zM662.79 476.41h1.1v1.2h-1.1zM662.87 464.20h1.1v1.2h-1.1zM662.78 452.00h1.1v1.2h-1.1zM662.86 447.43h1.1v1.2h-1.1zM662.68 445.90h1.1v1.2h-1.1zM664.73 538.95h1.1v1.2h-1.1zM664.61 535.90h1.1v1.2h-1.1zM665.01 522.17h1.1v1.2h-1.1zM664.56 502.34h1.1v1.2h-1.1zM665.04 479.46h1.1v1.2h-1.1zM664.71 471.83h1.1v1.2h-1.1zM664.58 459.63h1.1v1.2h-1.1zM665.11 445.90h1.1v1.2h-1.1zM665.08 438.27h1.1v1.2h-1.1zM664.56 435.22h1.1v1.2h-1.1zM666.87 540.47h1.1v1.2h-1.1zM666.56 532.85h1.1v1.2h-1.1zM667.08 516.07h1.1v1.2h-1.1zM666.68 497.76h1.1v1.2h-1.1zM666.91 477.93h1.1v1.2h-1.1zM666.83 467.26h1.1v1.2h-1.1zM666.97 452.00h1.1v1.2h-1.1zM666.87 445.90h1.1v1.2h-1.1zM666.97 438.27h1.1v1.2h-1.1zM666.71 435.22h1.1v1.2h-1.1zM669.02 538.95h1.1v1.2h-1.1zM669.13 535.90h1.1v1.2h-1.1zM668.69 516.07h1.1v1.2h-1.1zM668.59 508.44h1.1v1.2h-1.1zM668.79 490.14h1.1v1.2h-1.1zM668.87 476.41h1.1v1.2h-1.1zM668.98 467.26h1.1v1.2h-1.1zM668.73 458.10h1.1v1.2h-1.1zM668.78 452.00h1.1v1.2h-1.1zM669.09 450.48h1.1v1.2h-1.1zM670.75 537.42h1.1v1.2h-1.1zM670.94 529.80h1.1v1.2h-1.1zM670.72 517.59h1.1v1.2h-1.1zM671.16 509.97h1.1v1.2h-1.1zM670.78 494.71h1.1v1.2h-1.1zM670.69 465.73h1.1v1.2h-1.1zM671.09 453.53h1.1v1.2h-1.1zM671.08 445.90h1.1v1.2h-1.1zM671.09 444.37h1.1v1.2h-1.1zM673.02 538.95h1.1v1.2h-1.1zM672.64 535.90h1.1v1.2h-1.1zM673.17 526.75h1.1v1.2h-1.1zM672.95 511.49h1.1v1.2h-1.1zM673.19 499.29h1.1v1.2h-1.1zM672.95 479.46h1.1v1.2h-1.1zM672.93 470.31h1.1v1.2h-1.1zM672.96 461.15h1.1v1.2h-1.1zM672.84 456.58h1.1v1.2h-1.1zM672.77 452.00h1.1v1.2h-1.1zM675.00 540.47h1.1v1.2h-1.1zM674.74 538.95h1.1v1.2h-1.1zM675.02 528.27h1.1v1.2h-1.1zM674.72 523.70h1.1v1.2h-1.1zM675.10 520.64h1.1v1.2h-1.1zM674.81 516.07h1.1v1.2h-1.1zM675.12 511.49h1.1v1.2h-1.1zM675.21 509.97h1.1v1.2h-1.1zM677.25 540.47h1.1v1.2h-1.1zM677.26 531.32h1.1v1.2h-1.1zM677.08 522.17h1.1v1.2h-1.1zM676.94 506.92h1.1v1.2h-1.1zM676.77 493.19h1.1v1.2h-1.1zM676.76 485.56h1.1v1.2h-1.1zM677.00 470.31h1.1v1.2h-1.1zM676.71 453.53h1.1v1.2h-1.1zM677.09 441.32h1.1v1.2h-1.1zM676.74 439.80h1.1v1.2h-1.1zM678.97 540.47h1.1v1.2h-1.1zM679.02 522.17h1.1v1.2h-1.1zM679.20 519.12h1.1v1.2h-1.1zM678.94 516.07h1.1v1.2h-1.1zM678.83 511.49h1.1v1.2h-1.1zM678.72 503.87h1.1v1.2h-1.1zM678.82 494.71h1.1v1.2h-1.1zM679.16 490.14h1.1v1.2h-1.1zM681.32 538.95h1.1v1.2h-1.1zM681.23 528.27h1.1v1.2h-1.1zM681.00 491.66h1.1v1.2h-1.1zM681.02 465.73h1.1v1.2h-1.1zM680.78 442.85h1.1v1.2h-1.1zM680.84 415.39h1.1v1.2h-1.1zM680.96 390.99h1.1v1.2h-1.1zM681.08 381.83h1.1v1.2h-1.1zM681.28 377.26h1.1v1.2h-1.1zM683.22 534.37h1.1v1.2h-1.1zM683.18 503.87h1.1v1.2h-1.1zM682.84 482.51h1.1v1.2h-1.1zM682.80 467.26h1.1v1.2h-1.1zM683.35 433.70h1.1v1.2h-1.1zM682.85 423.02h1.1v1.2h-1.1zM682.80 401.66h1.1v1.2h-1.1zM682.90 390.99h1.1v1.2h-1.1zM683.15 387.93h1.1v1.2h-1.1zM685.08 529.80h1.1v1.2h-1.1zM685.36 523.70h1.1v1.2h-1.1zM685.09 444.37h1.1v1.2h-1.1zM685.24 418.44h1.1v1.2h-1.1zM684.89 389.46h1.1v1.2h-1.1zM684.82 375.73h1.1v1.2h-1.1zM685.08 355.90h1.1v1.2h-1.1zM684.95 334.55h1.1v1.2h-1.1zM686.86 537.42h1.1v1.2h-1.1zM687.10 500.81h1.1v1.2h-1.1zM686.97 470.31h1.1v1.2h-1.1zM687.19 445.90h1.1v1.2h-1.1zM687.13 439.80h1.1v1.2h-1.1zM687.13 430.65h1.1v1.2h-1.1zM687.22 426.07h1.1v1.2h-1.1zM689.29 537.42h1.1v1.2h-1.1zM688.97 528.27h1.1v1.2h-1.1zM689.29 525.22h1.1v1.2h-1.1zM688.92 517.59h1.1v1.2h-1.1zM689.00 511.49h1.1v1.2h-1.1zM689.37 500.81h1.1v1.2h-1.1zM689.29 494.71h1.1v1.2h-1.1zM689.10 490.14h1.1v1.2h-1.1zM689.10 488.61h1.1v1.2h-1.1zM691.18 537.42h1.1v1.2h-1.1zM690.90 526.75h1.1v1.2h-1.1zM691.30 487.09h1.1v1.2h-1.1zM691.10 474.88h1.1v1.2h-1.1zM690.88 452.00h1.1v1.2h-1.1zM690.88 438.27h1.1v1.2h-1.1zM691.18 430.65h1.1v1.2h-1.1zM691.18 410.82h1.1v1.2h-1.1zM690.89 397.09h1.1v1.2h-1.1zM693.22 532.85h1.1v1.2h-1.1zM693.32 528.27h1.1v1.2h-1.1zM693.26 491.66h1.1v1.2h-1.1zM693.12 473.36h1.1v1.2h-1.1zM693.43 452.00h1.1v1.2h-1.1zM693.21 419.97h1.1v1.2h-1.1zM693.40 392.51h1.1v1.2h-1.1zM693.06 365.05h1.1v1.2h-1.1zM693.28 351.33h1.1v1.2h-1.1zM693.48 345.22h1.1v1.2h-1.1zM695.29 532.85h1.1v1.2h-1.1zM695.31 516.07h1.1v1.2h-1.1zM695.37 476.41h1.1v1.2h-1.1zM695.43 439.80h1.1v1.2h-1.1zM695.31 403.19h1.1v1.2h-1.1zM695.41 386.41h1.1v1.2h-1.1zM695.19 343.70h1.1v1.2h-1.1zM695.14 325.39h1.1v1.2h-1.1zM695.33 319.29h1.1v1.2h-1.1zM697.02 532.85h1.1v1.2h-1.1zM697.16 526.75h1.1v1.2h-1.1zM697.52 496.24h1.1v1.2h-1.1zM697.33 435.22h1.1v1.2h-1.1zM697.31 410.82h1.1v1.2h-1.1zM697.47 375.73h1.1v1.2h-1.1zM697.04 354.38h1.1v1.2h-1.1zM697.40 319.29h1.1v1.2h-1.1zM699.56 537.42h1.1v1.2h-1.1zM699.48 522.17h1.1v1.2h-1.1zM699.22 503.87h1.1v1.2h-1.1zM699.55 468.78h1.1v1.2h-1.1zM699.39 429.12h1.1v1.2h-1.1zM699.52 401.66h1.1v1.2h-1.1zM699.20 352.85h1.1v1.2h-1.1zM699.29 325.39h1.1v1.2h-1.1zM698.97 317.77h1.1v1.2h-1.1zM701.46 532.85h1.1v1.2h-1.1zM701.40 526.75h1.1v1.2h-1.1zM701.53 484.03h1.1v1.2h-1.1zM701.22 461.15h1.1v1.2h-1.1zM701.26 430.65h1.1v1.2h-1.1zM701.02 403.19h1.1v1.2h-1.1zM701.55 381.83h1.1v1.2h-1.1zM701.53 371.16h1.1v1.2h-1.1zM701.59 369.63h1.1v1.2h-1.1zM703.38 538.95h1.1v1.2h-1.1zM703.46 532.85h1.1v1.2h-1.1zM703.43 513.02h1.1v1.2h-1.1zM703.49 505.39h1.1v1.2h-1.1zM703.41 500.81h1.1v1.2h-1.1zM703.02 467.26h1.1v1.2h-1.1zM703.34 456.58h1.1v1.2h-1.1zM703.52 452.00h1.1v1.2h-1.1zM703.25 450.48h1.1v1.2h-1.1zM705.20 531.32h1.1v1.2h-1.1zM705.43 522.17h1.1v1.2h-1.1zM705.43 476.41h1.1v1.2h-1.1zM705.05 445.90h1.1v1.2h-1.1zM705.39 426.07h1.1v1.2h-1.1zM705.37 400.14h1.1v1.2h-1.1zM705.20 377.26h1.1v1.2h-1.1zM705.26 360.48h1.1v1.2h-1.1zM705.50 348.27h1.1v1.2h-1.1zM705.07 340.65h1.1v1.2h-1.1zM707.22 526.75h1.1v1.2h-1.1zM707.14 508.44h1.1v1.2h-1.1zM707.39 447.43h1.1v1.2h-1.1zM707.25 365.05h1.1v1.2h-1.1zM707.46 300.99h1.1v1.2h-1.1zM707.47 282.68h1.1v1.2h-1.1zM707.10 229.29h1.1v1.2h-1.1zM707.51 204.89h1.1v1.2h-1.1zM707.10 198.79h1.1v1.2h-1.1zM709.51 526.75h1.1v1.2h-1.1zM709.36 421.49h1.1v1.2h-1.1zM709.22 374.21h1.1v1.2h-1.1zM709.57 349.80h1.1v1.2h-1.1zM709.38 305.56h1.1v1.2h-1.1zM709.44 282.68h1.1v1.2h-1.1zM709.17 262.85h1.1v1.2h-1.1zM709.21 243.02h1.1v1.2h-1.1zM709.50 229.29h1.1v1.2h-1.1zM711.60 534.37h1.1v1.2h-1.1zM711.57 523.70h1.1v1.2h-1.1zM711.27 480.98h1.1v1.2h-1.1zM711.15 455.05h1.1v1.2h-1.1zM711.42 339.12h1.1v1.2h-1.1zM711.17 281.16h1.1v1.2h-1.1zM711.59 252.17h1.1v1.2h-1.1zM711.18 230.82h1.1v1.2h-1.1zM711.41 226.24h1.1v1.2h-1.1zM713.59 529.80h1.1v1.2h-1.1zM713.52 517.59h1.1v1.2h-1.1zM713.35 406.24h1.1v1.2h-1.1zM713.53 383.36h1.1v1.2h-1.1zM713.17 346.75h1.1v1.2h-1.1zM713.25 308.61h1.1v1.2h-1.1zM713.42 282.68h1.1v1.2h-1.1zM713.16 258.28h1.1v1.2h-1.1zM713.30 250.65h1.1v1.2h-1.1zM715.68 535.90h1.1v1.2h-1.1zM715.48 528.27h1.1v1.2h-1.1zM715.40 496.24h1.1v1.2h-1.1zM715.19 465.73h1.1v1.2h-1.1zM715.26 444.37h1.1v1.2h-1.1zM715.39 377.26h1.1v1.2h-1.1zM715.44 302.51h1.1v1.2h-1.1zM715.39 296.41h1.1v1.2h-1.1zM717.21 538.95h1.1v1.2h-1.1zM717.66 529.80h1.1v1.2h-1.1zM717.26 513.02h1.1v1.2h-1.1zM717.53 494.71h1.1v1.2h-1.1zM717.71 485.56h1.1v1.2h-1.1zM717.80 479.46h1.1v1.2h-1.1zM717.46 458.10h1.1v1.2h-1.1zM717.46 452.00h1.1v1.2h-1.1zM717.72 441.32h1.1v1.2h-1.1zM717.40 438.27h1.1v1.2h-1.1zM719.76 540.47h1.1v1.2h-1.1zM719.57 534.37h1.1v1.2h-1.1zM719.68 505.39h1.1v1.2h-1.1zM719.25 491.66h1.1v1.2h-1.1zM719.62 476.41h1.1v1.2h-1.1zM719.61 462.68h1.1v1.2h-1.1zM719.46 450.48h1.1v1.2h-1.1zM719.73 447.43h1.1v1.2h-1.1zM719.49 444.37h1.1v1.2h-1.1zM721.30 511.49h1.1v1.2h-1.1zM721.67 445.90h1.1v1.2h-1.1zM721.35 416.92h1.1v1.2h-1.1zM721.34 403.19h1.1v1.2h-1.1zM721.31 352.85h1.1v1.2h-1.1zM721.38 337.60h1.1v1.2h-1.1zM721.63 304.04h1.1v1.2h-1.1zM721.37 300.99h1.1v1.2h-1.1zM723.33 526.75h1.1v1.2h-1.1zM723.73 505.39h1.1v1.2h-1.1zM723.47 427.60h1.1v1.2h-1.1zM723.47 401.66h1.1v1.2h-1.1zM723.73 357.43h1.1v1.2h-1.1zM723.79 282.68h1.1v1.2h-1.1zM723.30 192.68h1.1v1.2h-1.1zM723.68 171.33h1.1v1.2h-1.1zM723.82 157.60h1.1v1.2h-1.1zM725.58 537.42h1.1v1.2h-1.1zM725.81 528.27h1.1v1.2h-1.1zM725.66 429.12h1.1v1.2h-1.1zM725.76 395.56h1.1v1.2h-1.1zM725.55 351.33h1.1v1.2h-1.1zM725.76 297.94h1.1v1.2h-1.1zM725.64 272.00h1.1v1.2h-1.1zM725.87 241.50h1.1v1.2h-1.1zM725.72 221.67h1.1v1.2h-1.1zM725.46 209.46h1.1v1.2h-1.1zM727.57 529.80h1.1v1.2h-1.1zM727.66 519.12h1.1v1.2h-1.1zM727.38 447.43h1.1v1.2h-1.1zM727.34 416.92h1.1v1.2h-1.1zM727.84 368.10h1.1v1.2h-1.1zM727.69 314.72h1.1v1.2h-1.1zM727.73 265.90h1.1v1.2h-1.1zM727.83 241.50h1.1v1.2h-1.1zM729.84 517.59h1.1v1.2h-1.1zM729.49 467.26h1.1v1.2h-1.1zM729.61 450.48h1.1v1.2h-1.1zM729.39 430.65h1.1v1.2h-1.1zM729.53 400.14h1.1v1.2h-1.1zM729.80 358.95h1.1v1.2h-1.1zM729.60 346.75h1.1v1.2h-1.1zM729.78 323.87h1.1v1.2h-1.1zM729.57 316.24h1.1v1.2h-1.1zM731.91 537.42h1.1v1.2h-1.1zM731.42 531.32h1.1v1.2h-1.1zM731.91 506.92h1.1v1.2h-1.1zM731.83 487.09h1.1v1.2h-1.1zM731.57 470.31h1.1v1.2h-1.1zM731.72 461.15h1.1v1.2h-1.1zM731.59 427.60h1.1v1.2h-1.1zM731.92 421.49h1.1v1.2h-1.1zM731.85 418.44h1.1v1.2h-1.1zM733.94 537.42h1.1v1.2h-1.1zM733.73 520.64h1.1v1.2h-1.1zM733.65 445.90h1.1v1.2h-1.1zM733.44 421.49h1.1v1.2h-1.1zM733.50 398.61h1.1v1.2h-1.1zM733.57 371.16h1.1v1.2h-1.1zM733.69 334.55h1.1v1.2h-1.1zM733.51 311.67h1.1v1.2h-1.1zM733.78 302.51h1.1v1.2h-1.1zM735.67 535.90h1.1v1.2h-1.1zM735.46 502.34h1.1v1.2h-1.1zM735.84 465.73h1.1v1.2h-1.1zM735.68 436.75h1.1v1.2h-1.1zM735.59 403.19h1.1v1.2h-1.1zM735.64 358.95h1.1v1.2h-1.1zM735.67 305.56h1.1v1.2h-1.1zM735.99 241.50h1.1v1.2h-1.1zM736.03 227.77h1.1v1.2h-1.1zM735.71 217.09h1.1v1.2h-1.1zM737.85 532.85h1.1v1.2h-1.1zM737.92 508.44h1.1v1.2h-1.1zM737.65 462.68h1.1v1.2h-1.1zM737.86 398.61h1.1v1.2h-1.1zM737.88 354.38h1.1v1.2h-1.1zM738.03 323.87h1.1v1.2h-1.1zM737.72 255.23h1.1v1.2h-1.1zM737.48 243.02h1.1v1.2h-1.1zM740.02 526.75h1.1v1.2h-1.1zM739.68 503.87h1.1v1.2h-1.1zM739.83 444.37h1.1v1.2h-1.1zM739.87 412.34h1.1v1.2h-1.1zM740.07 363.53h1.1v1.2h-1.1zM739.66 345.22h1.1v1.2h-1.1zM739.66 308.61h1.1v1.2h-1.1zM739.50 285.73h1.1v1.2h-1.1zM739.65 261.33h1.1v1.2h-1.1zM739.97 255.23h1.1v1.2h-1.1zM741.92 529.80h1.1v1.2h-1.1zM741.71 523.70h1.1v1.2h-1.1zM741.93 470.31h1.1v1.2h-1.1zM741.87 429.12h1.1v1.2h-1.1zM741.94 392.51h1.1v1.2h-1.1zM742.09 351.33h1.1v1.2h-1.1zM742.03 317.77h1.1v1.2h-1.1zM741.94 276.58h1.1v1.2h-1.1zM741.93 258.28h1.1v1.2h-1.1zM741.75 252.17h1.1v1.2h-1.1zM743.96 528.27h1.1v1.2h-1.1zM744.09 514.54h1.1v1.2h-1.1zM743.93 470.31h1.1v1.2h-1.1zM743.84 435.22h1.1v1.2h-1.1zM743.57 416.92h1.1v1.2h-1.1zM743.93 363.53h1.1v1.2h-1.1zM743.84 334.55h1.1v1.2h-1.1zM744.09 293.36h1.1v1.2h-1.1zM743.62 282.68h1.1v1.2h-1.1zM746.12 537.42h1.1v1.2h-1.1zM745.58 503.87h1.1v1.2h-1.1zM746.00 494.71h1.1v1.2h-1.1zM746.14 488.61h1.1v1.2h-1.1zM745.72 464.20h1.1v1.2h-1.1zM745.60 455.05h1.1v1.2h-1.1zM746.01 445.90h1.1v1.2h-1.1zM745.67 444.37h1.1v1.2h-1.1zM748.02 532.85h1.1v1.2h-1.1zM748.00 513.02h1.1v1.2h-1.1zM747.67 464.20h1.1v1.2h-1.1zM747.78 450.48h1.1v1.2h-1.1zM748.05 424.54h1.1v1.2h-1.1zM747.87 403.19h1.1v1.2h-1.1zM747.63 357.43h1.1v1.2h-1.1zM748.02 334.55h1.1v1.2h-1.1zM748.11 319.29h1.1v1.2h-1.1zM748.17 311.67h1.1v1.2h-1.1zM750.08 508.44h1.1v1.2h-1.1zM750.04 459.63h1.1v1.2h-1.1zM749.97 426.07h1.1v1.2h-1.1zM749.63 372.68h1.1v1.2h-1.1zM749.93 328.44h1.1v1.2h-1.1zM749.80 268.95h1.1v1.2h-1.1zM750.06 209.46h1.1v1.2h-1.1zM749.65 178.96h1.1v1.2h-1.1zM749.99 169.80h1.1v1.2h-1.1zM752.05 531.32h1.1v1.2h-1.1zM752.22 508.44h1.1v1.2h-1.1zM752.19 404.71h1.1v1.2h-1.1zM751.75 336.07h1.1v1.2h-1.1zM751.93 284.21h1.1v1.2h-1.1zM751.78 241.50h1.1v1.2h-1.1zM751.65 226.24h1.1v1.2h-1.1zM751.88 217.09h1.1v1.2h-1.1z"/>
<!--/BARS-->
</svg>

<div class="xl" style="left:165.0px">2/24</div>
<div class="xl" style="left:205.6px">3/15</div>
<div class="xl" style="left:246.1px">4/4</div>
<div class="xl" style="left:286.6px">4/24</div>
<div class="xl" style="left:327.1px">5/14</div>
<div class="xl" style="left:367.6px">6/3</div>
<div class="xl" style="left:408.1px">6/23</div>
<div class="xl" style="left:448.6px">7/13</div>
<div class="xl" style="left:489.1px">8/2</div>
<div class="xl" style="left:529.7px">8/22</div>
<div class="xl" style="left:570.2px">9/11</div>
<div class="xl" style="left:610.7px">10/1</div>
<div class="xl" style="left:651.2px">10/21</div>
<div class="xl" style="left:691.7px">11/10</div>
<div class="xl" style="left:752.5px">12/10</div>
</body></html>
